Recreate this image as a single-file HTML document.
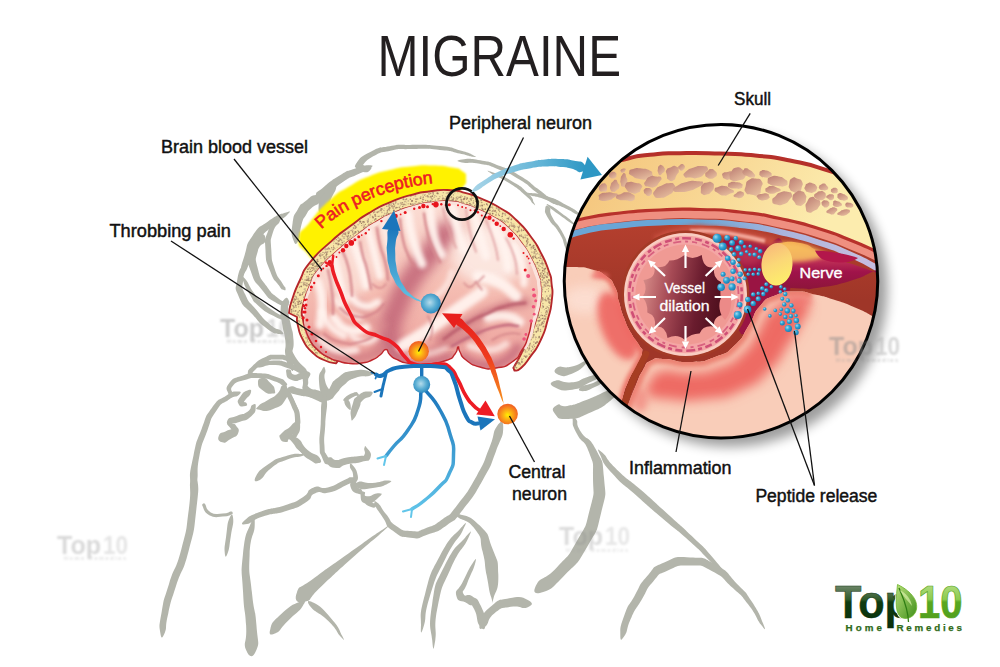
<!DOCTYPE html><html><head><meta charset="utf-8"><style>html,body{margin:0;padding:0;background:#fff}svg{display:block}text{font-family:"Liberation Sans",sans-serif}</style></head><body><svg width="1000" height="667" viewBox="0 0 1000 667">
<defs>
<clipPath id="cc"><circle cx="721" cy="281.2" r="157"/></clipPath>
<filter id="b1" x="-100%" y="-100%" width="300%" height="300%"><feGaussianBlur stdDeviation="1"/></filter>
<filter id="b2" x="-100%" y="-100%" width="300%" height="300%"><feGaussianBlur stdDeviation="2"/></filter>
<filter id="b3" x="-100%" y="-100%" width="300%" height="300%"><feGaussianBlur stdDeviation="3.5"/></filter>
<filter id="b6" x="-100%" y="-100%" width="300%" height="300%"><feGaussianBlur stdDeviation="6"/></filter>
<filter id="b8" x="-100%" y="-100%" width="300%" height="300%"><feGaussianBlur stdDeviation="8"/></filter>
<radialGradient id="gOr" cx="50%" cy="55%" r="50%"><stop offset="0" stop-color="#fff200"/><stop offset="0.35" stop-color="#fdb913"/><stop offset="1" stop-color="#f26522"/></radialGradient>
<radialGradient id="gBl" cx="45%" cy="45%" r="58%"><stop offset="0" stop-color="#b5dcec"/><stop offset="0.55" stop-color="#5aaed3"/><stop offset="1" stop-color="#2a86bd"/></radialGradient>
<radialGradient id="gDot" cx="35%" cy="35%" r="65%"><stop offset="0" stop-color="#9fdcf2"/><stop offset="0.5" stop-color="#2fa3d3"/><stop offset="1" stop-color="#1a7fb5"/></radialGradient>
<linearGradient id="gBlueArrow" x1="0" y1="0" x2="0" y2="1"><stop offset="0" stop-color="#1b75bb"/><stop offset="1" stop-color="#63c3e4"/></linearGradient>
<linearGradient id="gRedArrow" x1="0" y1="0" x2="0" y2="1"><stop offset="0" stop-color="#e8201d"/><stop offset="0.45" stop-color="#ee3a1e"/><stop offset="1" stop-color="#f7941e"/></linearGradient>
<linearGradient id="gBigArrow" x1="0" y1="0" x2="1" y2="0"><stop offset="0" stop-color="#a9d5e8"/><stop offset="0.6" stop-color="#62b4d6"/><stop offset="1" stop-color="#2d97c4"/></linearGradient>
<linearGradient id="gBlueDown" gradientUnits="userSpaceOnUse" x1="0" y1="390" x2="0" y2="515"><stop offset="0" stop-color="#1b75bb"/><stop offset="1" stop-color="#62c6ea"/></linearGradient>
<linearGradient id="gBrain" gradientUnits="userSpaceOnUse" x1="0" y1="205" x2="0" y2="370"><stop offset="0" stop-color="#fbddd4"/><stop offset="0.5" stop-color="#f5bdb2"/><stop offset="1" stop-color="#ec9f9b"/></linearGradient>
<linearGradient id="gBone" gradientUnits="userSpaceOnUse" x1="620" y1="150" x2="800" y2="260"><stop offset="0" stop-color="#f5c880"/><stop offset="0.45" stop-color="#f8d794"/><stop offset="1" stop-color="#fcecae"/></linearGradient>
<linearGradient id="gHole" x1="0.1" y1="0" x2="0.8" y2="1"><stop offset="0" stop-color="#bd7f74"/><stop offset="1" stop-color="#e8c0a0"/></linearGradient>
<linearGradient id="gLumen" gradientUnits="userSpaceOnUse" x1="642" y1="290" x2="728" y2="305"><stop offset="0" stop-color="#d58a87"/><stop offset="0.3" stop-color="#a64a55"/><stop offset="0.65" stop-color="#6a1c2e"/><stop offset="1" stop-color="#470c19"/></linearGradient>
<linearGradient id="gNerveEnd" x1="0.2" y1="0" x2="0.6" y2="1"><stop offset="0" stop-color="#f8b77a"/><stop offset="0.5" stop-color="#fbd877"/><stop offset="1" stop-color="#fdee6b"/></linearGradient>
<linearGradient id="gNerve" gradientUnits="userSpaceOnUse" x1="0" y1="242" x2="0" y2="292"><stop offset="0" stop-color="#f6a94e"/><stop offset="0.3" stop-color="#c8385a"/><stop offset="0.6" stop-color="#a0134a"/><stop offset="1" stop-color="#8a1538"/></linearGradient>
<linearGradient id="gDark" gradientUnits="userSpaceOnUse" x1="0" y1="225" x2="0" y2="300"><stop offset="0" stop-color="#b43f2e"/><stop offset="1" stop-color="#9f3628"/></linearGradient><linearGradient id="gTop" x1="0" y1="0" x2="0" y2="1"><stop offset="0" stop-color="#9aa595"/><stop offset="0.45" stop-color="#2f5a2a"/><stop offset="0.5" stop-color="#0e3b10"/><stop offset="1" stop-color="#0a2f0c"/></linearGradient>
<linearGradient id="gTen" x1="0" y1="0" x2="0" y2="1"><stop offset="0" stop-color="#c5e59a"/><stop offset="0.45" stop-color="#8ccb4d"/><stop offset="0.5" stop-color="#5aa820"/><stop offset="1" stop-color="#4d9a1b"/></linearGradient>
<linearGradient id="gLeaf" x1="0" y1="0" x2="1" y2="1"><stop offset="0" stop-color="#b8df7a"/><stop offset="1" stop-color="#3f8f1a"/></linearGradient>
</defs>

<rect width="1000" height="667" fill="#fff"/>
<path d="M473.2,155.2 C469.1,153.1 471.4,153.5 460.4,150.5 C449.3,147.5 457.0,148.0 440.2,146.1 C423.4,144.3 426.8,144.9 410.0,144.9 C393.1,145.0 402.6,144.0 389.6,146.3 C376.5,148.5 381.7,146.3 370.8,151.7 C359.9,157.1 360.5,157.5 356.9,162.4 C353.3,167.4 354.7,168.6 360.1,166.6 C365.5,164.5 363.1,161.6 373.2,156.3 C383.3,151.0 378.1,153.1 390.4,150.7 C402.7,148.3 393.6,149.3 410.0,149.1 C426.5,148.8 423.3,148.4 439.8,149.9 C456.3,151.4 448.7,151.2 459.6,153.5 C470.6,155.8 468.2,156.3 472.8,156.8 C477.3,157.4 477.4,157.3 473.2,155.2Z" fill="#b3b5ab"/>
<path d="M356.0,168.0 C357.0,171.4 358.4,171.5 363.2,172.1 C368.0,172.7 368.2,171.9 370.3,169.9 C372.5,167.9 371.5,167.5 369.7,166.1 C367.8,164.8 368.0,167.3 364.8,165.9 C361.6,164.5 363.0,161.2 360.0,162.0 C357.1,162.7 354.9,164.7 356.0,168.0Z" fill="#b3b5ab"/>
<path d="M368.4,165.2 C363.1,165.3 363.1,165.8 353.8,169.0 C344.5,172.3 350.5,169.0 340.5,174.9 C330.5,180.9 332.0,180.0 323.8,186.9 C315.6,193.7 316.8,190.8 315.8,195.4 C314.9,200.0 316.6,201.3 321.0,200.6 C325.4,199.8 321.2,199.6 329.0,193.1 C336.8,186.6 335.3,187.1 344.3,181.1 C353.4,175.0 347.8,179.1 356.2,175.0 C364.7,170.9 365.6,172.0 369.6,168.8 C373.7,165.5 373.6,165.1 368.4,165.2Z" fill="#b3b5ab"/>
<path d="M333.9,186.1 C329.5,188.4 328.1,188.1 323.1,194.7 C318.0,201.4 319.2,198.9 318.6,206.0 C318.1,213.0 319.6,212.6 321.5,215.9 C323.5,219.3 322.2,218.7 324.5,216.1 C326.7,213.4 326.2,213.6 328.4,208.0 C330.5,202.4 328.3,206.0 330.9,199.3 C333.5,192.6 335.2,192.3 336.1,187.9 C337.1,183.5 338.2,183.8 333.9,186.1Z" fill="#b3b5ab"/>
<path d="M315.9,195.0 C310.9,195.2 311.1,196.8 305.0,201.6 C299.0,206.4 301.9,202.4 297.7,209.5 C293.6,216.7 294.1,212.9 292.6,223.1 C291.1,233.2 291.2,234.1 293.2,239.8 C295.3,245.5 296.0,245.1 298.8,240.2 C301.5,235.2 298.9,233.5 301.4,224.9 C303.9,216.4 303.1,220.0 306.3,214.5 C309.5,209.0 306.4,212.9 311.0,208.4 C315.6,203.9 318.5,205.5 320.1,201.0 C321.7,196.5 320.9,194.8 315.9,195.0Z" fill="#b3b5ab"/>
<path d="M285.2,212.8 C279.0,214.8 278.9,213.8 268.0,221.5 C257.1,229.1 260.4,224.5 252.6,235.7 C244.8,246.9 248.4,243.3 244.6,255.2 C240.8,267.1 241.1,265.6 241.2,271.4 C241.3,277.2 241.4,277.1 244.8,272.6 C248.2,268.0 246.6,268.6 251.4,257.8 C256.3,247.0 252.5,250.7 259.4,240.3 C266.3,229.9 262.9,234.9 272.0,226.5 C281.1,218.2 282.4,219.8 286.8,215.2 C291.2,210.7 291.5,210.7 285.2,212.8Z" fill="#b3b5ab"/>
<path d="M256.4,239.0 C252.7,241.6 251.7,241.1 248.6,248.6 C245.6,256.1 246.4,256.9 247.2,261.5 C247.9,266.2 248.1,265.8 250.8,262.5 C253.6,259.1 252.4,258.5 255.4,251.4 C258.3,244.2 259.3,245.1 259.6,241.0 C260.0,236.9 260.0,236.5 256.4,239.0Z" fill="#b3b5ab"/>
<path d="M461.9,162.6 C467.8,164.0 467.2,161.4 479.7,163.8 C492.1,166.2 486.1,164.4 499.3,169.7 C512.6,174.9 507.4,172.3 519.4,179.6 C531.4,186.8 525.9,184.5 535.3,191.5 C544.7,198.4 540.6,195.9 547.5,200.3 C554.4,204.7 552.9,203.7 556.0,204.7 C559.2,205.7 559.2,205.6 557.0,203.3 C554.7,200.9 555.8,202.6 549.3,197.7 C542.8,192.8 546.8,195.6 537.5,188.5 C528.1,181.5 533.5,183.9 521.2,176.4 C509.0,169.0 514.3,171.7 500.7,166.3 C487.0,160.9 493.2,162.5 480.3,160.2 C467.5,157.9 468.2,158.6 462.1,159.4 C455.9,160.2 456.1,161.1 461.9,162.6Z" fill="#b3b5ab"/>
<path d="M491.6,173.8 C497.3,177.5 498.3,176.2 509.5,183.3 C520.7,190.5 517.4,188.5 525.2,195.2 C533.1,201.8 530.0,200.9 532.9,203.4 C535.8,205.9 535.7,206.1 533.9,202.6 C532.0,199.1 534.9,200.2 527.4,192.8 C519.8,185.5 522.8,187.5 511.1,180.7 C499.5,173.8 498.9,174.5 492.4,172.2 C485.9,169.9 485.9,170.1 491.6,173.8Z" fill="#b3b5ab"/>
<path d="M529.1,195.1 C534.5,197.3 534.3,195.5 545.8,199.7 C557.3,203.9 552.9,202.5 563.7,207.6 C574.4,212.7 572.9,213.2 578.1,215.0 C583.2,216.8 583.4,216.6 579.1,213.0 C574.9,209.5 576.0,210.0 565.3,204.4 C554.6,198.8 558.9,200.1 547.0,196.3 C535.1,192.5 535.6,193.3 529.7,192.9 C523.7,192.5 523.8,192.8 529.1,195.1Z" fill="#b3b5ab"/>
<path d="M548.9,206.7 C552.2,210.0 552.0,209.4 559.7,215.1 C567.4,220.7 567.5,221.3 572.0,223.7 C576.4,226.1 576.6,225.9 573.0,222.3 C569.5,218.7 569.0,218.6 561.3,212.9 C553.6,207.3 554.0,207.4 549.9,205.3 C545.8,203.2 545.6,203.4 548.9,206.7Z" fill="#b3b5ab"/>
<path d="M545.2,208.7 C544.9,212.5 544.0,210.9 548.6,219.0 C553.2,227.0 553.7,223.4 559.1,232.8 C564.6,242.1 562.1,238.5 565.0,247.0 C567.9,255.5 566.2,254.6 567.9,258.2 C569.6,261.8 570.1,261.8 570.1,257.8 C570.1,253.7 570.7,254.9 568.0,246.0 C565.3,237.2 567.1,240.9 561.9,231.2 C556.6,221.6 556.3,225.0 552.2,217.0 C548.1,209.1 551.9,210.1 549.6,207.3 C547.3,204.6 545.5,204.8 545.2,208.7Z" fill="#b3b5ab"/>
<path d="M276.9,219.0 C273.0,222.4 271.8,220.8 268.0,231.2 C264.2,241.6 264.8,236.9 265.5,250.2 C266.1,263.4 265.6,259.2 270.0,270.8 C274.4,282.5 274.1,278.8 278.6,285.1 C283.0,291.5 281.1,288.8 283.3,289.8 C285.6,290.8 285.8,290.5 285.5,288.2 C285.1,285.8 285.8,289.2 282.2,282.9 C278.7,276.5 278.4,280.2 274.8,269.2 C271.2,258.1 272.0,262.0 271.3,249.8 C270.7,237.7 270.0,242.4 272.8,232.8 C275.7,223.2 278.5,225.6 279.9,221.0 C281.2,216.4 280.9,215.6 276.9,219.0Z" fill="#b3b5ab"/>
<path d="M258.7,235.5 C253.0,238.3 250.8,237.0 248.2,248.8 C245.5,260.7 246.1,257.4 250.7,271.1 C255.3,284.7 253.9,279.4 261.9,289.7 C270.0,300.1 266.9,296.9 274.9,302.1 C282.9,307.2 281.9,305.0 285.9,305.3 C289.9,305.5 289.6,305.2 286.9,302.7 C284.2,300.3 284.6,303.4 277.9,297.9 C271.2,292.4 273.3,295.9 266.7,286.3 C260.0,276.6 260.8,280.6 257.9,268.9 C254.9,257.2 255.3,260.6 257.8,251.2 C260.3,241.7 265.0,245.7 265.3,240.5 C265.6,235.3 264.4,232.7 258.7,235.5Z" fill="#b3b5ab"/>
<path d="M244.7,262.4 C241.1,267.8 239.1,268.0 237.3,279.6 C235.4,291.3 234.2,285.9 239.1,297.4 C244.1,308.8 242.8,303.6 252.1,313.9 C261.3,324.3 257.6,321.7 266.8,328.4 C276.0,335.1 274.8,333.2 279.6,334.0 C284.4,334.8 284.4,334.0 281.2,330.8 C278.0,327.6 278.2,331.3 270.0,324.4 C261.8,317.5 264.8,320.0 256.5,310.1 C248.3,300.2 249.7,304.6 245.3,294.6 C240.8,284.7 242.2,290.7 243.1,280.4 C244.0,270.0 247.4,269.6 247.9,263.6 C248.5,257.6 248.2,257.1 244.7,262.4Z" fill="#b3b5ab"/>
<path d="M243.1,280.7 C244.7,285.9 245.0,286.8 250.2,295.2 C255.4,303.6 250.9,299.0 258.6,305.9 C266.3,312.8 264.9,311.3 273.3,315.8 C281.7,320.4 280.0,319.2 283.9,319.6 C287.7,320.1 287.7,319.7 284.9,317.2 C282.2,314.7 283.2,317.2 275.5,312.2 C267.9,307.1 269.2,308.5 262.0,302.1 C254.8,295.6 259.3,300.4 253.8,292.8 C248.3,285.2 249.0,283.4 245.5,279.3 C241.9,275.3 241.5,275.4 243.1,280.7Z" fill="#b3b5ab"/>
<path d="M283.9,299.8 C281.2,302.8 281.2,301.7 280.6,310.0 C280.1,318.3 280.8,314.6 282.3,324.7 C283.8,334.8 284.1,329.8 285.3,340.3 C286.4,350.9 284.0,346.9 285.7,356.3 C287.3,365.7 287.6,364.7 290.3,368.4 C293.0,372.2 293.0,371.8 293.7,367.6 C294.4,363.3 292.4,365.0 292.3,355.7 C292.3,346.4 294.2,350.5 293.5,339.7 C292.9,328.9 292.3,333.2 290.5,323.3 C288.7,313.4 288.7,317.5 288.1,310.0 C287.6,302.5 290.3,304.2 288.9,300.8 C287.5,297.4 286.7,296.7 283.9,299.8Z" fill="#b3b5ab"/>
<path d="M196.5,482.3 C199.4,474.0 195.8,473.7 199.3,456.6 C202.9,439.5 201.6,446.3 207.2,431.1 C212.8,415.8 209.1,421.3 216.2,410.9 C223.2,400.6 220.8,405.3 228.3,400.0 C235.9,394.7 235.8,397.9 238.8,395.1 C241.7,392.2 241.6,391.2 237.2,391.5 C232.9,391.8 234.1,390.5 225.7,396.0 C217.2,401.4 219.9,396.9 211.8,407.9 C203.8,418.9 207.7,413.1 201.6,428.9 C195.5,444.8 197.2,437.8 193.5,455.4 C189.8,473.0 189.5,472.7 190.5,481.7 C191.5,490.7 193.5,490.7 196.5,482.3Z" fill="#b3b5ab"/>
<path d="M231.9,393.5 C233.5,391.1 228.8,390.4 232.7,386.0 C236.7,381.6 235.0,382.9 243.7,380.3 C252.5,377.7 248.7,377.8 258.9,378.1 C269.1,378.4 266.0,378.7 274.3,381.2 C282.6,383.6 280.1,385.2 283.9,385.4 C287.6,385.7 288.3,384.8 285.5,382.0 C282.8,379.1 284.5,379.7 275.7,376.8 C266.9,373.9 270.2,373.7 259.1,373.3 C247.9,372.9 252.2,372.4 242.3,375.7 C232.3,378.9 234.0,377.2 229.3,383.0 C224.5,388.8 227.2,389.6 228.1,393.1 C229.0,396.6 230.4,395.9 231.9,393.5Z" fill="#b3b5ab"/>
<path d="M251.0,375.1 C253.5,374.0 250.4,373.8 255.5,369.4 C260.7,364.9 259.4,365.1 266.4,361.8 C273.5,358.5 269.3,359.6 276.7,359.6 C284.1,359.6 281.8,359.1 288.6,361.9 C295.5,364.6 292.2,363.4 297.2,368.0 C302.3,372.5 300.5,373.9 303.8,375.5 C307.2,377.0 308.4,376.4 307.4,372.5 C306.3,368.7 306.4,369.1 300.8,364.0 C295.1,359.0 298.4,360.4 290.4,357.3 C282.4,354.3 285.4,354.8 276.7,354.8 C268.0,354.8 272.5,353.7 264.4,357.4 C256.3,361.1 258.0,360.9 252.5,366.0 C247.0,371.2 248.4,369.8 247.8,372.9 C247.3,375.9 248.4,376.3 251.0,375.1Z" fill="#b3b5ab"/>
<path d="M259.3,367.5 C264.3,367.7 263.7,364.7 273.5,365.1 C283.3,365.4 279.4,365.9 288.8,368.5 C298.2,371.2 296.8,373.0 301.6,373.0 C306.4,373.1 307.0,372.0 303.2,368.8 C299.4,365.6 300.1,366.2 290.2,363.5 C280.3,360.7 284.0,360.2 273.5,360.5 C263.0,360.9 263.4,362.1 258.7,364.5 C253.9,366.8 254.4,367.3 259.3,367.5Z" fill="#b3b5ab"/>
<path d="M258.0,383.1 C258.1,387.4 258.9,387.4 263.6,390.9 C268.4,394.4 268.4,393.9 272.2,393.5 C275.9,393.2 275.4,393.3 274.8,389.9 C274.2,386.4 274.2,387.1 270.4,383.1 C266.5,379.2 267.4,377.9 263.2,377.9 C259.1,377.9 257.8,378.8 258.0,383.1Z" fill="#b3b5ab"/>
<path d="M282.5,385.3 C279.4,387.6 282.3,388.5 277.5,393.4 C272.6,398.3 274.3,395.8 268.0,400.0 C261.7,404.2 261.3,402.7 258.5,405.9 C255.6,409.2 254.8,408.6 259.5,409.7 C264.2,410.7 263.9,412.5 272.6,409.2 C281.3,405.8 280.8,407.1 285.5,399.6 C290.3,392.1 287.9,391.4 286.9,386.7 C285.9,381.9 285.7,383.1 282.5,385.3Z" fill="#b3b5ab"/>
<path d="M248.0,390.3 C244.7,391.4 243.7,391.6 240.6,396.3 C237.4,400.9 237.0,401.0 238.7,404.2 C240.3,407.5 242.9,406.5 245.5,406.1 C248.1,405.7 247.0,404.6 246.5,403.1 C246.1,401.7 244.5,402.9 244.1,401.8 C243.8,400.6 243.2,402.6 245.4,399.7 C247.6,396.8 249.9,396.2 250.8,393.1 C251.6,389.9 251.4,389.3 248.0,390.3Z" fill="#b3b5ab"/>
<path d="M252.3,405.0 C249.6,406.6 252.7,408.1 247.5,411.7 C242.3,415.3 243.4,413.0 236.7,415.9 C230.0,418.8 229.4,416.3 227.4,420.5 C225.4,424.7 229.2,425.6 230.7,428.5 C232.2,431.3 233.3,428.2 231.8,429.1 C230.4,430.0 230.7,428.9 226.4,431.1 C222.0,433.3 220.3,432.0 218.8,435.7 C217.4,439.4 218.2,441.3 222.2,442.3 C226.1,443.4 225.3,442.0 230.6,438.9 C236.0,435.7 236.4,437.3 238.2,432.9 C239.9,428.5 237.8,428.7 235.9,425.5 C234.0,422.4 231.5,424.7 232.6,423.5 C233.7,422.4 233.0,424.5 239.3,422.1 C245.5,419.7 245.8,421.4 251.3,416.3 C256.7,411.3 255.3,410.7 255.7,407.0 C256.0,403.2 255.0,403.5 252.3,405.0Z" fill="#b3b5ab"/>
<path d="M284.6,390.9 C285.4,395.8 287.2,395.0 290.6,403.9 C294.0,412.8 294.6,410.5 294.9,417.6 C295.2,424.7 295.4,420.4 291.5,425.2 C287.5,430.0 286.8,427.9 283.0,432.1 C279.1,436.4 278.9,434.7 279.9,438.0 C281.0,441.3 282.8,442.1 286.1,442.0 C289.3,442.0 286.0,442.3 289.6,437.9 C293.3,433.5 293.6,435.7 297.1,428.8 C300.6,421.9 300.9,426.1 300.1,417.2 C299.4,408.3 298.8,411.5 294.8,402.1 C290.8,392.8 291.4,392.9 288.0,389.1 C284.6,385.4 283.7,385.9 284.6,390.9Z" fill="#b3b5ab"/>
<path d="M288.3,437.5 C288.5,440.1 288.8,437.9 292.5,442.4 C296.3,446.9 294.3,446.6 299.5,450.9 C304.7,455.2 304.9,454.6 308.2,455.3 C311.5,456.1 311.4,455.7 309.4,453.3 C307.4,450.8 306.5,452.6 302.1,448.1 C297.7,443.5 299.5,444.1 296.1,439.6 C292.6,435.1 294.3,435.2 291.7,434.5 C289.1,433.8 288.0,434.8 288.3,437.5Z" fill="#b3b5ab"/>
<path d="M286.2,372.2 C286.8,375.8 286.1,377.9 291.8,380.1 C297.4,382.4 297.2,380.2 303.1,379.0 C309.0,377.8 307.8,379.1 309.5,376.5 C311.2,374.0 310.7,372.8 308.1,371.5 C305.5,370.1 306.6,371.4 301.7,372.4 C296.9,373.4 297.6,375.4 293.6,374.5 C289.7,373.5 292.3,370.3 289.8,369.6 C287.3,368.8 285.5,368.7 286.2,372.2Z" fill="#b3b5ab"/>
<path d="M303.7,374.9 C302.0,377.2 302.7,376.4 303.0,382.2 C303.2,387.9 300.5,386.4 304.5,392.2 C308.5,397.9 308.0,396.3 315.0,399.4 C321.9,402.5 321.1,403.2 325.3,401.5 C329.5,399.9 329.7,398.1 327.5,394.5 C325.3,390.8 324.6,392.8 318.6,390.6 C312.6,388.4 313.0,390.7 309.5,387.8 C306.1,384.9 308.6,386.1 308.2,381.8 C307.8,377.6 309.8,377.4 308.3,375.1 C306.8,372.8 305.5,372.5 303.7,374.9Z" fill="#b3b5ab"/>
<path d="M288.4,350.6 C289.4,354.4 289.8,354.4 293.3,361.0 C296.9,367.6 296.1,367.9 299.2,370.3 C302.2,372.8 303.3,372.0 302.4,368.3 C301.6,364.5 300.6,365.3 296.7,359.0 C292.7,352.7 293.3,352.2 290.6,349.4 C287.8,346.6 287.5,346.7 288.4,350.6Z" fill="#b3b5ab"/>
<path d="M289.2,391.5 C291.9,394.4 291.9,393.3 298.9,395.3 C305.8,397.2 302.7,395.8 310.1,397.3 C317.5,398.8 316.9,400.9 321.1,399.9 C325.4,398.8 326.0,397.4 322.9,394.1 C319.7,390.9 319.2,391.9 311.7,390.1 C304.2,388.3 307.3,389.9 300.3,388.7 C293.4,387.5 294.5,385.6 290.8,386.5 C287.1,387.4 286.5,388.6 289.2,391.5Z" fill="#b3b5ab"/>
<path d="M291.7,402.1 C292.1,408.7 295.8,410.1 296.1,421.1 C296.4,432.0 292.3,430.0 292.6,434.9 C292.9,439.8 294.6,440.6 297.0,435.9 C299.5,431.2 300.7,432.4 299.9,420.9 C299.2,409.4 297.5,407.6 294.7,401.3 C292.0,395.0 291.2,395.5 291.7,402.1Z" fill="#b3b5ab"/>
<path d="M296.7,441.2 C298.4,445.8 298.1,446.2 304.4,453.1 C310.7,460.0 310.7,460.6 315.6,461.9 C320.5,463.3 321.7,461.1 319.0,457.1 C316.4,453.0 314.2,455.8 307.6,449.9 C301.0,444.0 302.9,442.3 299.3,439.4 C295.6,436.5 295.0,436.6 296.7,441.2Z" fill="#b3b5ab"/>
<path d="M322.1,369.4 C320.1,373.2 318.5,372.4 319.0,381.4 C319.6,390.4 320.1,392.1 323.8,396.4 C327.6,400.7 329.8,399.5 330.2,394.2 C330.5,388.9 326.6,388.7 325.0,380.6 C323.3,372.5 326.2,373.6 325.3,369.8 C324.3,366.1 324.2,365.5 322.1,369.4Z" fill="#b3b5ab"/>
<path d="M370.2,371.7 C364.5,370.1 363.9,369.0 353.3,370.8 C342.7,372.7 346.3,371.5 338.5,377.2 C330.6,382.9 333.7,381.2 329.8,387.9 C325.8,394.6 326.3,393.4 326.5,397.3 C326.8,401.3 327.0,401.1 330.5,399.7 C333.9,398.3 332.2,398.1 336.8,393.1 C341.5,388.2 338.2,389.8 344.3,384.8 C350.4,379.7 346.4,381.1 355.1,378.0 C363.8,374.9 365.4,377.6 370.4,375.5 C375.4,373.4 375.9,373.2 370.2,371.7Z" fill="#b3b5ab"/>
<path d="M369.4,391.6 C365.2,391.4 364.1,390.7 358.4,395.2 C352.7,399.7 354.8,397.7 352.4,405.1 C349.9,412.5 350.5,413.0 351.1,417.4 C351.7,421.7 351.4,421.4 354.1,418.2 C356.8,415.1 356.3,413.9 359.2,407.9 C362.1,401.9 358.8,404.2 362.8,400.2 C366.8,396.2 369.0,398.7 371.2,395.8 C373.4,392.9 373.7,391.8 369.4,391.6Z" fill="#b3b5ab"/>
<path d="M346.2,400.7 C349.5,400.1 350.9,397.8 354.8,396.3 C358.7,394.8 356.7,397.0 357.8,396.2 C359.0,395.4 359.6,395.0 358.2,393.8 C356.7,392.6 358.1,391.3 353.6,392.7 C349.1,394.1 347.1,395.3 344.6,397.9 C342.2,400.6 342.8,401.2 346.2,400.7Z" fill="#b3b5ab"/>
<path d="M344.2,400.8 C344.3,403.9 345.7,406.4 348.0,408.6 C350.2,410.8 350.9,410.5 350.8,407.4 C350.8,404.3 350.0,401.5 347.8,399.2 C345.6,397.0 344.2,397.6 344.2,400.8Z" fill="#b3b5ab"/>
<path d="M322.2,399.9 C320.2,407.8 321.6,409.0 320.7,424.1 C319.8,439.2 319.1,434.0 319.6,445.1 C320.0,456.2 319.4,450.9 322.1,457.4 C324.8,463.9 324.3,463.5 327.7,464.6 C331.1,465.8 332.5,463.9 332.3,460.8 C332.0,457.6 329.5,460.5 326.9,455.2 C324.3,449.9 325.0,455.2 324.4,444.9 C323.9,434.6 324.5,439.2 325.3,424.3 C326.1,409.4 327.8,408.3 326.8,400.1 C325.8,392.0 324.2,391.9 322.2,399.9Z" fill="#b3b5ab"/>
<path d="M327.1,462.7 C329.2,466.2 329.5,467.5 336.2,468.0 C342.8,468.6 338.7,466.3 347.1,464.3 C355.4,462.2 353.4,464.2 361.2,461.9 C369.0,459.6 368.7,462.1 370.5,457.4 C372.4,452.6 368.8,450.7 366.7,447.7 C364.6,444.7 365.1,446.0 364.3,448.3 C363.6,450.6 366.0,452.0 364.5,454.6 C363.0,457.2 366.1,455.1 359.8,456.1 C353.6,457.1 353.4,456.4 345.7,457.7 C338.0,459.0 342.0,460.1 336.6,460.0 C331.3,459.8 332.9,456.4 329.7,457.3 C326.5,458.2 324.9,459.1 327.1,462.7Z" fill="#b3b5ab"/>
<path d="M294.7,440.8 C295.6,444.9 295.0,445.0 300.3,451.5 C305.7,458.1 304.7,456.7 310.7,460.5 C316.7,464.4 315.2,463.6 318.4,463.1 C321.6,462.6 321.7,461.4 320.2,458.9 C318.7,456.4 319.4,459.0 313.9,455.5 C308.4,452.0 309.2,453.9 303.7,448.5 C298.2,443.0 300.4,441.7 297.3,439.2 C294.3,436.6 293.7,436.7 294.7,440.8Z" fill="#b3b5ab"/>
<path d="M259.9,479.9 C265.0,477.1 262.5,474.7 271.4,468.0 C280.3,461.3 276.4,463.8 286.6,459.8 C296.9,455.8 297.1,457.9 302.2,456.0 C307.2,454.0 307.4,454.0 301.8,454.0 C296.2,454.1 296.4,452.8 285.4,456.2 C274.3,459.5 278.3,457.4 268.6,464.0 C258.8,470.7 259.0,470.9 256.1,476.1 C253.2,481.4 254.8,482.6 259.9,479.9Z" fill="#b3b5ab"/>
<path d="M349.9,466.6 C350.1,470.2 353.0,469.5 353.2,476.2 C353.5,483.0 348.7,481.0 350.6,486.9 C352.6,492.8 355.2,492.7 359.0,493.9 C362.8,495.1 362.9,493.4 362.0,490.5 C361.1,487.6 357.8,490.0 356.4,485.1 C354.9,480.2 358.9,482.3 357.8,475.8 C356.6,469.2 355.5,468.5 352.9,465.4 C350.2,462.3 349.8,463.0 349.9,466.6Z" fill="#b3b5ab"/>
<path d="M357.9,488.0 C362.8,490.0 362.7,489.6 372.8,488.1 C382.8,486.6 383.1,486.1 388.0,483.5 C392.8,481.0 392.5,480.7 387.2,480.5 C382.0,480.3 381.9,482.4 372.2,482.9 C362.5,483.4 362.9,480.3 358.1,482.0 C353.3,483.7 353.0,486.0 357.9,488.0Z" fill="#b3b5ab"/>
<path d="M360.5,494.1 C361.0,498.1 359.8,502.8 366.0,503.7 C372.3,504.6 375.4,500.3 379.3,496.8 C383.3,493.3 382.0,493.4 377.9,493.2 C373.7,493.1 371.4,496.8 367.0,496.3 C362.5,495.9 366.6,492.6 364.5,491.9 C362.3,491.1 360.0,490.2 360.5,494.1Z" fill="#b3b5ab"/>
<path d="M364.5,501.8 C365.8,504.7 367.1,505.9 371.2,507.1 C375.3,508.4 375.2,507.1 376.8,505.5 C378.5,504.0 377.5,503.4 376.2,502.5 C374.8,501.6 375.7,504.3 372.8,502.9 C369.9,501.5 370.2,498.6 367.5,498.2 C364.7,497.9 363.3,498.8 364.5,501.8Z" fill="#b3b5ab"/>
<path d="M375.2,504.9 C376.9,509.6 376.9,508.7 382.8,517.4 C388.7,526.0 383.7,524.1 392.9,530.8 C402.1,537.6 398.7,536.5 410.4,537.7 C422.0,539.0 415.6,538.8 427.8,534.5 C440.1,530.3 435.5,533.3 447.2,525.0 C458.8,516.8 450.9,525.0 462.9,509.8 C474.9,494.6 472.2,498.8 483.2,479.3 C494.2,459.8 489.3,468.3 495.9,451.4 C502.6,434.5 502.9,436.9 503.2,428.6 C503.5,420.2 501.5,419.8 496.8,426.4 C492.1,433.1 495.7,432.2 489.1,448.6 C482.4,465.0 487.4,456.8 476.8,475.7 C466.1,494.5 468.4,490.8 457.1,505.2 C445.8,519.7 453.4,511.3 442.8,519.0 C432.3,526.7 436.2,524.2 425.6,528.3 C415.0,532.3 420.8,531.8 411.0,531.1 C401.3,530.3 404.5,531.4 396.3,526.0 C388.1,520.5 392.6,522.3 386.4,514.6 C380.3,507.0 381.5,506.4 377.8,503.1 C374.1,499.9 373.5,500.1 375.2,504.9Z" fill="#b3b5ab"/>
<path d="M247.0,524.0 C253.0,522.9 249.6,520.9 262.9,516.5 C276.2,512.1 272.7,515.5 286.9,510.8 C301.2,506.2 296.1,508.4 305.6,502.5 C315.1,496.7 307.6,496.6 315.4,493.3 C323.3,489.9 319.0,495.2 329.0,492.6 C339.1,489.9 337.4,489.3 345.5,485.4 C353.6,481.5 351.2,483.4 353.3,480.7 C355.3,478.0 354.9,477.3 351.5,477.3 C348.2,477.2 351.2,477.2 343.3,480.6 C335.4,484.0 337.8,485.1 327.8,487.4 C317.7,489.8 321.6,484.4 313.2,487.7 C304.7,491.1 311.8,491.6 302.4,497.5 C293.1,503.3 298.8,500.5 285.1,505.2 C271.3,509.8 274.5,506.6 261.1,511.5 C247.8,516.4 249.7,515.8 245.0,520.0 C240.3,524.1 241.1,525.2 247.0,524.0Z" fill="#b3b5ab"/>
<path d="M191.0,477.9 C188.3,488.3 192.0,485.8 188.8,509.5 C185.6,533.3 188.0,524.3 181.4,549.0 C174.8,573.8 175.5,563.0 169.0,583.9 C162.4,604.8 164.6,595.7 161.7,611.8 C158.8,627.9 159.2,625.2 160.2,632.2 C161.2,639.2 162.1,639.1 164.8,632.8 C167.4,626.4 164.5,628.7 168.3,613.2 C172.0,597.6 169.3,606.9 176.0,586.1 C182.8,565.4 181.9,576.2 188.6,551.0 C195.3,525.7 193.4,534.7 196.2,510.5 C199.0,486.2 198.7,489.0 197.0,478.1 C195.3,467.3 193.7,467.4 191.0,477.9Z" fill="#b3b5ab"/>
<path d="M203.8,505.0 C205.8,507.9 203.8,510.4 210.0,513.8 C216.2,517.1 215.4,515.2 222.5,515.0 C229.6,514.8 228.3,513.7 231.2,513.0" fill="none" stroke="#b3b5ab" stroke-width="3.1" stroke-linecap="round" stroke-linejoin="round"/>
<path d="M229.3,518.4 C227.0,524.0 227.8,524.4 226.2,535.7 C224.7,546.9 224.2,546.6 224.7,552.3 C225.2,558.0 225.8,558.0 227.8,552.7 C229.8,547.4 229.0,547.6 230.8,536.3 C232.5,525.1 233.6,525.0 233.2,519.1 C232.7,513.1 231.7,512.9 229.3,518.4Z" fill="#b3b5ab"/>
<path d="M250.3,524.5 C246.3,534.3 245.3,532.0 242.9,554.8 C240.5,577.5 242.0,569.3 243.1,592.8 C244.2,616.3 245.1,606.3 246.1,625.3 C247.2,644.4 242.7,641.8 246.1,650.0 C249.5,658.2 253.0,658.4 256.4,650.0 C259.8,641.6 257.8,643.9 256.4,624.7 C254.9,605.4 254.2,615.3 251.9,592.2 C249.6,569.0 248.6,577.5 249.6,555.2 C250.5,533.0 254.5,535.7 254.7,525.5 C255.0,515.2 254.2,514.8 250.3,524.5Z" fill="#b3b5ab"/>
<path d="M384.6,528.2 C372.1,536.3 371.5,537.1 348.1,553.7 C324.8,570.2 331.6,564.9 314.5,577.8 C297.4,590.7 300.0,584.4 296.9,592.4 C293.8,600.3 296.9,603.7 305.1,601.6 C313.3,599.6 305.9,600.6 321.5,586.2 C337.1,571.8 330.6,577.3 351.9,558.3 C373.2,539.4 374.5,539.4 385.4,529.3 C396.3,519.3 397.0,520.1 384.6,528.2Z" fill="#b3b5ab"/>
<path d="M299.3,602.0 C292.0,604.8 290.3,605.6 280.7,614.6 C271.1,623.5 272.2,622.6 270.4,628.8 C268.7,635.0 269.9,635.6 275.6,633.2 C281.2,630.7 278.3,630.5 287.3,621.4 C296.3,612.4 298.7,612.5 302.7,606.0 C306.7,599.5 306.7,599.1 299.3,602.0Z" fill="#b3b5ab"/>
<path d="M310.8,607.0 C315.6,613.1 318.7,611.5 328.6,621.3 C338.5,631.1 336.1,631.8 340.5,636.5 C345.0,641.2 345.0,641.4 342.0,635.5 C338.9,629.6 340.7,629.5 331.4,618.7 C322.2,607.9 321.1,606.9 314.2,603.0 C307.3,599.1 306.0,600.9 310.8,607.0Z" fill="#b3b5ab"/>
<path d="M460.0,529.1 C452.4,537.5 451.5,534.4 439.8,556.1 C428.2,577.8 431.3,571.4 425.0,594.3 C418.7,617.1 421.3,614.4 421.0,624.7 C420.6,635.1 421.0,634.9 424.0,625.3 C427.1,615.6 423.0,617.9 430.0,595.7 C437.1,573.6 434.3,580.5 445.2,558.9 C456.0,537.3 457.6,540.8 462.5,530.9 C467.5,521.0 467.5,520.7 460.0,529.1Z" fill="#b3b5ab"/>
<path d="M464.9,537.9 C457.2,546.7 455.4,543.9 444.5,566.1 C433.5,588.3 436.2,579.8 432.1,604.4 C428.0,629.1 431.1,628.1 432.2,639.9 C433.3,651.8 433.4,651.5 435.3,640.1 C437.2,628.6 432.9,629.3 437.9,605.6 C443.0,581.8 440.6,590.9 450.5,568.9 C460.4,546.9 462.8,550.0 467.6,539.6 C472.4,529.3 472.6,529.1 464.9,537.9Z" fill="#b3b5ab"/>
<path d="M456.7,516.3 C462.3,521.6 466.6,517.7 475.2,529.4 C483.9,541.2 478.8,536.2 482.6,551.5 C486.4,566.9 483.8,560.3 486.7,575.6 C489.6,590.9 488.9,590.2 491.3,597.5 C493.6,604.8 491.4,605.2 493.7,597.5 C496.1,589.8 498.7,590.7 498.3,574.4 C497.9,558.0 498.6,564.7 492.4,548.5 C486.2,532.2 491.1,537.2 479.8,525.6 C468.4,514.0 466.0,516.7 458.3,513.7 C450.6,510.6 451.0,511.1 456.7,516.3Z" fill="#b3b5ab"/>
<path d="M472.6,563.2 C468.7,569.0 468.3,570.7 462.9,581.6 C457.5,592.5 454.9,588.7 456.4,596.0 C458.0,603.4 461.5,599.2 467.4,603.6 C473.4,608.0 470.1,601.7 474.2,609.2 C478.3,616.6 475.9,620.8 479.6,625.8 C483.4,630.8 485.0,630.8 485.4,624.2 C485.8,617.5 485.1,615.1 480.8,605.8 C476.5,596.6 478.3,600.4 472.6,596.4 C466.8,592.5 465.4,598.3 463.6,594.0 C461.7,589.7 463.3,593.3 467.1,583.4 C470.9,573.5 473.0,571.0 474.9,564.3 C476.7,557.5 476.6,557.5 472.6,563.2Z" fill="#b3b5ab"/>
<path d="M485.0,626.7 C489.9,623.2 486.2,619.5 494.8,612.9 C503.4,606.3 500.0,608.6 510.8,606.8 C521.6,605.0 521.6,609.7 527.2,607.4 C532.9,605.2 533.8,603.2 527.8,600.1 C521.8,597.0 521.8,595.8 509.2,598.2 C496.7,600.5 499.9,598.7 490.2,607.1 C480.4,615.5 481.7,616.8 480.0,623.3 C478.3,629.8 480.0,630.2 485.0,626.7Z" fill="#b3b5ab"/>
<path d="M554.9,413.7 C558.8,418.3 556.8,419.3 568.6,418.9 C580.5,418.5 576.5,418.6 590.5,412.5 C604.5,406.3 601.0,407.9 610.7,400.4 C620.3,392.8 617.5,394.5 619.4,389.8 C621.4,385.1 621.3,385.6 616.6,386.2 C611.9,386.8 615.7,386.9 605.3,391.6 C595.0,396.3 598.2,395.6 585.5,400.3 C572.9,405.1 576.9,404.3 567.4,405.9 C557.9,407.5 561.2,402.5 557.1,405.1 C552.9,407.7 551.1,409.1 554.9,413.7Z" fill="#b3b5ab"/>
<path d="M558.3,374.7 C563.4,376.6 563.6,377.1 573.0,373.2 C582.5,369.3 582.5,367.1 586.6,363.1 C590.7,359.0 590.6,359.7 585.4,360.9 C580.2,362.2 580.2,364.7 571.0,366.8 C561.8,368.9 562.0,364.7 557.7,367.3 C553.5,369.9 553.2,372.7 558.3,374.7Z" fill="#b3b5ab"/>
<path d="M554.6,387.3 C560.3,390.3 561.0,391.2 572.4,389.7 C583.9,388.2 580.4,386.9 589.1,382.8 C597.8,378.7 595.8,380.2 598.6,377.5 C601.4,374.7 601.3,374.6 597.4,374.5 C593.5,374.5 595.5,374.6 586.9,377.2 C578.3,379.8 582.1,381.2 571.6,382.3 C561.0,383.5 561.0,379.0 555.4,380.7 C549.7,382.3 548.9,384.3 554.6,387.3Z" fill="#b3b5ab"/>
<path d="M582.7,391.2 C587.3,391.2 588.2,390.4 594.9,387.1 C601.6,383.8 600.8,384.1 602.8,381.3 C604.9,378.5 604.4,378.1 601.2,378.7 C597.9,379.2 599.7,380.2 593.1,382.9 C586.4,385.6 584.7,384.1 581.3,386.8 C577.8,389.6 578.2,391.1 582.7,391.2Z" fill="#b3b5ab"/>
<path d="M572.7,420.6 C572.9,425.6 571.6,423.5 577.0,434.1 C582.5,444.8 583.8,437.8 589.1,452.5 C594.4,467.2 592.8,459.2 593.0,478.3 C593.3,497.3 595.2,488.6 589.8,509.6 C584.5,530.5 587.9,521.9 576.9,541.1 C566.0,560.3 570.4,552.9 557.0,567.2 C543.7,581.5 541.4,575.8 536.8,584.0 C532.2,592.3 533.8,595.1 543.2,592.0 C552.6,588.9 550.3,589.8 565.0,574.8 C579.6,559.8 575.0,567.7 587.1,546.9 C599.1,526.1 595.5,535.5 601.2,512.4 C606.8,489.4 605.7,498.7 604.0,477.7 C602.2,456.8 603.6,464.8 595.9,449.5 C588.2,434.2 587.5,441.9 581.0,431.9 C574.4,421.8 579.1,423.1 576.3,419.4 C573.6,415.6 572.4,415.7 572.7,420.6Z" fill="#b3b5ab"/>
<path d="M600.2,454.9 C603.6,461.9 600.7,460.5 612.8,474.1 C624.9,487.7 619.6,480.6 636.6,495.8 C653.5,510.9 646.6,504.8 663.8,519.5 C681.0,534.2 673.0,526.3 688.2,539.9 C703.4,553.6 695.5,545.9 709.3,560.5 C723.1,575.1 722.2,576.5 729.6,583.8 C736.9,591.0 737.1,591.0 731.4,582.2 C725.8,573.5 725.9,572.9 712.7,557.5 C699.5,542.1 706.6,550.4 691.8,536.1 C677.0,521.7 685.0,529.8 668.2,514.5 C651.4,499.2 658.5,505.1 641.4,490.2 C624.4,475.4 630.1,482.3 617.2,469.9 C604.3,457.5 608.4,458.1 602.8,453.1 C597.1,448.1 596.9,447.9 600.2,454.9Z" fill="#b3b5ab"/>
<path d="M624.7,635.6 C628.4,630.0 625.8,629.3 631.4,617.4 C637.0,605.6 634.3,612.0 641.5,600.1 C648.7,588.2 644.3,591.5 653.0,581.7 C661.8,571.8 655.5,575.9 667.8,570.5 C680.0,565.2 675.1,565.3 689.9,565.6 C704.7,565.8 697.9,563.7 712.2,571.2 C726.6,578.8 720.9,577.1 732.9,588.1 C744.9,599.2 738.8,592.2 748.1,604.3 C757.5,616.5 756.0,618.2 760.9,624.6 C765.9,631.0 766.1,631.0 763.1,623.4 C760.0,615.8 760.5,614.9 751.9,601.7 C743.2,588.5 749.1,596.2 737.1,583.9 C725.1,571.5 731.4,573.6 715.8,564.8 C700.1,555.9 707.3,558.2 690.1,557.4 C672.9,556.7 678.6,556.2 664.2,562.5 C649.8,568.7 656.9,565.2 647.0,576.3 C637.1,587.5 642.0,583.2 634.5,595.9 C627.1,608.7 629.3,601.8 624.6,614.6 C619.9,627.4 620.3,627.3 620.3,634.4 C620.3,641.4 621.0,641.3 624.7,635.6Z" fill="#b3b5ab"/>
<path d="M299.0,238.0 C300.3,228.0 299.7,234.7 310.0,222.0 C320.3,209.3 316.7,212.0 330.0,200.0 C343.3,188.0 336.7,194.0 350.0,186.0 C363.3,178.0 356.7,181.3 370.0,176.0 C383.3,170.7 376.5,173.2 390.0,170.0 C403.5,166.8 396.6,168.0 410.6,166.5 C424.6,165.0 418.2,165.2 432.0,165.5 C445.8,165.8 442.0,165.7 452.0,167.5 C462.0,169.3 457.3,167.5 462.0,171.0 C466.7,174.5 466.0,172.3 466.0,178.0 C466.0,183.7 467.3,182.0 462.0,188.0 C456.7,194.0 464.0,192.0 450.0,196.0 C436.0,200.0 440.0,195.3 420.0,200.0 C400.0,204.7 410.0,200.7 390.0,210.0 C370.0,219.3 378.3,215.3 360.0,228.0 C341.7,240.7 349.0,238.0 335.0,248.0 C321.0,258.0 327.7,256.7 318.0,258.0 C308.3,259.3 312.3,258.7 306.0,252.0 C299.7,245.3 297.7,248.0 299.0,238.0Z" fill="#fff200" filter="url(#b1)"/>
<clipPath id="skullclip"><path d="M289.0,313.0 C290.0,308.7 288.3,311.0 292.0,300.0 C295.7,289.0 294.0,292.5 300.0,280.0 C306.0,267.5 300.0,274.9 310.0,262.4 C320.0,249.9 316.7,254.4 330.0,242.4 C343.3,230.4 336.5,236.4 350.0,226.3 C363.5,216.2 356.9,220.2 370.4,212.2 C383.9,204.2 377.1,207.9 390.5,202.2 C403.9,196.5 397.2,198.9 410.6,195.2 C424.0,191.5 417.2,192.9 430.6,191.2 C444.0,189.5 438.9,189.5 450.7,190.2 C462.5,190.9 456.2,190.5 466.0,193.2 C475.8,195.9 468.5,193.2 480.0,198.2 C491.5,203.2 488.2,200.8 500.4,208.2 C512.6,215.6 506.5,210.9 516.5,220.3 C526.5,229.7 522.5,225.6 530.5,236.3 C538.5,247.0 534.6,241.0 540.6,252.4 C546.6,263.8 544.9,260.0 548.6,270.5 C552.3,281.0 550.5,274.1 551.6,284.0 C552.7,293.9 553.1,288.1 551.8,300.2 C550.5,312.3 551.3,306.8 547.6,320.2 C543.9,333.6 546.3,328.2 540.6,340.3 C534.9,352.4 537.0,347.2 530.5,356.4 C524.0,365.6 526.3,363.3 521.0,368.0 C515.7,372.7 516.7,369.7 514.5,370.6 L513.4,367.8 C514.4,366.1 513.2,368.4 516.4,362.8 C519.5,357.1 518.1,360.0 522.7,350.9 C527.4,341.8 525.7,346.7 530.4,335.5 C535.0,324.2 533.3,329.3 536.7,317.2 C540.1,305.0 539.4,309.6 540.6,299.0 C541.8,288.3 541.2,293.5 540.4,285.2 C539.5,277.0 541.2,283.4 537.9,274.2 C534.7,265.0 536.1,268.1 530.6,257.7 C525.1,247.3 528.7,252.8 521.5,243.1 C514.2,233.4 517.8,237.0 508.8,228.6 C499.8,220.2 505.6,224.5 494.5,217.9 C483.4,211.2 486.0,213.1 475.5,208.6 C465.0,204.0 471.5,206.5 463.0,204.1 C454.6,201.7 460.4,202.0 450.1,201.5 C439.7,200.9 444.2,200.9 432.0,202.4 C419.8,204.0 426.0,202.7 413.6,206.1 C401.2,209.5 407.4,207.3 394.9,212.6 C382.4,217.9 388.9,214.3 376.2,221.9 C363.5,229.5 369.6,225.7 356.8,235.4 C343.9,245.0 350.2,239.4 337.6,250.8 C324.9,262.2 328.0,258.1 318.8,269.4 C309.7,280.8 315.3,273.4 310.2,284.9 C305.0,296.3 306.2,293.4 303.4,303.8 C300.5,314.1 302.2,311.9 301.7,315.9 L302.5,316.0 C303.3,320.0 302.5,320.0 305.0,328.0 C307.5,336.0 305.7,332.7 310.0,340.0 C314.3,347.3 312.0,344.3 318.0,350.0 C324.0,355.7 321.3,353.3 328.0,357.0 C334.7,360.7 334.7,359.7 338.0,361.0 L336.0,363.4 C332.0,362.3 332.0,363.8 324.0,360.0 C316.0,356.2 319.0,358.7 312.0,352.0 C305.0,345.3 307.7,348.7 303.0,340.0 C298.3,331.3 300.0,333.7 298.0,326.0 C296.0,318.3 297.3,320.0 297.0,317.0 Z"/></clipPath>
<path d="M289.0,313.0 C290.0,308.7 288.3,311.0 292.0,300.0 C295.7,289.0 294.0,292.5 300.0,280.0 C306.0,267.5 300.0,274.9 310.0,262.4 C320.0,249.9 316.7,254.4 330.0,242.4 C343.3,230.4 336.5,236.4 350.0,226.3 C363.5,216.2 356.9,220.2 370.4,212.2 C383.9,204.2 377.1,207.9 390.5,202.2 C403.9,196.5 397.2,198.9 410.6,195.2 C424.0,191.5 417.2,192.9 430.6,191.2 C444.0,189.5 438.9,189.5 450.7,190.2 C462.5,190.9 456.2,190.5 466.0,193.2 C475.8,195.9 468.5,193.2 480.0,198.2 C491.5,203.2 488.2,200.8 500.4,208.2 C512.6,215.6 506.5,210.9 516.5,220.3 C526.5,229.7 522.5,225.6 530.5,236.3 C538.5,247.0 534.6,241.0 540.6,252.4 C546.6,263.8 544.9,260.0 548.6,270.5 C552.3,281.0 550.5,274.1 551.6,284.0 C552.7,293.9 553.1,288.1 551.8,300.2 C550.5,312.3 551.3,306.8 547.6,320.2 C543.9,333.6 546.3,328.2 540.6,340.3 C534.9,352.4 537.0,347.2 530.5,356.4 C524.0,365.6 526.3,363.3 521.0,368.0 C515.7,372.7 516.7,369.7 514.5,370.6 L513.4,367.8 C514.4,366.1 513.2,368.4 516.4,362.8 C519.5,357.1 518.1,360.0 522.7,350.9 C527.4,341.8 525.7,346.7 530.4,335.5 C535.0,324.2 533.3,329.3 536.7,317.2 C540.1,305.0 539.4,309.6 540.6,299.0 C541.8,288.3 541.2,293.5 540.4,285.2 C539.5,277.0 541.2,283.4 537.9,274.2 C534.7,265.0 536.1,268.1 530.6,257.7 C525.1,247.3 528.7,252.8 521.5,243.1 C514.2,233.4 517.8,237.0 508.8,228.6 C499.8,220.2 505.6,224.5 494.5,217.9 C483.4,211.2 486.0,213.1 475.5,208.6 C465.0,204.0 471.5,206.5 463.0,204.1 C454.6,201.7 460.4,202.0 450.1,201.5 C439.7,200.9 444.2,200.9 432.0,202.4 C419.8,204.0 426.0,202.7 413.6,206.1 C401.2,209.5 407.4,207.3 394.9,212.6 C382.4,217.9 388.9,214.3 376.2,221.9 C363.5,229.5 369.6,225.7 356.8,235.4 C343.9,245.0 350.2,239.4 337.6,250.8 C324.9,262.2 328.0,258.1 318.8,269.4 C309.7,280.8 315.3,273.4 310.2,284.9 C305.0,296.3 306.2,293.4 303.4,303.8 C300.5,314.1 302.2,311.9 301.7,315.9 L302.5,316.0 C303.3,320.0 302.5,320.0 305.0,328.0 C307.5,336.0 305.7,332.7 310.0,340.0 C314.3,347.3 312.0,344.3 318.0,350.0 C324.0,355.7 321.3,353.3 328.0,357.0 C334.7,360.7 334.7,359.7 338.0,361.0 L336.0,363.4 C332.0,362.3 332.0,363.8 324.0,360.0 C316.0,356.2 319.0,358.7 312.0,352.0 C305.0,345.3 307.7,348.7 303.0,340.0 C298.3,331.3 300.0,333.7 298.0,326.0 C296.0,318.3 297.3,320.0 297.0,317.0 Z" fill="#f7e6a8" stroke="#b5272b" stroke-width="1.9" stroke-linejoin="round"/>
<g clip-path="url(#skullclip)" opacity="0.9"><circle cx="532.6" cy="246.2" r="0.63" fill="#b08d70"/><circle cx="300.7" cy="301.9" r="0.84" fill="#b79a7e"/><circle cx="540.7" cy="256.8" r="0.53" fill="#94745d"/><circle cx="471.7" cy="204.8" r="0.64" fill="#a5846a"/><circle cx="517.6" cy="226.8" r="0.82" fill="#c9b090"/><circle cx="381.3" cy="210.0" r="0.88" fill="#c9b090"/><circle cx="335.0" cy="248.8" r="0.49" fill="#b08d70"/><circle cx="529.8" cy="245.0" r="0.52" fill="#a5846a"/><circle cx="354.3" cy="233.3" r="0.93" fill="#b79a7e"/><circle cx="522.2" cy="362.3" r="0.61" fill="#b79a7e"/><circle cx="501.4" cy="220.3" r="0.76" fill="#b79a7e"/><circle cx="547.0" cy="277.1" r="0.93" fill="#c9b090"/><circle cx="389.3" cy="204.4" r="0.66" fill="#b79a7e"/><circle cx="373.5" cy="212.7" r="0.60" fill="#b08d70"/><circle cx="523.6" cy="230.3" r="0.79" fill="#94745d"/><circle cx="303.3" cy="282.4" r="0.86" fill="#c9b090"/><circle cx="546.7" cy="280.4" r="0.69" fill="#b79a7e"/><circle cx="301.2" cy="286.4" r="0.92" fill="#94745d"/><circle cx="528.8" cy="350.0" r="0.72" fill="#c9b090"/><circle cx="423.0" cy="197.4" r="0.87" fill="#c9b090"/><circle cx="302.9" cy="293.0" r="0.76" fill="#b79a7e"/><circle cx="319.9" cy="263.8" r="0.91" fill="#c9b090"/><circle cx="412.2" cy="200.8" r="0.90" fill="#94745d"/><circle cx="542.5" cy="318.4" r="0.74" fill="#94745d"/><circle cx="525.5" cy="356.4" r="0.67" fill="#a5846a"/><circle cx="351.5" cy="230.6" r="0.76" fill="#b79a7e"/><circle cx="410.4" cy="199.2" r="0.80" fill="#a5846a"/><circle cx="397.7" cy="207.5" r="0.60" fill="#a5846a"/><circle cx="534.5" cy="247.4" r="0.79" fill="#c9b090"/><circle cx="334.8" cy="248.4" r="0.49" fill="#b08d70"/><circle cx="498.7" cy="218.8" r="0.47" fill="#b08d70"/><circle cx="412.8" cy="203.6" r="0.68" fill="#c9b090"/><circle cx="325.5" cy="249.3" r="0.91" fill="#a5846a"/><circle cx="537.9" cy="330.8" r="0.87" fill="#b79a7e"/><circle cx="545.5" cy="297.7" r="0.52" fill="#c9b090"/><circle cx="311.9" cy="264.3" r="0.64" fill="#a5846a"/><circle cx="528.7" cy="349.9" r="0.52" fill="#b08d70"/><circle cx="528.7" cy="354.1" r="0.71" fill="#c9b090"/><circle cx="542.1" cy="277.2" r="0.69" fill="#94745d"/><circle cx="473.5" cy="201.0" r="0.52" fill="#c9b090"/><circle cx="530.7" cy="337.1" r="0.93" fill="#c9b090"/><circle cx="522.6" cy="359.3" r="0.49" fill="#94745d"/><circle cx="492.7" cy="213.6" r="0.88" fill="#94745d"/><circle cx="306.8" cy="285.4" r="0.84" fill="#b08d70"/><circle cx="543.9" cy="263.7" r="0.60" fill="#b08d70"/><circle cx="544.4" cy="285.1" r="0.87" fill="#94745d"/><circle cx="538.4" cy="315.1" r="0.81" fill="#94745d"/><circle cx="539.9" cy="257.7" r="0.88" fill="#c9b090"/><circle cx="505.2" cy="222.0" r="0.61" fill="#94745d"/><circle cx="470.5" cy="198.8" r="0.70" fill="#94745d"/><circle cx="413.8" cy="198.3" r="0.62" fill="#c9b090"/><circle cx="416.0" cy="203.8" r="0.54" fill="#c9b090"/><circle cx="423.5" cy="202.6" r="0.71" fill="#b08d70"/><circle cx="333.8" cy="243.1" r="0.63" fill="#c9b090"/><circle cx="384.7" cy="213.4" r="0.81" fill="#c9b090"/><circle cx="338.2" cy="244.5" r="0.92" fill="#b08d70"/><circle cx="536.9" cy="267.9" r="0.60" fill="#b08d70"/><circle cx="538.9" cy="317.8" r="0.59" fill="#a5846a"/><circle cx="345.4" cy="233.4" r="0.67" fill="#b79a7e"/><circle cx="357.9" cy="230.6" r="0.54" fill="#a5846a"/><circle cx="472.3" cy="206.1" r="0.53" fill="#b79a7e"/><circle cx="314.3" cy="263.8" r="0.54" fill="#b79a7e"/><circle cx="509.5" cy="217.0" r="0.68" fill="#c9b090"/><circle cx="539.0" cy="265.3" r="0.75" fill="#b79a7e"/><circle cx="542.4" cy="290.7" r="0.45" fill="#c9b090"/><circle cx="383.5" cy="215.6" r="0.88" fill="#b08d70"/><circle cx="428.0" cy="201.8" r="0.72" fill="#94745d"/><circle cx="310.4" cy="269.6" r="0.71" fill="#b08d70"/><circle cx="390.8" cy="213.0" r="0.86" fill="#c9b090"/><circle cx="445.1" cy="199.0" r="0.77" fill="#94745d"/><circle cx="472.9" cy="198.3" r="0.75" fill="#b08d70"/><circle cx="475.3" cy="206.9" r="0.93" fill="#b08d70"/><circle cx="309.8" cy="271.6" r="0.90" fill="#a5846a"/><circle cx="430.7" cy="193.4" r="0.73" fill="#b08d70"/><circle cx="505.4" cy="215.0" r="0.76" fill="#b08d70"/><circle cx="428.1" cy="196.9" r="0.94" fill="#c9b090"/><circle cx="387.9" cy="209.6" r="0.80" fill="#c9b090"/><circle cx="522.9" cy="350.8" r="0.75" fill="#94745d"/><circle cx="541.6" cy="300.1" r="0.70" fill="#c9b090"/><circle cx="295.3" cy="303.9" r="0.94" fill="#c9b090"/><circle cx="384.3" cy="208.1" r="0.46" fill="#b08d70"/><circle cx="461.4" cy="195.8" r="0.47" fill="#b79a7e"/><circle cx="533.9" cy="342.0" r="0.69" fill="#b08d70"/><circle cx="378.8" cy="211.8" r="0.69" fill="#a5846a"/><circle cx="367.8" cy="220.8" r="0.87" fill="#94745d"/><circle cx="388.9" cy="209.3" r="0.95" fill="#b08d70"/><circle cx="533.2" cy="257.9" r="0.89" fill="#a5846a"/><circle cx="298.7" cy="306.8" r="0.60" fill="#b08d70"/><circle cx="547.4" cy="285.6" r="0.60" fill="#b08d70"/><circle cx="297.2" cy="301.5" r="0.63" fill="#b08d70"/><circle cx="320.4" cy="254.2" r="0.58" fill="#c9b090"/><circle cx="540.2" cy="276.0" r="0.89" fill="#b08d70"/><circle cx="342.6" cy="234.0" r="0.84" fill="#c9b090"/><circle cx="522.7" cy="237.1" r="0.80" fill="#c9b090"/><circle cx="521.6" cy="352.4" r="0.64" fill="#c9b090"/><circle cx="540.3" cy="273.9" r="0.55" fill="#94745d"/><circle cx="469.8" cy="203.8" r="0.48" fill="#a5846a"/><circle cx="542.4" cy="280.3" r="0.74" fill="#c9b090"/><circle cx="395.6" cy="203.0" r="0.69" fill="#b08d70"/><circle cx="515.6" cy="364.0" r="0.62" fill="#b79a7e"/><circle cx="451.4" cy="196.9" r="0.86" fill="#a5846a"/><circle cx="548.5" cy="298.2" r="0.86" fill="#a5846a"/><circle cx="536.5" cy="267.0" r="0.62" fill="#c9b090"/><circle cx="309.1" cy="284.6" r="0.80" fill="#a5846a"/><circle cx="322.3" cy="262.5" r="0.56" fill="#a5846a"/><circle cx="542.4" cy="287.7" r="0.95" fill="#c9b090"/><circle cx="327.7" cy="248.7" r="0.54" fill="#b79a7e"/><circle cx="306.1" cy="283.0" r="0.47" fill="#a5846a"/><circle cx="540.5" cy="263.5" r="0.49" fill="#a5846a"/><circle cx="514.4" cy="227.5" r="0.82" fill="#b08d70"/><circle cx="320.9" cy="253.3" r="0.50" fill="#b08d70"/><circle cx="482.1" cy="205.5" r="0.92" fill="#94745d"/><circle cx="300.0" cy="286.5" r="0.60" fill="#b08d70"/><circle cx="531.8" cy="252.0" r="0.60" fill="#b08d70"/><circle cx="507.2" cy="221.8" r="0.58" fill="#b08d70"/><circle cx="362.4" cy="222.0" r="0.83" fill="#b08d70"/><circle cx="325.6" cy="258.7" r="0.88" fill="#c9b090"/><circle cx="547.2" cy="299.2" r="0.52" fill="#a5846a"/><circle cx="539.6" cy="260.6" r="0.74" fill="#a5846a"/><circle cx="313.8" cy="273.9" r="0.70" fill="#c9b090"/><circle cx="364.3" cy="222.1" r="0.68" fill="#94745d"/><circle cx="316.3" cy="268.0" r="0.46" fill="#c9b090"/><circle cx="305.4" cy="290.3" r="0.92" fill="#c9b090"/><circle cx="540.7" cy="273.3" r="0.82" fill="#a5846a"/><circle cx="540.6" cy="266.3" r="0.56" fill="#b08d70"/><circle cx="428.0" cy="196.2" r="0.57" fill="#94745d"/><circle cx="526.8" cy="244.5" r="0.85" fill="#c9b090"/><circle cx="326.2" cy="257.1" r="0.63" fill="#94745d"/><circle cx="536.3" cy="331.8" r="0.93" fill="#94745d"/><circle cx="496.6" cy="208.0" r="0.95" fill="#b79a7e"/><circle cx="548.7" cy="301.1" r="0.48" fill="#a5846a"/><circle cx="296.0" cy="297.8" r="0.55" fill="#c9b090"/><circle cx="514.2" cy="360.4" r="0.78" fill="#94745d"/><circle cx="293.9" cy="314.1" r="0.60" fill="#b08d70"/><circle cx="453.4" cy="194.9" r="0.68" fill="#b79a7e"/><circle cx="332.5" cy="249.9" r="0.49" fill="#c9b090"/><circle cx="518.5" cy="356.6" r="0.53" fill="#94745d"/><circle cx="313.7" cy="263.9" r="0.53" fill="#94745d"/><circle cx="544.1" cy="268.6" r="0.69" fill="#a5846a"/><circle cx="413.0" cy="204.4" r="0.63" fill="#a5846a"/><circle cx="548.2" cy="275.3" r="0.68" fill="#b79a7e"/><circle cx="319.8" cy="264.3" r="0.61" fill="#c9b090"/><circle cx="544.5" cy="269.5" r="0.95" fill="#a5846a"/><circle cx="350.5" cy="235.7" r="0.74" fill="#a5846a"/><circle cx="530.1" cy="244.8" r="0.94" fill="#94745d"/><circle cx="544.8" cy="271.9" r="0.68" fill="#94745d"/><circle cx="307.0" cy="283.4" r="0.81" fill="#b79a7e"/><circle cx="544.4" cy="319.1" r="0.79" fill="#a5846a"/><circle cx="535.5" cy="257.4" r="0.81" fill="#94745d"/><circle cx="294.9" cy="311.2" r="0.68" fill="#c9b090"/><circle cx="334.1" cy="241.1" r="0.72" fill="#b08d70"/><circle cx="513.9" cy="223.9" r="0.50" fill="#a5846a"/><circle cx="366.1" cy="226.5" r="0.70" fill="#c9b090"/><circle cx="304.2" cy="289.2" r="0.77" fill="#c9b090"/><circle cx="438.5" cy="199.0" r="0.47" fill="#c9b090"/><circle cx="462.3" cy="196.5" r="0.48" fill="#a5846a"/><circle cx="345.1" cy="233.9" r="0.70" fill="#c9b090"/><circle cx="344.3" cy="238.5" r="0.49" fill="#94745d"/><circle cx="543.0" cy="326.7" r="0.72" fill="#b79a7e"/><circle cx="527.1" cy="235.3" r="0.82" fill="#b08d70"/><circle cx="296.0" cy="305.7" r="0.63" fill="#c9b090"/><circle cx="513.4" cy="229.1" r="0.71" fill="#b79a7e"/><circle cx="550.4" cy="294.6" r="0.83" fill="#c9b090"/><circle cx="513.6" cy="361.7" r="0.56" fill="#a5846a"/><circle cx="324.6" cy="253.4" r="0.49" fill="#94745d"/><circle cx="535.7" cy="339.0" r="0.52" fill="#b08d70"/><circle cx="308.2" cy="276.5" r="0.80" fill="#c9b090"/><circle cx="515.8" cy="230.4" r="0.59" fill="#c9b090"/><circle cx="547.7" cy="282.2" r="0.80" fill="#94745d"/><circle cx="519.3" cy="363.8" r="0.50" fill="#c9b090"/><circle cx="544.4" cy="315.9" r="0.83" fill="#b08d70"/><circle cx="298.0" cy="315.1" r="0.78" fill="#b79a7e"/><circle cx="519.4" cy="225.8" r="0.52" fill="#a5846a"/><circle cx="550.1" cy="295.7" r="0.66" fill="#a5846a"/><circle cx="533.5" cy="335.1" r="0.73" fill="#94745d"/><circle cx="303.3" cy="282.4" r="0.52" fill="#c9b090"/><circle cx="544.2" cy="270.8" r="0.47" fill="#b08d70"/><circle cx="541.2" cy="312.6" r="0.46" fill="#a5846a"/><circle cx="305.9" cy="292.1" r="0.86" fill="#c9b090"/><circle cx="525.8" cy="356.6" r="0.93" fill="#a5846a"/><circle cx="361.7" cy="225.4" r="0.51" fill="#b79a7e"/><circle cx="405.8" cy="201.5" r="0.53" fill="#b08d70"/><circle cx="535.7" cy="343.1" r="0.94" fill="#94745d"/><circle cx="499.2" cy="215.6" r="0.77" fill="#b79a7e"/><circle cx="461.5" cy="200.6" r="0.67" fill="#c9b090"/><circle cx="317.3" cy="261.1" r="0.67" fill="#b79a7e"/><circle cx="468.6" cy="201.1" r="0.54" fill="#a5846a"/><circle cx="541.5" cy="314.2" r="0.53" fill="#c9b090"/><circle cx="482.6" cy="206.8" r="0.50" fill="#c9b090"/><circle cx="547.6" cy="273.9" r="0.94" fill="#a5846a"/><circle cx="518.7" cy="227.8" r="0.80" fill="#94745d"/><circle cx="436.4" cy="196.3" r="0.55" fill="#b79a7e"/><circle cx="393.0" cy="207.9" r="0.63" fill="#b79a7e"/><circle cx="423.5" cy="197.1" r="0.57" fill="#a5846a"/><circle cx="529.4" cy="245.2" r="0.62" fill="#b79a7e"/><circle cx="533.8" cy="344.9" r="0.64" fill="#a5846a"/><circle cx="336.1" cy="243.6" r="0.83" fill="#94745d"/><circle cx="350.5" cy="236.6" r="0.83" fill="#c9b090"/><circle cx="543.7" cy="273.7" r="0.72" fill="#a5846a"/><circle cx="540.6" cy="331.2" r="0.79" fill="#a5846a"/><circle cx="492.0" cy="211.5" r="0.76" fill="#c9b090"/><circle cx="295.5" cy="302.9" r="0.46" fill="#94745d"/><circle cx="493.4" cy="209.9" r="0.69" fill="#c9b090"/><circle cx="463.1" cy="202.9" r="0.86" fill="#b08d70"/><circle cx="545.2" cy="267.0" r="0.52" fill="#c9b090"/><circle cx="422.5" cy="202.8" r="0.46" fill="#b08d70"/><circle cx="350.4" cy="230.8" r="0.49" fill="#a5846a"/><circle cx="543.5" cy="318.3" r="0.74" fill="#c9b090"/><circle cx="396.2" cy="210.7" r="0.46" fill="#b79a7e"/><circle cx="302.3" cy="279.0" r="0.49" fill="#94745d"/><circle cx="416.0" cy="201.6" r="0.87" fill="#b08d70"/><circle cx="527.1" cy="242.6" r="0.69" fill="#a5846a"/><circle cx="317.4" cy="259.8" r="0.94" fill="#b08d70"/><circle cx="450.8" cy="195.0" r="0.45" fill="#c9b090"/><circle cx="429.1" cy="194.3" r="0.78" fill="#b79a7e"/><circle cx="542.0" cy="272.3" r="0.64" fill="#a5846a"/><circle cx="527.2" cy="347.8" r="0.73" fill="#94745d"/><circle cx="371.0" cy="222.9" r="0.56" fill="#94745d"/><circle cx="540.5" cy="329.5" r="0.76" fill="#b79a7e"/><circle cx="308.2" cy="279.4" r="0.83" fill="#b79a7e"/><circle cx="542.1" cy="260.1" r="0.73" fill="#b08d70"/><circle cx="546.9" cy="295.7" r="0.57" fill="#c9b090"/><circle cx="498.5" cy="215.0" r="0.57" fill="#c9b090"/><circle cx="381.3" cy="209.0" r="0.89" fill="#94745d"/><circle cx="343.3" cy="238.1" r="0.52" fill="#94745d"/><circle cx="511.8" cy="224.4" r="0.73" fill="#c9b090"/><circle cx="344.0" cy="236.5" r="0.50" fill="#94745d"/><circle cx="549.9" cy="296.2" r="0.93" fill="#b79a7e"/><circle cx="530.8" cy="344.8" r="0.49" fill="#b79a7e"/><circle cx="527.0" cy="351.8" r="0.64" fill="#b79a7e"/><circle cx="513.1" cy="363.1" r="0.87" fill="#c9b090"/><circle cx="532.4" cy="349.3" r="0.55" fill="#b79a7e"/><circle cx="313.2" cy="262.1" r="0.53" fill="#b08d70"/><circle cx="547.2" cy="311.8" r="0.83" fill="#94745d"/><circle cx="533.1" cy="337.1" r="0.54" fill="#b08d70"/><circle cx="517.4" cy="231.7" r="0.93" fill="#a5846a"/><circle cx="422.5" cy="195.0" r="0.48" fill="#b79a7e"/><circle cx="402.5" cy="202.8" r="0.68" fill="#a5846a"/><circle cx="367.3" cy="220.2" r="0.72" fill="#c9b090"/><circle cx="291.8" cy="311.0" r="0.75" fill="#94745d"/><circle cx="324.5" cy="258.3" r="0.70" fill="#94745d"/><circle cx="549.4" cy="302.8" r="0.83" fill="#94745d"/><circle cx="293.0" cy="305.5" r="0.69" fill="#94745d"/><circle cx="542.7" cy="305.6" r="0.91" fill="#c9b090"/><circle cx="325.6" cy="252.2" r="0.70" fill="#a5846a"/><circle cx="519.2" cy="226.7" r="0.65" fill="#a5846a"/><circle cx="495.9" cy="211.7" r="0.56" fill="#b79a7e"/><circle cx="379.1" cy="215.9" r="0.49" fill="#94745d"/><circle cx="312.6" cy="270.3" r="0.67" fill="#b79a7e"/><circle cx="502.4" cy="220.7" r="0.88" fill="#b79a7e"/><circle cx="310.8" cy="271.6" r="0.51" fill="#a5846a"/><circle cx="297.9" cy="312.4" r="0.52" fill="#a5846a"/><circle cx="294.8" cy="303.3" r="0.68" fill="#c9b090"/><circle cx="521.4" cy="358.3" r="0.48" fill="#b79a7e"/><circle cx="349.2" cy="239.7" r="0.67" fill="#c9b090"/><circle cx="497.3" cy="208.9" r="0.59" fill="#c9b090"/><circle cx="492.5" cy="205.9" r="0.53" fill="#b08d70"/><circle cx="455.9" cy="200.3" r="0.92" fill="#b08d70"/><circle cx="533.8" cy="253.7" r="0.56" fill="#c9b090"/><circle cx="540.7" cy="315.6" r="0.86" fill="#c9b090"/><circle cx="428.9" cy="192.9" r="0.86" fill="#b79a7e"/><circle cx="514.8" cy="365.9" r="0.60" fill="#b79a7e"/><circle cx="449.5" cy="198.8" r="0.49" fill="#94745d"/><circle cx="354.8" cy="228.8" r="0.55" fill="#b79a7e"/><circle cx="473.7" cy="200.7" r="0.45" fill="#a5846a"/><circle cx="545.7" cy="316.1" r="0.68" fill="#a5846a"/><circle cx="545.0" cy="275.5" r="0.90" fill="#b79a7e"/><circle cx="348.5" cy="236.5" r="0.82" fill="#c9b090"/><circle cx="400.3" cy="205.8" r="0.52" fill="#b79a7e"/><circle cx="310.7" cy="280.3" r="0.92" fill="#a5846a"/><circle cx="293.4" cy="306.6" r="0.66" fill="#94745d"/><circle cx="324.6" cy="259.1" r="0.64" fill="#b79a7e"/><circle cx="329.1" cy="248.7" r="0.90" fill="#b08d70"/><circle cx="309.0" cy="271.7" r="0.50" fill="#c9b090"/><circle cx="427.4" cy="195.9" r="0.90" fill="#b08d70"/><circle cx="518.9" cy="231.0" r="0.89" fill="#b08d70"/><circle cx="324.7" cy="252.8" r="0.72" fill="#c9b090"/><circle cx="322.0" cy="255.1" r="0.78" fill="#a5846a"/><circle cx="291.2" cy="309.3" r="0.56" fill="#b79a7e"/><circle cx="488.0" cy="210.6" r="0.57" fill="#94745d"/><circle cx="305.6" cy="288.7" r="0.57" fill="#c9b090"/><circle cx="518.5" cy="364.4" r="0.46" fill="#94745d"/><circle cx="459.1" cy="197.2" r="0.78" fill="#94745d"/><circle cx="514.0" cy="226.5" r="0.81" fill="#b08d70"/><circle cx="435.1" cy="201.1" r="0.60" fill="#b79a7e"/><circle cx="519.0" cy="237.7" r="0.49" fill="#c9b090"/><circle cx="304.8" cy="289.0" r="0.71" fill="#c9b090"/><circle cx="316.0" cy="271.1" r="0.60" fill="#b08d70"/><circle cx="427.8" cy="200.6" r="0.52" fill="#94745d"/><circle cx="304.3" cy="284.4" r="0.73" fill="#b79a7e"/><circle cx="513.9" cy="225.3" r="0.48" fill="#a5846a"/><circle cx="316.6" cy="261.9" r="0.52" fill="#94745d"/><circle cx="376.0" cy="218.9" r="0.69" fill="#b79a7e"/><circle cx="549.1" cy="301.7" r="0.58" fill="#a5846a"/><circle cx="533.4" cy="247.5" r="0.53" fill="#b79a7e"/><circle cx="547.7" cy="282.8" r="0.89" fill="#c9b090"/><circle cx="532.9" cy="347.3" r="0.52" fill="#a5846a"/><circle cx="547.2" cy="300.8" r="0.51" fill="#c9b090"/><circle cx="302.3" cy="294.4" r="0.76" fill="#a5846a"/><circle cx="298.0" cy="302.4" r="0.51" fill="#b08d70"/><circle cx="528.0" cy="242.0" r="0.74" fill="#b08d70"/><circle cx="548.3" cy="279.5" r="0.48" fill="#b08d70"/><circle cx="307.9" cy="269.3" r="0.81" fill="#94745d"/><circle cx="536.8" cy="258.5" r="0.72" fill="#a5846a"/><circle cx="534.3" cy="256.3" r="0.59" fill="#c9b090"/><circle cx="546.0" cy="308.4" r="0.68" fill="#94745d"/><circle cx="298.0" cy="314.5" r="0.61" fill="#c9b090"/><circle cx="471.2" cy="200.0" r="0.78" fill="#94745d"/><circle cx="399.9" cy="209.2" r="0.55" fill="#a5846a"/><circle cx="328.8" cy="249.8" r="0.49" fill="#c9b090"/><circle cx="457.8" cy="198.5" r="0.78" fill="#b79a7e"/><circle cx="345.7" cy="232.9" r="0.70" fill="#b08d70"/><circle cx="461.7" cy="202.2" r="0.62" fill="#a5846a"/><circle cx="327.5" cy="252.1" r="0.73" fill="#b08d70"/><circle cx="499.4" cy="219.6" r="0.56" fill="#b79a7e"/><circle cx="542.6" cy="263.7" r="0.73" fill="#94745d"/><circle cx="532.1" cy="346.2" r="0.76" fill="#b79a7e"/><circle cx="372.6" cy="216.7" r="0.87" fill="#b08d70"/><circle cx="375.2" cy="216.1" r="0.80" fill="#a5846a"/><circle cx="539.1" cy="337.6" r="0.83" fill="#94745d"/><circle cx="309.1" cy="268.3" r="0.77" fill="#b08d70"/><circle cx="338.1" cy="238.0" r="0.94" fill="#c9b090"/><circle cx="338.7" cy="244.3" r="0.81" fill="#94745d"/><circle cx="312.5" cy="267.9" r="0.61" fill="#a5846a"/><circle cx="395.9" cy="202.2" r="0.81" fill="#c9b090"/><circle cx="521.5" cy="359.7" r="0.48" fill="#a5846a"/><circle cx="338.4" cy="237.6" r="0.50" fill="#b08d70"/><circle cx="443.3" cy="192.7" r="0.66" fill="#b79a7e"/><circle cx="450.4" cy="191.6" r="0.73" fill="#94745d"/><circle cx="540.9" cy="258.4" r="0.71" fill="#94745d"/><circle cx="306.7" cy="279.1" r="0.50" fill="#b79a7e"/><circle cx="317.6" cy="264.3" r="0.50" fill="#b08d70"/><circle cx="430.6" cy="196.4" r="0.59" fill="#b08d70"/><circle cx="463.6" cy="202.9" r="0.66" fill="#b79a7e"/><circle cx="518.8" cy="362.6" r="0.91" fill="#c9b090"/><circle cx="537.6" cy="262.6" r="0.91" fill="#94745d"/><circle cx="514.8" cy="362.2" r="0.71" fill="#b79a7e"/><circle cx="393.0" cy="203.1" r="0.92" fill="#c9b090"/><circle cx="394.1" cy="206.4" r="0.91" fill="#b08d70"/><circle cx="534.2" cy="252.9" r="0.59" fill="#94745d"/><circle cx="466.6" cy="199.2" r="0.83" fill="#b08d70"/><circle cx="309.8" cy="267.5" r="0.55" fill="#a5846a"/><circle cx="460.6" cy="202.5" r="0.52" fill="#b79a7e"/><circle cx="539.2" cy="254.1" r="0.67" fill="#b08d70"/><circle cx="469.3" cy="203.8" r="0.53" fill="#c9b090"/><circle cx="312.9" cy="265.2" r="0.89" fill="#94745d"/><circle cx="549.1" cy="280.4" r="0.81" fill="#a5846a"/><circle cx="353.1" cy="234.2" r="0.62" fill="#b08d70"/><circle cx="477.4" cy="204.7" r="0.69" fill="#b08d70"/><circle cx="527.3" cy="238.3" r="0.62" fill="#94745d"/><circle cx="323.8" cy="256.9" r="0.60" fill="#94745d"/><circle cx="545.6" cy="318.2" r="0.78" fill="#a5846a"/><circle cx="294.6" cy="313.8" r="0.53" fill="#c9b090"/><circle cx="541.5" cy="263.7" r="0.86" fill="#b08d70"/><circle cx="542.9" cy="270.8" r="0.91" fill="#b08d70"/><circle cx="490.0" cy="207.7" r="0.79" fill="#a5846a"/><circle cx="333.8" cy="247.6" r="0.78" fill="#b08d70"/><circle cx="539.9" cy="325.6" r="0.68" fill="#94745d"/><circle cx="298.4" cy="292.8" r="0.45" fill="#a5846a"/><circle cx="548.8" cy="299.6" r="0.94" fill="#b08d70"/><circle cx="365.3" cy="224.4" r="0.65" fill="#a5846a"/><circle cx="432.4" cy="196.1" r="0.88" fill="#94745d"/><circle cx="293.1" cy="308.7" r="0.57" fill="#a5846a"/><circle cx="541.7" cy="301.7" r="0.64" fill="#b08d70"/><circle cx="393.5" cy="204.6" r="0.50" fill="#b08d70"/><circle cx="523.5" cy="237.7" r="0.85" fill="#a5846a"/><circle cx="515.0" cy="366.6" r="0.87" fill="#b79a7e"/><circle cx="452.3" cy="192.3" r="0.46" fill="#b79a7e"/><circle cx="312.1" cy="264.2" r="0.89" fill="#c9b090"/><circle cx="477.3" cy="201.3" r="0.49" fill="#b08d70"/><circle cx="531.3" cy="247.6" r="0.76" fill="#b08d70"/><circle cx="542.3" cy="289.7" r="0.88" fill="#b79a7e"/><circle cx="298.2" cy="304.6" r="0.67" fill="#b08d70"/><circle cx="352.3" cy="237.2" r="0.80" fill="#b79a7e"/><circle cx="313.5" cy="268.4" r="0.89" fill="#b79a7e"/><circle cx="356.5" cy="227.6" r="0.47" fill="#a5846a"/><circle cx="390.9" cy="205.2" r="0.89" fill="#c9b090"/><circle cx="337.1" cy="247.2" r="0.51" fill="#c9b090"/><circle cx="546.9" cy="276.1" r="0.52" fill="#c9b090"/><circle cx="328.1" cy="251.2" r="0.46" fill="#c9b090"/><circle cx="495.9" cy="215.0" r="0.80" fill="#94745d"/><circle cx="547.0" cy="313.3" r="0.57" fill="#c9b090"/><circle cx="536.6" cy="326.0" r="0.86" fill="#b08d70"/><circle cx="517.8" cy="360.0" r="0.82" fill="#b79a7e"/><circle cx="349.1" cy="232.4" r="0.58" fill="#a5846a"/><circle cx="347.5" cy="239.3" r="0.93" fill="#b79a7e"/><circle cx="423.5" cy="199.7" r="0.80" fill="#c9b090"/><circle cx="422.3" cy="201.6" r="0.76" fill="#b79a7e"/><circle cx="295.7" cy="310.9" r="0.80" fill="#a5846a"/><circle cx="549.9" cy="302.9" r="0.72" fill="#94745d"/><circle cx="542.2" cy="294.7" r="0.49" fill="#b79a7e"/><circle cx="423.3" cy="193.9" r="0.48" fill="#b08d70"/><circle cx="425.7" cy="200.4" r="0.69" fill="#b08d70"/><circle cx="462.9" cy="201.8" r="0.61" fill="#b08d70"/><circle cx="446.3" cy="193.2" r="0.66" fill="#c9b090"/><circle cx="537.9" cy="342.1" r="0.69" fill="#a5846a"/><circle cx="535.7" cy="337.2" r="0.84" fill="#c9b090"/><circle cx="354.4" cy="225.6" r="0.78" fill="#94745d"/><circle cx="308.4" cy="269.1" r="0.61" fill="#b79a7e"/><circle cx="401.0" cy="203.1" r="0.83" fill="#a5846a"/><circle cx="396.1" cy="207.5" r="0.84" fill="#b08d70"/><circle cx="516.6" cy="367.7" r="0.77" fill="#a5846a"/><circle cx="300.0" cy="295.1" r="0.89" fill="#b79a7e"/><circle cx="460.8" cy="196.2" r="0.66" fill="#b08d70"/><circle cx="463.8" cy="199.2" r="0.93" fill="#b08d70"/><circle cx="368.9" cy="224.3" r="0.87" fill="#b08d70"/><circle cx="391.1" cy="204.0" r="0.64" fill="#c9b090"/><circle cx="309.5" cy="268.5" r="0.76" fill="#c9b090"/><circle cx="314.0" cy="275.7" r="0.89" fill="#94745d"/><circle cx="546.8" cy="272.5" r="0.61" fill="#c9b090"/><circle cx="403.4" cy="199.3" r="0.93" fill="#a5846a"/><circle cx="525.1" cy="235.0" r="0.59" fill="#94745d"/><circle cx="467.0" cy="202.7" r="0.70" fill="#94745d"/><circle cx="492.9" cy="210.9" r="0.87" fill="#b08d70"/><circle cx="519.0" cy="363.1" r="0.78" fill="#b08d70"/><circle cx="546.9" cy="296.2" r="0.66" fill="#b79a7e"/><circle cx="303.9" cy="284.2" r="0.89" fill="#94745d"/><circle cx="541.5" cy="324.0" r="0.75" fill="#b08d70"/><circle cx="312.3" cy="264.0" r="0.67" fill="#94745d"/><circle cx="300.8" cy="294.9" r="0.74" fill="#a5846a"/><circle cx="308.3" cy="284.7" r="0.60" fill="#94745d"/><circle cx="384.5" cy="210.8" r="0.57" fill="#c9b090"/><circle cx="467.1" cy="197.7" r="0.80" fill="#b08d70"/><circle cx="540.3" cy="280.2" r="0.73" fill="#c9b090"/><circle cx="529.4" cy="348.0" r="0.68" fill="#a5846a"/><circle cx="339.1" cy="240.8" r="0.95" fill="#b08d70"/><circle cx="307.2" cy="271.8" r="0.89" fill="#94745d"/><circle cx="542.2" cy="322.6" r="0.76" fill="#a5846a"/><circle cx="434.9" cy="195.8" r="0.67" fill="#94745d"/><circle cx="320.3" cy="255.6" r="0.85" fill="#b08d70"/><circle cx="467.4" cy="198.4" r="0.54" fill="#c9b090"/><circle cx="299.4" cy="310.7" r="0.65" fill="#94745d"/><circle cx="347.6" cy="236.9" r="0.67" fill="#b08d70"/><circle cx="494.4" cy="211.2" r="0.59" fill="#a5846a"/><circle cx="348.3" cy="238.7" r="0.78" fill="#b79a7e"/><circle cx="544.4" cy="277.7" r="0.74" fill="#b08d70"/><circle cx="300.6" cy="303.5" r="0.84" fill="#94745d"/><circle cx="311.7" cy="268.0" r="0.76" fill="#b79a7e"/><circle cx="524.2" cy="348.3" r="0.47" fill="#c9b090"/><circle cx="296.7" cy="298.1" r="0.71" fill="#a5846a"/><circle cx="361.2" cy="230.9" r="0.62" fill="#94745d"/><circle cx="356.7" cy="227.1" r="0.46" fill="#a5846a"/><circle cx="546.5" cy="311.1" r="0.94" fill="#94745d"/><circle cx="317.1" cy="260.2" r="0.48" fill="#a5846a"/><circle cx="538.1" cy="316.1" r="0.82" fill="#94745d"/><circle cx="542.4" cy="322.2" r="0.66" fill="#94745d"/><circle cx="393.0" cy="203.2" r="0.54" fill="#c9b090"/><circle cx="533.7" cy="348.9" r="0.60" fill="#b79a7e"/><circle cx="529.9" cy="354.2" r="0.82" fill="#b08d70"/><circle cx="355.6" cy="228.1" r="0.74" fill="#94745d"/><circle cx="481.6" cy="200.7" r="0.58" fill="#c9b090"/><circle cx="326.3" cy="249.4" r="0.49" fill="#b79a7e"/><circle cx="400.6" cy="203.5" r="0.93" fill="#c9b090"/><circle cx="298.2" cy="312.0" r="0.82" fill="#b08d70"/><circle cx="402.0" cy="204.4" r="0.63" fill="#94745d"/><circle cx="536.1" cy="251.1" r="0.87" fill="#b08d70"/><circle cx="389.7" cy="208.5" r="0.79" fill="#b08d70"/><circle cx="521.6" cy="230.6" r="0.91" fill="#b08d70"/><circle cx="391.2" cy="204.1" r="0.57" fill="#c9b090"/><circle cx="539.1" cy="266.4" r="0.56" fill="#b79a7e"/><circle cx="353.1" cy="234.1" r="0.53" fill="#b08d70"/><circle cx="521.4" cy="236.2" r="0.87" fill="#b08d70"/><circle cx="481.8" cy="202.6" r="0.67" fill="#94745d"/><circle cx="546.5" cy="277.3" r="0.75" fill="#b08d70"/><circle cx="469.9" cy="203.5" r="0.78" fill="#94745d"/><circle cx="514.0" cy="225.8" r="0.71" fill="#a5846a"/><circle cx="390.9" cy="203.5" r="0.53" fill="#b79a7e"/><circle cx="536.1" cy="262.7" r="0.64" fill="#c9b090"/><circle cx="525.4" cy="352.0" r="0.77" fill="#b79a7e"/><circle cx="346.2" cy="236.0" r="0.73" fill="#b79a7e"/><circle cx="549.2" cy="302.3" r="0.91" fill="#a5846a"/><circle cx="487.4" cy="205.0" r="0.72" fill="#b79a7e"/><circle cx="378.8" cy="216.5" r="0.59" fill="#94745d"/><circle cx="309.0" cy="278.2" r="0.61" fill="#a5846a"/><circle cx="533.2" cy="247.0" r="0.75" fill="#94745d"/><circle cx="533.7" cy="332.0" r="0.67" fill="#94745d"/><circle cx="304.9" cy="282.5" r="0.69" fill="#b79a7e"/><circle cx="443.0" cy="197.8" r="0.81" fill="#c9b090"/><circle cx="505.0" cy="213.8" r="0.94" fill="#c9b090"/><circle cx="527.3" cy="243.6" r="0.55" fill="#94745d"/><circle cx="406.3" cy="202.8" r="0.54" fill="#c9b090"/><circle cx="526.8" cy="246.3" r="0.79" fill="#b79a7e"/><circle cx="431.5" cy="198.7" r="0.80" fill="#b79a7e"/><circle cx="512.4" cy="225.9" r="0.76" fill="#a5846a"/><circle cx="384.9" cy="213.9" r="0.56" fill="#c9b090"/><circle cx="477.4" cy="203.5" r="0.81" fill="#c9b090"/><circle cx="476.2" cy="207.1" r="0.67" fill="#b08d70"/><circle cx="367.4" cy="226.6" r="0.61" fill="#b79a7e"/><circle cx="326.0" cy="249.1" r="0.84" fill="#c9b090"/><circle cx="502.6" cy="218.7" r="0.46" fill="#b79a7e"/><circle cx="296.1" cy="307.3" r="0.76" fill="#b79a7e"/><circle cx="317.7" cy="266.6" r="0.86" fill="#a5846a"/><circle cx="529.4" cy="348.6" r="0.91" fill="#a5846a"/><circle cx="548.3" cy="309.9" r="0.84" fill="#c9b090"/><circle cx="497.5" cy="218.7" r="0.71" fill="#94745d"/><circle cx="548.4" cy="288.6" r="0.53" fill="#b08d70"/><circle cx="482.5" cy="209.2" r="0.90" fill="#94745d"/><circle cx="304.0" cy="291.9" r="0.74" fill="#a5846a"/><circle cx="484.6" cy="211.7" r="0.55" fill="#b08d70"/><circle cx="370.0" cy="217.0" r="0.60" fill="#b79a7e"/><circle cx="460.7" cy="199.5" r="0.73" fill="#c9b090"/><circle cx="361.5" cy="223.4" r="0.58" fill="#94745d"/><circle cx="457.9" cy="192.8" r="0.51" fill="#b79a7e"/><circle cx="363.5" cy="221.8" r="0.83" fill="#94745d"/><circle cx="545.4" cy="314.0" r="0.60" fill="#b08d70"/><circle cx="478.3" cy="201.3" r="0.72" fill="#94745d"/><circle cx="297.7" cy="292.6" r="0.84" fill="#a5846a"/><circle cx="313.0" cy="267.6" r="0.83" fill="#b08d70"/><circle cx="521.5" cy="362.4" r="0.61" fill="#b79a7e"/><circle cx="300.1" cy="293.5" r="0.78" fill="#c9b090"/><circle cx="291.5" cy="312.0" r="0.87" fill="#b08d70"/><circle cx="546.9" cy="289.6" r="0.49" fill="#a5846a"/><circle cx="293.6" cy="310.9" r="0.73" fill="#b79a7e"/><circle cx="542.3" cy="291.7" r="0.52" fill="#b08d70"/><circle cx="523.5" cy="358.7" r="0.49" fill="#c9b090"/><circle cx="498.5" cy="208.7" r="0.69" fill="#c9b090"/><circle cx="311.5" cy="267.9" r="0.84" fill="#b79a7e"/><circle cx="450.8" cy="192.4" r="0.74" fill="#b08d70"/><circle cx="531.3" cy="246.4" r="0.55" fill="#c9b090"/><circle cx="496.4" cy="212.8" r="0.55" fill="#a5846a"/><circle cx="294.0" cy="301.5" r="0.65" fill="#a5846a"/><circle cx="542.6" cy="270.4" r="0.73" fill="#94745d"/><circle cx="484.3" cy="204.3" r="0.56" fill="#c9b090"/><circle cx="479.8" cy="202.0" r="0.58" fill="#b08d70"/><circle cx="513.6" cy="360.3" r="0.72" fill="#c9b090"/><circle cx="302.6" cy="292.9" r="0.68" fill="#a5846a"/><circle cx="543.0" cy="264.7" r="0.57" fill="#b08d70"/><circle cx="527.6" cy="344.0" r="0.53" fill="#94745d"/><circle cx="364.2" cy="225.5" r="0.84" fill="#c9b090"/><circle cx="339.9" cy="238.6" r="0.92" fill="#c9b090"/><circle cx="514.0" cy="229.9" r="0.52" fill="#b79a7e"/><circle cx="523.1" cy="358.4" r="0.51" fill="#c9b090"/><circle cx="389.0" cy="205.0" r="0.68" fill="#94745d"/><circle cx="529.4" cy="345.7" r="0.94" fill="#b79a7e"/><circle cx="306.6" cy="280.2" r="0.78" fill="#94745d"/><circle cx="395.3" cy="208.3" r="0.47" fill="#94745d"/><circle cx="425.9" cy="196.5" r="0.54" fill="#b79a7e"/><circle cx="431.2" cy="197.0" r="0.64" fill="#94745d"/><circle cx="449.8" cy="195.0" r="0.92" fill="#b08d70"/><circle cx="342.4" cy="242.6" r="0.92" fill="#a5846a"/><circle cx="413.1" cy="204.0" r="0.50" fill="#b79a7e"/><circle cx="546.5" cy="300.7" r="0.71" fill="#c9b090"/><circle cx="539.9" cy="269.9" r="0.66" fill="#b79a7e"/><circle cx="424.7" cy="195.6" r="0.51" fill="#a5846a"/><circle cx="430.5" cy="201.2" r="0.93" fill="#94745d"/><circle cx="331.7" cy="247.7" r="0.59" fill="#94745d"/><circle cx="484.1" cy="204.8" r="0.57" fill="#a5846a"/><circle cx="544.4" cy="309.6" r="0.56" fill="#c9b090"/><circle cx="420.5" cy="203.3" r="0.49" fill="#b79a7e"/><circle cx="527.8" cy="239.8" r="0.80" fill="#b79a7e"/><circle cx="475.6" cy="199.8" r="0.65" fill="#94745d"/><circle cx="535.0" cy="256.5" r="0.74" fill="#b08d70"/><circle cx="344.3" cy="233.7" r="0.83" fill="#b08d70"/><circle cx="298.8" cy="304.2" r="0.74" fill="#94745d"/><circle cx="546.8" cy="316.9" r="0.46" fill="#b08d70"/><circle cx="420.0" cy="203.2" r="0.79" fill="#a5846a"/><circle cx="545.3" cy="282.8" r="0.78" fill="#b79a7e"/><circle cx="543.7" cy="277.9" r="0.77" fill="#94745d"/><circle cx="541.8" cy="282.5" r="0.75" fill="#b79a7e"/><circle cx="326.1" cy="255.7" r="0.69" fill="#b08d70"/><circle cx="439.0" cy="198.6" r="0.61" fill="#94745d"/><circle cx="398.1" cy="204.0" r="0.94" fill="#c9b090"/><circle cx="473.4" cy="202.9" r="0.84" fill="#b79a7e"/><circle cx="375.5" cy="218.9" r="0.85" fill="#a5846a"/><circle cx="521.6" cy="229.3" r="0.65" fill="#b08d70"/><circle cx="316.3" cy="268.7" r="0.94" fill="#c9b090"/><circle cx="518.8" cy="362.8" r="0.69" fill="#94745d"/><circle cx="402.7" cy="206.5" r="0.74" fill="#a5846a"/><circle cx="524.1" cy="348.2" r="0.71" fill="#b08d70"/><circle cx="347.4" cy="236.7" r="0.74" fill="#a5846a"/><circle cx="486.7" cy="204.1" r="0.82" fill="#94745d"/><circle cx="382.0" cy="209.1" r="0.86" fill="#b79a7e"/><circle cx="547.2" cy="313.9" r="0.50" fill="#c9b090"/><circle cx="547.5" cy="311.3" r="0.90" fill="#c9b090"/><circle cx="548.8" cy="279.9" r="0.82" fill="#a5846a"/><circle cx="521.4" cy="234.8" r="0.55" fill="#b08d70"/><circle cx="543.0" cy="265.8" r="0.82" fill="#c9b090"/><circle cx="488.5" cy="209.5" r="0.60" fill="#b79a7e"/><circle cx="326.1" cy="255.0" r="0.75" fill="#b08d70"/><circle cx="528.3" cy="349.1" r="0.78" fill="#c9b090"/><circle cx="534.6" cy="249.7" r="0.79" fill="#c9b090"/><circle cx="548.6" cy="307.9" r="0.54" fill="#94745d"/><circle cx="519.9" cy="235.4" r="0.78" fill="#c9b090"/><circle cx="449.1" cy="198.6" r="0.61" fill="#94745d"/><circle cx="475.4" cy="205.0" r="0.79" fill="#c9b090"/><circle cx="321.2" cy="264.3" r="0.46" fill="#b08d70"/><circle cx="542.8" cy="299.9" r="0.89" fill="#b79a7e"/><circle cx="539.2" cy="270.2" r="0.72" fill="#b79a7e"/><circle cx="404.8" cy="201.6" r="0.90" fill="#c9b090"/><circle cx="306.7" cy="276.8" r="0.64" fill="#a5846a"/><circle cx="308.6" cy="279.7" r="0.49" fill="#b08d70"/><circle cx="325.6" cy="249.4" r="0.90" fill="#c9b090"/><circle cx="457.1" cy="199.6" r="0.62" fill="#b79a7e"/><circle cx="525.4" cy="237.4" r="0.94" fill="#b79a7e"/><circle cx="312.4" cy="277.1" r="0.89" fill="#94745d"/><circle cx="374.3" cy="212.0" r="0.66" fill="#b08d70"/><circle cx="433.3" cy="194.3" r="0.75" fill="#b79a7e"/><circle cx="520.8" cy="235.3" r="0.46" fill="#c9b090"/><circle cx="535.2" cy="249.3" r="0.87" fill="#94745d"/><circle cx="542.8" cy="323.4" r="0.70" fill="#a5846a"/><circle cx="463.9" cy="199.1" r="0.79" fill="#94745d"/><circle cx="338.7" cy="243.6" r="0.71" fill="#b08d70"/><circle cx="305.5" cy="284.9" r="0.73" fill="#a5846a"/><circle cx="536.9" cy="342.1" r="0.88" fill="#a5846a"/><circle cx="500.5" cy="219.8" r="0.75" fill="#a5846a"/><circle cx="547.8" cy="282.2" r="0.63" fill="#a5846a"/><circle cx="546.6" cy="314.2" r="0.55" fill="#94745d"/><circle cx="377.3" cy="212.3" r="0.93" fill="#b08d70"/><circle cx="469.6" cy="201.4" r="0.57" fill="#b79a7e"/><circle cx="342.0" cy="244.5" r="0.51" fill="#b08d70"/><circle cx="433.5" cy="197.9" r="0.46" fill="#94745d"/><circle cx="523.0" cy="236.1" r="0.46" fill="#a5846a"/><circle cx="504.5" cy="221.2" r="0.92" fill="#b79a7e"/><circle cx="326.5" cy="252.5" r="0.89" fill="#b79a7e"/><circle cx="411.8" cy="201.1" r="0.80" fill="#94745d"/><circle cx="348.5" cy="233.2" r="0.87" fill="#94745d"/><circle cx="344.1" cy="241.4" r="0.81" fill="#c9b090"/><circle cx="371.0" cy="222.0" r="0.48" fill="#b08d70"/><circle cx="508.6" cy="219.1" r="0.58" fill="#b79a7e"/><circle cx="319.5" cy="266.2" r="0.93" fill="#a5846a"/><circle cx="498.9" cy="210.1" r="0.82" fill="#94745d"/><circle cx="374.8" cy="211.9" r="0.67" fill="#b79a7e"/><circle cx="535.5" cy="264.6" r="0.69" fill="#b79a7e"/><circle cx="471.3" cy="198.1" r="0.53" fill="#94745d"/><circle cx="532.6" cy="256.8" r="0.80" fill="#c9b090"/><circle cx="294.4" cy="298.3" r="0.62" fill="#b79a7e"/><circle cx="425.0" cy="194.6" r="0.89" fill="#c9b090"/><circle cx="542.5" cy="298.8" r="0.93" fill="#b08d70"/><circle cx="540.6" cy="275.9" r="0.51" fill="#94745d"/><circle cx="537.3" cy="324.7" r="0.80" fill="#c9b090"/><circle cx="542.3" cy="315.4" r="0.75" fill="#94745d"/><circle cx="530.3" cy="343.3" r="0.69" fill="#b79a7e"/><circle cx="451.2" cy="200.7" r="0.93" fill="#a5846a"/><circle cx="305.1" cy="280.0" r="0.66" fill="#94745d"/><circle cx="508.4" cy="226.9" r="0.55" fill="#94745d"/><circle cx="545.4" cy="319.2" r="0.52" fill="#a5846a"/><circle cx="343.7" cy="233.8" r="0.64" fill="#a5846a"/><circle cx="325.3" cy="260.5" r="0.73" fill="#b08d70"/><circle cx="519.9" cy="363.8" r="0.74" fill="#94745d"/><circle cx="534.2" cy="251.7" r="0.64" fill="#c9b090"/><circle cx="460.6" cy="197.4" r="0.85" fill="#a5846a"/><circle cx="320.4" cy="256.4" r="0.74" fill="#b79a7e"/><circle cx="489.4" cy="206.6" r="0.64" fill="#c9b090"/><circle cx="416.1" cy="199.2" r="0.91" fill="#b08d70"/><circle cx="323.0" cy="254.7" r="0.62" fill="#b08d70"/><circle cx="406.2" cy="199.5" r="0.65" fill="#a5846a"/><circle cx="542.6" cy="276.0" r="0.88" fill="#b08d70"/><circle cx="527.3" cy="240.0" r="0.73" fill="#b08d70"/><circle cx="388.5" cy="206.3" r="0.72" fill="#c9b090"/><circle cx="492.7" cy="207.8" r="0.67" fill="#a5846a"/><circle cx="536.8" cy="254.1" r="0.53" fill="#c9b090"/><circle cx="511.7" cy="218.3" r="0.53" fill="#a5846a"/><circle cx="443.6" cy="198.7" r="0.62" fill="#b08d70"/><circle cx="427.4" cy="201.2" r="0.52" fill="#94745d"/><circle cx="367.6" cy="222.4" r="0.54" fill="#b79a7e"/><circle cx="544.1" cy="284.1" r="0.58" fill="#c9b090"/><circle cx="535.3" cy="253.9" r="0.57" fill="#b79a7e"/><circle cx="447.2" cy="200.2" r="0.47" fill="#b79a7e"/><circle cx="340.0" cy="244.4" r="0.64" fill="#b79a7e"/><circle cx="297.1" cy="314.3" r="0.94" fill="#b79a7e"/><circle cx="525.2" cy="350.7" r="0.65" fill="#b08d70"/><circle cx="525.9" cy="246.3" r="0.78" fill="#b79a7e"/><circle cx="534.6" cy="252.6" r="0.80" fill="#b79a7e"/><circle cx="311.9" cy="274.5" r="0.68" fill="#94745d"/><circle cx="540.2" cy="258.1" r="0.72" fill="#b79a7e"/><circle cx="538.1" cy="320.6" r="0.91" fill="#b79a7e"/><circle cx="532.0" cy="252.5" r="0.63" fill="#c9b090"/><circle cx="307.4" cy="280.1" r="0.81" fill="#94745d"/><circle cx="549.9" cy="286.0" r="0.84" fill="#a5846a"/><circle cx="311.2" cy="264.2" r="0.58" fill="#c9b090"/><circle cx="358.1" cy="224.7" r="0.83" fill="#c9b090"/><circle cx="453.5" cy="199.5" r="0.48" fill="#c9b090"/><circle cx="394.7" cy="205.1" r="0.68" fill="#b79a7e"/><circle cx="299.3" cy="301.3" r="0.86" fill="#94745d"/><circle cx="515.3" cy="363.1" r="0.74" fill="#c9b090"/><circle cx="531.1" cy="248.9" r="0.56" fill="#a5846a"/><circle cx="506.7" cy="220.7" r="0.75" fill="#c9b090"/><circle cx="368.2" cy="218.8" r="0.67" fill="#b79a7e"/><circle cx="341.0" cy="239.2" r="0.61" fill="#b79a7e"/><circle cx="514.8" cy="367.3" r="0.71" fill="#a5846a"/><circle cx="404.8" cy="204.6" r="0.67" fill="#94745d"/><circle cx="326.7" cy="254.1" r="0.93" fill="#94745d"/><circle cx="375.1" cy="214.8" r="0.94" fill="#b08d70"/><circle cx="424.2" cy="195.5" r="0.48" fill="#b79a7e"/><circle cx="540.0" cy="320.2" r="0.74" fill="#94745d"/><circle cx="520.2" cy="364.7" r="0.61" fill="#b79a7e"/><circle cx="328.2" cy="257.0" r="0.95" fill="#c9b090"/><circle cx="544.4" cy="319.1" r="0.89" fill="#b79a7e"/><circle cx="367.7" cy="221.7" r="0.92" fill="#b79a7e"/><circle cx="499.7" cy="211.6" r="0.65" fill="#a5846a"/><circle cx="539.2" cy="336.6" r="0.75" fill="#94745d"/><circle cx="452.8" cy="200.2" r="0.93" fill="#a5846a"/><circle cx="381.5" cy="216.2" r="0.74" fill="#b79a7e"/><circle cx="518.8" cy="357.5" r="0.55" fill="#a5846a"/><circle cx="546.0" cy="283.7" r="0.93" fill="#b79a7e"/><circle cx="495.2" cy="210.7" r="0.93" fill="#a5846a"/><circle cx="335.9" cy="242.5" r="0.60" fill="#c9b090"/><circle cx="311.4" cy="278.3" r="0.54" fill="#a5846a"/><circle cx="304.7" cy="274.5" r="0.62" fill="#c9b090"/><circle cx="464.5" cy="199.1" r="0.59" fill="#b08d70"/><circle cx="420.5" cy="198.1" r="0.90" fill="#94745d"/><circle cx="542.7" cy="298.3" r="0.53" fill="#c9b090"/><circle cx="538.5" cy="320.8" r="0.62" fill="#a5846a"/><circle cx="547.2" cy="307.1" r="0.73" fill="#a5846a"/><circle cx="348.3" cy="232.2" r="0.84" fill="#b08d70"/><circle cx="393.9" cy="210.4" r="0.92" fill="#94745d"/><circle cx="303.7" cy="284.7" r="0.95" fill="#b79a7e"/><circle cx="388.9" cy="213.8" r="0.89" fill="#94745d"/><circle cx="368.2" cy="221.5" r="0.81" fill="#b79a7e"/><circle cx="368.3" cy="225.2" r="0.74" fill="#b08d70"/><circle cx="481.8" cy="208.3" r="0.70" fill="#b79a7e"/><circle cx="355.6" cy="226.4" r="0.88" fill="#b08d70"/><circle cx="533.8" cy="334.7" r="0.95" fill="#b08d70"/><circle cx="532.8" cy="337.8" r="0.72" fill="#b79a7e"/><circle cx="404.0" cy="203.9" r="0.66" fill="#b79a7e"/><circle cx="301.6" cy="300.6" r="0.54" fill="#b08d70"/><circle cx="533.3" cy="248.1" r="0.85" fill="#a5846a"/><circle cx="534.6" cy="249.7" r="0.58" fill="#94745d"/><circle cx="532.6" cy="257.0" r="0.84" fill="#a5846a"/><circle cx="548.4" cy="291.1" r="0.54" fill="#94745d"/><circle cx="526.8" cy="356.1" r="0.93" fill="#b79a7e"/><circle cx="349.5" cy="237.7" r="0.87" fill="#c9b090"/><circle cx="471.3" cy="196.6" r="0.54" fill="#b79a7e"/><circle cx="544.8" cy="286.1" r="0.80" fill="#c9b090"/><circle cx="333.5" cy="245.9" r="0.57" fill="#b08d70"/><circle cx="499.4" cy="215.4" r="0.45" fill="#94745d"/><circle cx="368.6" cy="219.4" r="0.49" fill="#a5846a"/><circle cx="329.8" cy="256.5" r="0.79" fill="#b08d70"/><circle cx="355.0" cy="231.8" r="0.88" fill="#c9b090"/><circle cx="352.6" cy="230.3" r="0.94" fill="#c9b090"/><circle cx="328.4" cy="248.0" r="0.68" fill="#b08d70"/><circle cx="410.9" cy="196.5" r="0.59" fill="#94745d"/><circle cx="511.8" cy="223.2" r="0.50" fill="#b08d70"/><circle cx="538.4" cy="316.2" r="0.83" fill="#94745d"/><circle cx="406.0" cy="205.0" r="0.51" fill="#b08d70"/><circle cx="413.6" cy="204.8" r="0.91" fill="#b79a7e"/><circle cx="302.1" cy="279.5" r="0.54" fill="#b08d70"/><circle cx="341.2" cy="245.1" r="0.83" fill="#a5846a"/><circle cx="293.4" cy="302.4" r="0.80" fill="#94745d"/><circle cx="514.6" cy="366.8" r="0.60" fill="#a5846a"/><circle cx="453.3" cy="197.7" r="0.62" fill="#b08d70"/><circle cx="503.8" cy="219.6" r="0.46" fill="#94745d"/><circle cx="543.0" cy="287.1" r="0.81" fill="#c9b090"/><circle cx="418.0" cy="203.6" r="0.61" fill="#a5846a"/><circle cx="508.4" cy="218.5" r="0.88" fill="#94745d"/><circle cx="333.3" cy="249.3" r="0.92" fill="#b08d70"/><circle cx="525.9" cy="357.3" r="0.69" fill="#94745d"/><circle cx="464.6" cy="198.6" r="0.76" fill="#94745d"/><circle cx="546.3" cy="276.3" r="0.59" fill="#94745d"/><circle cx="489.8" cy="210.4" r="0.83" fill="#94745d"/><circle cx="355.2" cy="233.0" r="0.55" fill="#a5846a"/><circle cx="392.0" cy="206.4" r="0.93" fill="#b08d70"/><circle cx="475.6" cy="201.4" r="0.68" fill="#b08d70"/><circle cx="442.6" cy="198.9" r="0.80" fill="#b08d70"/><circle cx="543.4" cy="273.8" r="0.73" fill="#94745d"/><circle cx="414.9" cy="203.7" r="0.88" fill="#c9b090"/><circle cx="539.1" cy="263.0" r="0.46" fill="#b79a7e"/><circle cx="381.9" cy="212.4" r="0.83" fill="#c9b090"/><circle cx="531.4" cy="351.1" r="0.74" fill="#94745d"/><circle cx="345.1" cy="233.1" r="0.84" fill="#c9b090"/><circle cx="538.3" cy="326.1" r="0.61" fill="#b79a7e"/><circle cx="470.6" cy="204.8" r="0.55" fill="#b79a7e"/><circle cx="422.9" cy="199.4" r="0.80" fill="#a5846a"/><circle cx="508.2" cy="222.1" r="0.71" fill="#b08d70"/><circle cx="501.7" cy="216.5" r="0.85" fill="#c9b090"/><circle cx="524.4" cy="356.1" r="0.87" fill="#b08d70"/><circle cx="471.9" cy="205.5" r="0.55" fill="#c9b090"/><circle cx="308.9" cy="280.4" r="0.87" fill="#94745d"/><circle cx="542.5" cy="279.7" r="0.87" fill="#b79a7e"/><circle cx="315.3" cy="271.3" r="0.69" fill="#b08d70"/><circle cx="348.2" cy="235.3" r="0.78" fill="#a5846a"/><circle cx="525.5" cy="346.2" r="0.85" fill="#c9b090"/><circle cx="490.8" cy="207.2" r="0.85" fill="#a5846a"/><circle cx="296.4" cy="296.9" r="0.53" fill="#a5846a"/><circle cx="442.4" cy="195.8" r="0.62" fill="#b79a7e"/><circle cx="541.2" cy="274.8" r="0.74" fill="#b79a7e"/><circle cx="345.4" cy="234.3" r="0.95" fill="#b08d70"/><circle cx="538.5" cy="316.7" r="0.93" fill="#c9b090"/><circle cx="432.5" cy="199.1" r="0.56" fill="#a5846a"/><circle cx="530.0" cy="343.7" r="0.79" fill="#b08d70"/><circle cx="534.6" cy="346.6" r="0.64" fill="#a5846a"/><circle cx="344.5" cy="238.0" r="0.75" fill="#c9b090"/><circle cx="375.8" cy="216.1" r="0.61" fill="#b08d70"/><circle cx="519.7" cy="235.7" r="0.84" fill="#a5846a"/><circle cx="323.0" cy="252.5" r="0.72" fill="#b08d70"/><circle cx="406.6" cy="199.0" r="0.74" fill="#b08d70"/><circle cx="298.7" cy="301.6" r="0.49" fill="#a5846a"/><circle cx="547.8" cy="298.2" r="0.58" fill="#94745d"/><circle cx="300.9" cy="301.9" r="0.92" fill="#c9b090"/><circle cx="373.1" cy="217.6" r="0.94" fill="#a5846a"/><circle cx="324.4" cy="256.8" r="0.59" fill="#b08d70"/><circle cx="470.5" cy="199.0" r="0.90" fill="#b79a7e"/><circle cx="514.7" cy="226.5" r="0.92" fill="#b79a7e"/><circle cx="547.8" cy="283.8" r="0.58" fill="#c9b090"/><circle cx="547.6" cy="311.8" r="0.65" fill="#b79a7e"/><circle cx="433.2" cy="192.9" r="0.80" fill="#a5846a"/><circle cx="448.6" cy="199.3" r="0.90" fill="#a5846a"/><circle cx="389.6" cy="207.4" r="0.87" fill="#a5846a"/><circle cx="542.8" cy="298.8" r="0.63" fill="#94745d"/><circle cx="516.1" cy="361.1" r="0.71" fill="#a5846a"/><circle cx="320.7" cy="255.9" r="0.63" fill="#b79a7e"/><circle cx="314.5" cy="269.0" r="0.93" fill="#c9b090"/><circle cx="336.2" cy="239.7" r="0.62" fill="#94745d"/><circle cx="295.5" cy="296.0" r="0.49" fill="#a5846a"/><circle cx="513.3" cy="366.2" r="0.94" fill="#b79a7e"/><circle cx="543.5" cy="323.6" r="0.60" fill="#b79a7e"/><circle cx="538.0" cy="338.7" r="0.47" fill="#c9b090"/><circle cx="372.6" cy="220.7" r="0.49" fill="#c9b090"/><circle cx="511.4" cy="219.5" r="0.84" fill="#a5846a"/><circle cx="502.8" cy="213.4" r="0.93" fill="#a5846a"/><circle cx="533.3" cy="256.2" r="0.60" fill="#94745d"/><circle cx="517.2" cy="360.2" r="0.70" fill="#b79a7e"/><circle cx="341.8" cy="240.1" r="0.67" fill="#b79a7e"/><circle cx="538.2" cy="328.7" r="0.72" fill="#b08d70"/><circle cx="411.6" cy="204.3" r="0.82" fill="#b79a7e"/><circle cx="498.8" cy="209.2" r="0.90" fill="#b79a7e"/><circle cx="507.8" cy="218.5" r="0.48" fill="#94745d"/><circle cx="341.7" cy="240.8" r="0.56" fill="#a5846a"/><circle cx="435.6" cy="200.2" r="0.61" fill="#b79a7e"/><circle cx="295.6" cy="305.6" r="0.87" fill="#a5846a"/><circle cx="446.0" cy="196.6" r="0.62" fill="#b08d70"/><circle cx="311.0" cy="264.1" r="0.79" fill="#b08d70"/><circle cx="540.3" cy="255.9" r="0.71" fill="#b08d70"/><circle cx="511.6" cy="226.0" r="0.79" fill="#b08d70"/><circle cx="547.2" cy="277.1" r="0.94" fill="#b08d70"/><circle cx="380.9" cy="210.4" r="0.87" fill="#b08d70"/><circle cx="418.9" cy="202.8" r="0.61" fill="#94745d"/><circle cx="514.3" cy="226.9" r="0.66" fill="#b79a7e"/><circle cx="477.4" cy="200.8" r="0.63" fill="#b79a7e"/><circle cx="538.1" cy="328.2" r="0.91" fill="#a5846a"/><circle cx="525.8" cy="349.9" r="0.63" fill="#c9b090"/><circle cx="405.2" cy="199.7" r="0.54" fill="#94745d"/><circle cx="403.7" cy="204.8" r="0.73" fill="#a5846a"/><circle cx="387.4" cy="210.8" r="0.85" fill="#a5846a"/><circle cx="449.3" cy="193.0" r="0.95" fill="#94745d"/><circle cx="447.0" cy="197.7" r="0.86" fill="#c9b090"/><circle cx="456.4" cy="197.9" r="0.86" fill="#b79a7e"/><circle cx="327.4" cy="249.1" r="0.83" fill="#b79a7e"/><circle cx="517.2" cy="362.9" r="0.70" fill="#94745d"/><circle cx="527.0" cy="345.4" r="0.59" fill="#c9b090"/><circle cx="542.2" cy="262.2" r="0.93" fill="#b79a7e"/><circle cx="359.9" cy="222.0" r="0.46" fill="#94745d"/><circle cx="547.5" cy="272.3" r="0.53" fill="#94745d"/><circle cx="369.1" cy="214.8" r="0.47" fill="#b08d70"/><circle cx="294.0" cy="307.3" r="0.95" fill="#b79a7e"/><circle cx="502.4" cy="216.4" r="0.57" fill="#a5846a"/><circle cx="536.7" cy="254.1" r="0.76" fill="#c9b090"/><circle cx="544.4" cy="287.1" r="0.49" fill="#c9b090"/><circle cx="342.3" cy="236.0" r="0.79" fill="#b08d70"/><circle cx="337.7" cy="243.2" r="0.65" fill="#b08d70"/><circle cx="509.9" cy="224.9" r="0.67" fill="#c9b090"/><circle cx="410.3" cy="203.5" r="0.54" fill="#94745d"/><circle cx="359.8" cy="223.6" r="0.55" fill="#c9b090"/><circle cx="395.7" cy="201.8" r="0.76" fill="#b08d70"/><circle cx="299.8" cy="295.0" r="0.82" fill="#a5846a"/><circle cx="516.9" cy="362.6" r="0.86" fill="#94745d"/><circle cx="311.2" cy="271.2" r="0.77" fill="#a5846a"/><circle cx="301.0" cy="282.6" r="0.60" fill="#94745d"/><circle cx="294.2" cy="299.8" r="0.88" fill="#a5846a"/><circle cx="461.4" cy="201.1" r="0.89" fill="#b08d70"/><circle cx="532.6" cy="347.1" r="0.56" fill="#a5846a"/><circle cx="539.2" cy="324.3" r="0.62" fill="#b08d70"/><circle cx="410.5" cy="204.2" r="0.70" fill="#94745d"/><circle cx="489.7" cy="207.0" r="0.78" fill="#b79a7e"/><circle cx="538.4" cy="257.8" r="0.73" fill="#b08d70"/><circle cx="543.3" cy="306.8" r="0.86" fill="#94745d"/><circle cx="518.7" cy="229.1" r="0.62" fill="#94745d"/><circle cx="477.6" cy="203.5" r="0.85" fill="#c9b090"/><circle cx="399.3" cy="207.3" r="0.71" fill="#a5846a"/><circle cx="437.2" cy="193.2" r="0.89" fill="#b08d70"/><circle cx="511.1" cy="222.5" r="0.85" fill="#c9b090"/><circle cx="295.0" cy="299.0" r="0.63" fill="#b79a7e"/><circle cx="483.2" cy="210.1" r="0.82" fill="#a5846a"/><circle cx="308.2" cy="278.2" r="0.80" fill="#a5846a"/><circle cx="408.2" cy="203.8" r="0.64" fill="#b08d70"/><circle cx="438.0" cy="199.1" r="0.73" fill="#b08d70"/><circle cx="521.9" cy="361.4" r="0.84" fill="#a5846a"/><circle cx="536.7" cy="342.6" r="0.76" fill="#a5846a"/><circle cx="435.1" cy="200.1" r="0.55" fill="#c9b090"/><circle cx="338.1" cy="240.4" r="0.69" fill="#b08d70"/><circle cx="295.3" cy="299.7" r="0.72" fill="#94745d"/><circle cx="330.5" cy="251.5" r="0.78" fill="#a5846a"/><circle cx="481.2" cy="200.3" r="0.93" fill="#a5846a"/><circle cx="304.0" cy="297.2" r="0.91" fill="#b79a7e"/><circle cx="316.5" cy="268.9" r="0.51" fill="#c9b090"/><circle cx="543.6" cy="282.1" r="0.54" fill="#b08d70"/><circle cx="389.6" cy="210.6" r="0.76" fill="#c9b090"/><circle cx="298.2" cy="298.7" r="0.65" fill="#c9b090"/><circle cx="313.5" cy="269.1" r="0.61" fill="#b79a7e"/><circle cx="549.6" cy="295.7" r="0.70" fill="#c9b090"/><circle cx="316.6" cy="264.7" r="0.55" fill="#b08d70"/><circle cx="542.2" cy="267.8" r="0.82" fill="#a5846a"/><circle cx="358.7" cy="231.8" r="0.87" fill="#94745d"/><circle cx="310.1" cy="272.9" r="0.47" fill="#c9b090"/><circle cx="480.3" cy="205.7" r="0.94" fill="#c9b090"/><circle cx="519.2" cy="356.5" r="0.67" fill="#94745d"/><circle cx="466.7" cy="203.5" r="0.46" fill="#b08d70"/><circle cx="386.8" cy="206.3" r="0.74" fill="#b08d70"/><circle cx="393.8" cy="204.0" r="0.63" fill="#94745d"/><circle cx="550.5" cy="296.2" r="0.65" fill="#c9b090"/><circle cx="539.2" cy="321.0" r="0.80" fill="#94745d"/><circle cx="298.1" cy="303.5" r="0.80" fill="#b79a7e"/><circle cx="340.1" cy="239.7" r="0.76" fill="#94745d"/><circle cx="470.1" cy="204.7" r="0.66" fill="#a5846a"/><circle cx="523.1" cy="349.4" r="0.93" fill="#94745d"/><circle cx="453.0" cy="199.5" r="0.94" fill="#a5846a"/><circle cx="319.5" cy="255.5" r="0.78" fill="#94745d"/><circle cx="298.6" cy="299.9" r="0.48" fill="#94745d"/><circle cx="474.6" cy="205.6" r="0.61" fill="#a5846a"/><circle cx="485.3" cy="209.2" r="0.85" fill="#94745d"/><circle cx="545.8" cy="300.5" r="0.85" fill="#b08d70"/><circle cx="428.0" cy="201.6" r="0.94" fill="#b79a7e"/><circle cx="299.4" cy="287.3" r="0.50" fill="#94745d"/><circle cx="311.3" cy="277.7" r="0.58" fill="#94745d"/><circle cx="535.3" cy="255.3" r="0.60" fill="#b79a7e"/><circle cx="542.5" cy="297.8" r="0.89" fill="#b08d70"/><circle cx="301.6" cy="302.2" r="0.51" fill="#a5846a"/><circle cx="447.3" cy="193.0" r="0.67" fill="#b79a7e"/><circle cx="432.7" cy="192.5" r="0.85" fill="#b79a7e"/><circle cx="526.7" cy="241.0" r="0.84" fill="#a5846a"/><circle cx="309.6" cy="274.4" r="0.66" fill="#a5846a"/><circle cx="536.9" cy="321.3" r="0.49" fill="#b08d70"/><circle cx="528.1" cy="239.0" r="0.47" fill="#94745d"/><circle cx="541.5" cy="324.5" r="0.93" fill="#a5846a"/><circle cx="370.4" cy="214.9" r="0.88" fill="#c9b090"/><circle cx="461.7" cy="199.4" r="0.75" fill="#b08d70"/><circle cx="437.8" cy="193.4" r="0.88" fill="#94745d"/><circle cx="389.1" cy="205.0" r="0.60" fill="#b08d70"/><circle cx="509.8" cy="225.8" r="0.74" fill="#b79a7e"/><circle cx="338.4" cy="241.6" r="0.74" fill="#b08d70"/><circle cx="453.7" cy="198.4" r="0.70" fill="#a5846a"/><circle cx="515.9" cy="361.2" r="0.85" fill="#a5846a"/><circle cx="538.4" cy="320.7" r="0.45" fill="#b79a7e"/><circle cx="533.7" cy="245.5" r="0.80" fill="#94745d"/><circle cx="374.6" cy="220.1" r="0.77" fill="#a5846a"/><circle cx="536.3" cy="337.2" r="0.55" fill="#b79a7e"/><circle cx="393.1" cy="208.1" r="0.60" fill="#a5846a"/><circle cx="298.0" cy="292.1" r="0.47" fill="#94745d"/><circle cx="542.9" cy="303.6" r="0.66" fill="#b08d70"/><circle cx="353.6" cy="228.0" r="0.92" fill="#b79a7e"/><circle cx="431.6" cy="201.0" r="0.84" fill="#c9b090"/><circle cx="315.1" cy="271.1" r="0.89" fill="#b08d70"/><circle cx="513.4" cy="226.4" r="0.67" fill="#b08d70"/><circle cx="301.4" cy="302.7" r="0.52" fill="#b08d70"/><circle cx="527.1" cy="347.8" r="0.54" fill="#a5846a"/><circle cx="318.6" cy="261.0" r="0.57" fill="#c9b090"/><circle cx="379.3" cy="210.6" r="0.61" fill="#c9b090"/><circle cx="420.8" cy="196.7" r="0.82" fill="#c9b090"/><circle cx="295.0" cy="296.4" r="0.75" fill="#b79a7e"/><circle cx="383.6" cy="210.2" r="0.52" fill="#b79a7e"/><circle cx="349.1" cy="231.6" r="0.94" fill="#c9b090"/><circle cx="298.4" cy="302.5" r="0.72" fill="#a5846a"/><circle cx="530.9" cy="339.5" r="0.89" fill="#b08d70"/><circle cx="545.3" cy="299.4" r="0.79" fill="#b79a7e"/><circle cx="526.6" cy="241.1" r="0.65" fill="#94745d"/><circle cx="514.4" cy="359.9" r="0.57" fill="#94745d"/><circle cx="533.5" cy="336.8" r="0.74" fill="#b79a7e"/><circle cx="320.8" cy="258.2" r="0.77" fill="#c9b090"/><circle cx="490.0" cy="213.4" r="0.80" fill="#a5846a"/><circle cx="476.8" cy="202.6" r="0.87" fill="#b08d70"/><circle cx="538.3" cy="268.4" r="0.72" fill="#b08d70"/><circle cx="430.2" cy="197.1" r="0.74" fill="#b08d70"/><circle cx="545.9" cy="312.5" r="0.75" fill="#b08d70"/><circle cx="537.3" cy="264.4" r="0.54" fill="#c9b090"/><circle cx="548.1" cy="285.6" r="0.89" fill="#b08d70"/><circle cx="297.7" cy="304.5" r="0.53" fill="#a5846a"/><circle cx="320.0" cy="254.5" r="0.90" fill="#c9b090"/><circle cx="541.0" cy="319.0" r="0.67" fill="#b08d70"/><circle cx="550.1" cy="299.8" r="0.72" fill="#a5846a"/><circle cx="355.7" cy="231.9" r="0.86" fill="#94745d"/><circle cx="439.9" cy="196.8" r="0.52" fill="#94745d"/><circle cx="350.2" cy="237.0" r="0.45" fill="#b79a7e"/><circle cx="321.2" cy="262.9" r="0.90" fill="#a5846a"/><circle cx="545.5" cy="268.5" r="0.76" fill="#94745d"/><circle cx="507.2" cy="218.5" r="0.77" fill="#a5846a"/><circle cx="400.4" cy="209.0" r="0.92" fill="#a5846a"/><circle cx="447.1" cy="198.0" r="0.45" fill="#a5846a"/><circle cx="417.6" cy="199.0" r="0.84" fill="#b79a7e"/><circle cx="542.8" cy="268.1" r="0.66" fill="#c9b090"/><circle cx="320.4" cy="266.4" r="0.81" fill="#b79a7e"/><circle cx="477.8" cy="207.3" r="0.78" fill="#b08d70"/><circle cx="549.2" cy="305.4" r="0.52" fill="#b79a7e"/><circle cx="537.6" cy="253.1" r="0.54" fill="#a5846a"/><circle cx="353.6" cy="235.6" r="0.74" fill="#c9b090"/><circle cx="312.7" cy="270.3" r="0.59" fill="#a5846a"/><circle cx="544.8" cy="299.8" r="0.60" fill="#a5846a"/><circle cx="298.8" cy="315.3" r="0.54" fill="#94745d"/><circle cx="296.9" cy="299.3" r="0.53" fill="#94745d"/><circle cx="464.8" cy="196.9" r="0.92" fill="#b79a7e"/><circle cx="542.1" cy="308.1" r="0.52" fill="#b79a7e"/><circle cx="361.9" cy="225.7" r="0.55" fill="#b79a7e"/><circle cx="317.2" cy="268.3" r="0.79" fill="#c9b090"/><circle cx="352.6" cy="231.9" r="0.81" fill="#a5846a"/><circle cx="467.4" cy="198.4" r="0.70" fill="#a5846a"/><circle cx="537.4" cy="341.3" r="0.47" fill="#94745d"/><circle cx="384.9" cy="216.1" r="0.86" fill="#c9b090"/><circle cx="360.2" cy="221.5" r="0.93" fill="#94745d"/><circle cx="363.1" cy="224.0" r="0.57" fill="#b79a7e"/><circle cx="291.6" cy="309.4" r="0.73" fill="#94745d"/><circle cx="530.9" cy="254.9" r="0.47" fill="#94745d"/><circle cx="529.5" cy="344.5" r="0.59" fill="#b79a7e"/><circle cx="522.2" cy="242.2" r="0.47" fill="#b79a7e"/><circle cx="502.4" cy="214.8" r="0.62" fill="#b08d70"/><circle cx="487.5" cy="208.2" r="0.53" fill="#b08d70"/><circle cx="545.8" cy="286.1" r="0.81" fill="#b08d70"/><circle cx="314.7" cy="263.5" r="0.54" fill="#b79a7e"/><circle cx="545.3" cy="291.7" r="0.75" fill="#a5846a"/><circle cx="331.0" cy="249.1" r="0.51" fill="#b79a7e"/><circle cx="536.9" cy="262.9" r="0.48" fill="#b08d70"/><circle cx="538.5" cy="322.9" r="0.46" fill="#b79a7e"/><circle cx="543.8" cy="321.0" r="0.67" fill="#b08d70"/><circle cx="434.4" cy="197.4" r="0.54" fill="#c9b090"/><circle cx="345.2" cy="234.0" r="0.49" fill="#a5846a"/><circle cx="387.2" cy="212.7" r="0.71" fill="#a5846a"/><circle cx="306.9" cy="286.5" r="0.46" fill="#b79a7e"/><circle cx="360.4" cy="221.7" r="0.62" fill="#94745d"/><circle cx="544.8" cy="281.8" r="0.88" fill="#c9b090"/><circle cx="454.8" cy="192.8" r="0.59" fill="#b79a7e"/><circle cx="458.2" cy="201.5" r="0.56" fill="#a5846a"/><circle cx="446.5" cy="197.4" r="0.81" fill="#c9b090"/><circle cx="315.1" cy="266.5" r="0.90" fill="#b08d70"/><circle cx="449.8" cy="197.6" r="0.89" fill="#c9b090"/><circle cx="509.1" cy="226.8" r="0.92" fill="#a5846a"/><circle cx="314.6" cy="274.9" r="0.53" fill="#c9b090"/><circle cx="544.1" cy="321.7" r="0.90" fill="#b79a7e"/><circle cx="542.6" cy="262.6" r="0.51" fill="#b79a7e"/><circle cx="539.4" cy="317.4" r="0.72" fill="#94745d"/><circle cx="457.1" cy="196.7" r="0.54" fill="#b08d70"/><circle cx="314.4" cy="262.5" r="0.58" fill="#a5846a"/><circle cx="547.4" cy="281.8" r="0.78" fill="#a5846a"/><circle cx="386.7" cy="214.1" r="0.82" fill="#b08d70"/><circle cx="364.2" cy="226.4" r="0.52" fill="#b08d70"/><circle cx="408.3" cy="200.9" r="0.86" fill="#c9b090"/><circle cx="543.8" cy="326.4" r="0.80" fill="#a5846a"/><circle cx="489.0" cy="209.6" r="0.56" fill="#c9b090"/><circle cx="317.8" cy="261.6" r="0.80" fill="#94745d"/><circle cx="415.4" cy="195.9" r="0.92" fill="#c9b090"/><circle cx="305.9" cy="284.0" r="0.55" fill="#b79a7e"/><circle cx="298.5" cy="302.6" r="0.47" fill="#b08d70"/><circle cx="534.1" cy="251.8" r="0.55" fill="#a5846a"/><circle cx="451.5" cy="199.0" r="0.45" fill="#a5846a"/><circle cx="316.5" cy="266.0" r="0.65" fill="#94745d"/><circle cx="513.4" cy="226.4" r="0.64" fill="#b08d70"/><circle cx="514.3" cy="364.8" r="0.80" fill="#c9b090"/><circle cx="538.2" cy="329.8" r="0.89" fill="#b08d70"/><circle cx="396.7" cy="207.7" r="0.55" fill="#94745d"/><circle cx="498.5" cy="214.1" r="0.59" fill="#a5846a"/><circle cx="392.2" cy="205.6" r="0.66" fill="#b79a7e"/><circle cx="363.8" cy="227.5" r="0.90" fill="#b08d70"/><circle cx="377.5" cy="216.2" r="0.46" fill="#b79a7e"/><circle cx="324.4" cy="357.6" r="0.58" fill="#a88468"/><circle cx="303.0" cy="327.5" r="0.58" fill="#a88468"/><circle cx="331.1" cy="357.9" r="0.67" fill="#a88468"/><circle cx="316.1" cy="349.5" r="0.52" fill="#a88468"/><circle cx="299.5" cy="321.8" r="0.61" fill="#a88468"/><circle cx="316.0" cy="353.4" r="0.55" fill="#a88468"/><circle cx="327.8" cy="359.9" r="0.59" fill="#a88468"/><circle cx="322.2" cy="354.3" r="0.46" fill="#a88468"/><circle cx="306.1" cy="342.1" r="0.60" fill="#a88468"/><circle cx="302.6" cy="334.7" r="0.41" fill="#a88468"/><circle cx="313.6" cy="348.9" r="0.41" fill="#a88468"/><circle cx="307.4" cy="339.8" r="0.58" fill="#a88468"/><circle cx="309.8" cy="344.3" r="0.40" fill="#a88468"/><circle cx="327.3" cy="357.9" r="0.67" fill="#a88468"/><circle cx="328.7" cy="356.9" r="0.53" fill="#a88468"/><circle cx="315.5" cy="349.5" r="0.55" fill="#a88468"/><circle cx="298.9" cy="320.8" r="0.66" fill="#a88468"/><circle cx="303.6" cy="336.5" r="0.47" fill="#a88468"/><circle cx="298.8" cy="323.9" r="0.49" fill="#a88468"/><circle cx="315.0" cy="349.3" r="0.64" fill="#a88468"/><circle cx="298.8" cy="320.8" r="0.64" fill="#a88468"/><circle cx="301.2" cy="326.5" r="0.59" fill="#a88468"/><circle cx="334.9" cy="361.5" r="0.62" fill="#a88468"/><circle cx="333.9" cy="359.2" r="0.54" fill="#a88468"/><circle cx="301.6" cy="318.5" r="0.61" fill="#a88468"/><circle cx="329.3" cy="358.6" r="0.45" fill="#a88468"/><circle cx="305.0" cy="332.8" r="0.44" fill="#a88468"/><circle cx="328.2" cy="358.4" r="0.63" fill="#a88468"/><circle cx="331.6" cy="359.8" r="0.43" fill="#a88468"/><circle cx="313.3" cy="346.7" r="0.62" fill="#a88468"/><circle cx="308.8" cy="345.6" r="0.57" fill="#a88468"/><circle cx="301.9" cy="330.6" r="0.43" fill="#a88468"/><circle cx="306.2" cy="337.2" r="0.55" fill="#a88468"/><circle cx="301.0" cy="327.1" r="0.56" fill="#a88468"/><circle cx="300.9" cy="324.9" r="0.43" fill="#a88468"/><circle cx="305.5" cy="338.1" r="0.48" fill="#a88468"/><circle cx="307.0" cy="338.3" r="0.58" fill="#a88468"/><circle cx="299.8" cy="324.3" r="0.42" fill="#a88468"/><circle cx="315.5" cy="349.5" r="0.50" fill="#a88468"/><circle cx="316.7" cy="352.4" r="0.56" fill="#a88468"/><circle cx="331.1" cy="357.8" r="0.56" fill="#a88468"/><circle cx="336.3" cy="360.6" r="0.40" fill="#a88468"/><circle cx="325.9" cy="356.9" r="0.52" fill="#a88468"/><circle cx="318.0" cy="352.2" r="0.51" fill="#a88468"/><circle cx="315.4" cy="352.4" r="0.53" fill="#a88468"/><circle cx="299.1" cy="316.8" r="0.46" fill="#a88468"/><circle cx="311.5" cy="344.9" r="0.56" fill="#a88468"/><circle cx="309.9" cy="344.8" r="0.68" fill="#a88468"/><circle cx="319.9" cy="353.2" r="0.60" fill="#a88468"/><circle cx="308.7" cy="342.0" r="0.61" fill="#a88468"/><circle cx="311.0" cy="344.6" r="0.68" fill="#a88468"/><circle cx="299.8" cy="317.2" r="0.59" fill="#a88468"/><circle cx="317.6" cy="353.8" r="0.51" fill="#a88468"/><circle cx="307.5" cy="341.0" r="0.51" fill="#a88468"/><circle cx="312.1" cy="347.6" r="0.43" fill="#a88468"/><circle cx="312.2" cy="346.9" r="0.60" fill="#a88468"/><circle cx="301.9" cy="329.0" r="0.43" fill="#a88468"/><circle cx="300.8" cy="325.5" r="0.46" fill="#a88468"/><circle cx="331.5" cy="360.2" r="0.44" fill="#a88468"/><circle cx="314.8" cy="350.5" r="0.68" fill="#a88468"/></g>
<clipPath id="brainclip"><path d="M306.4,304.8 C309.1,290.9 308.1,297.4 313.1,286.3 C318.1,275.1 312.5,282.5 321.3,271.4 C330.2,260.4 327.3,264.3 339.7,253.2 C352.2,242.0 346.0,247.4 358.7,237.9 C371.4,228.4 365.3,232.1 377.8,224.7 C390.3,217.2 383.9,220.7 396.1,215.6 C408.4,210.4 402.4,212.5 414.4,209.2 C426.5,205.9 420.6,207.1 432.4,205.6 C444.2,204.1 440.0,204.1 449.9,204.7 C459.8,205.2 454.1,204.9 462.2,207.2 C470.3,209.5 464.0,207.0 474.2,211.5 C484.4,216.0 482.1,214.1 492.9,220.6 C503.7,227.1 497.9,222.8 506.6,230.9 C515.3,239.0 511.8,235.6 518.9,245.0 C526.0,254.4 522.5,249.1 527.8,259.2 C533.1,269.3 531.8,266.5 534.9,275.3 C538.0,284.1 536.4,277.8 537.2,285.6 C538.0,293.3 538.6,288.4 537.4,298.6 C536.2,308.9 536.9,304.5 533.6,316.3 C530.3,328.1 528.2,332.2 527.5,334.1 C526.8,336.0 531.3,321.0 531.5,322.0 C531.7,323.0 531.2,327.7 528.0,337.0 C524.8,346.3 527.3,341.7 522.0,350.0 C516.7,358.3 520.7,356.0 512.0,362.0 C503.3,368.0 506.7,366.3 496.0,368.0 C485.3,369.7 490.0,369.7 480.0,367.0 C470.0,364.3 472.7,365.0 466.0,360.0 C459.3,355.0 462.7,356.3 460.0,352.0 C457.3,347.7 459.7,346.3 458.0,347.0 C456.3,347.7 459.0,349.5 455.0,354.0 C451.0,358.5 455.0,357.2 446.0,360.5 C437.0,363.8 440.0,362.8 428.0,363.8 C416.0,364.8 420.0,364.8 410.0,363.5 C400.0,362.2 404.7,362.8 398.0,360.0 C391.3,357.2 394.0,358.5 390.0,355.0 C386.0,351.5 389.3,349.5 386.0,349.5 C382.7,349.5 384.7,351.5 380.0,355.0 C375.3,358.5 378.0,357.3 372.0,360.0 C366.0,362.7 369.3,361.8 362.0,363.0 C354.7,364.2 358.0,364.2 350.0,363.5 C342.0,362.8 345.3,363.2 338.0,361.0 C330.7,358.8 334.7,360.7 328.0,357.0 C321.3,353.3 324.0,355.7 318.0,350.0 C312.0,344.3 314.3,347.3 310.0,340.0 C305.7,332.7 306.2,339.7 305.0,328.0 C303.8,316.3 303.7,318.7 306.4,304.8Z"/></clipPath>
<path d="M306.4,304.8 C309.1,290.9 308.1,297.4 313.1,286.3 C318.1,275.1 312.5,282.5 321.3,271.4 C330.2,260.4 327.3,264.3 339.7,253.2 C352.2,242.0 346.0,247.4 358.7,237.9 C371.4,228.4 365.3,232.1 377.8,224.7 C390.3,217.2 383.9,220.7 396.1,215.6 C408.4,210.4 402.4,212.5 414.4,209.2 C426.5,205.9 420.6,207.1 432.4,205.6 C444.2,204.1 440.0,204.1 449.9,204.7 C459.8,205.2 454.1,204.9 462.2,207.2 C470.3,209.5 464.0,207.0 474.2,211.5 C484.4,216.0 482.1,214.1 492.9,220.6 C503.7,227.1 497.9,222.8 506.6,230.9 C515.3,239.0 511.8,235.6 518.9,245.0 C526.0,254.4 522.5,249.1 527.8,259.2 C533.1,269.3 531.8,266.5 534.9,275.3 C538.0,284.1 536.4,277.8 537.2,285.6 C538.0,293.3 538.6,288.4 537.4,298.6 C536.2,308.9 536.9,304.5 533.6,316.3 C530.3,328.1 528.2,332.2 527.5,334.1 C526.8,336.0 531.3,321.0 531.5,322.0 C531.7,323.0 531.2,327.7 528.0,337.0 C524.8,346.3 527.3,341.7 522.0,350.0 C516.7,358.3 520.7,356.0 512.0,362.0 C503.3,368.0 506.7,366.3 496.0,368.0 C485.3,369.7 490.0,369.7 480.0,367.0 C470.0,364.3 472.7,365.0 466.0,360.0 C459.3,355.0 462.7,356.3 460.0,352.0 C457.3,347.7 459.7,346.3 458.0,347.0 C456.3,347.7 459.0,349.5 455.0,354.0 C451.0,358.5 455.0,357.2 446.0,360.5 C437.0,363.8 440.0,362.8 428.0,363.8 C416.0,364.8 420.0,364.8 410.0,363.5 C400.0,362.2 404.7,362.8 398.0,360.0 C391.3,357.2 394.0,358.5 390.0,355.0 C386.0,351.5 389.3,349.5 386.0,349.5 C382.7,349.5 384.7,351.5 380.0,355.0 C375.3,358.5 378.0,357.3 372.0,360.0 C366.0,362.7 369.3,361.8 362.0,363.0 C354.7,364.2 358.0,364.2 350.0,363.5 C342.0,362.8 345.3,363.2 338.0,361.0 C330.7,358.8 334.7,360.7 328.0,357.0 C321.3,353.3 324.0,355.7 318.0,350.0 C312.0,344.3 314.3,347.3 310.0,340.0 C305.7,332.7 306.2,339.7 305.0,328.0 C303.8,316.3 303.7,318.7 306.4,304.8Z" fill="#fbe3dc"/>
<path d="M306.4,304.8 C308.6,298.6 308.1,297.4 313.1,286.3 C318.1,275.1 312.5,282.5 321.3,271.4 C330.2,260.4 327.3,264.3 339.7,253.2 C352.2,242.0 346.0,247.4 358.7,237.9 C371.4,228.4 365.3,232.1 377.8,224.7 C390.3,217.2 383.9,220.7 396.1,215.6 C408.4,210.4 402.4,212.5 414.4,209.2 C426.5,205.9 420.6,207.1 432.4,205.6 C444.2,204.1 440.0,204.1 449.9,204.7 C459.8,205.2 454.1,204.9 462.2,207.2 C470.3,209.5 464.0,207.0 474.2,211.5 C484.4,216.0 482.1,214.1 492.9,220.6 C503.7,227.1 497.9,222.8 506.6,230.9 C515.3,239.0 511.8,235.6 518.9,245.0 C526.0,254.4 522.5,249.1 527.8,259.2 C533.1,269.3 531.8,266.5 534.9,275.3 C538.0,284.1 536.4,277.8 537.2,285.6 C538.0,293.3 538.6,288.4 537.4,298.6 C536.2,308.9 536.9,304.5 533.6,316.3 C530.3,328.1 528.2,332.2 527.5,334.1 C526.8,336.0 531.3,321.0 531.5,322.0 C531.7,323.0 530.8,328.3 528.0,337.0 C525.2,345.7 524.7,344.3 523.0,348.0" fill="none" stroke="#fbe3dc" stroke-width="7"/>
<path d="M306.4,304.8 C309.1,290.9 308.1,297.4 313.1,286.3 C318.1,275.1 312.5,282.5 321.3,271.4 C330.2,260.4 327.3,264.3 339.7,253.2 C352.2,242.0 346.0,247.4 358.7,237.9 C371.4,228.4 365.3,232.1 377.8,224.7 C390.3,217.2 383.9,220.7 396.1,215.6 C408.4,210.4 402.4,212.5 414.4,209.2 C426.5,205.9 420.6,207.1 432.4,205.6 C444.2,204.1 440.0,204.1 449.9,204.7 C459.8,205.2 454.1,204.9 462.2,207.2 C470.3,209.5 464.0,207.0 474.2,211.5 C484.4,216.0 482.1,214.1 492.9,220.6 C503.7,227.1 497.9,222.8 506.6,230.9 C515.3,239.0 511.8,235.6 518.9,245.0 C526.0,254.4 522.5,249.1 527.8,259.2 C533.1,269.3 531.8,266.5 534.9,275.3 C538.0,284.1 536.4,277.8 537.2,285.6 C538.0,293.3 538.6,288.4 537.4,298.6 C536.2,308.9 536.9,304.5 533.6,316.3 C530.3,328.1 528.2,332.2 527.5,334.1 C526.8,336.0 531.3,321.0 531.5,322.0 C531.7,323.0 531.2,327.7 528.0,337.0 C524.8,346.3 527.3,341.7 522.0,350.0 C516.7,358.3 520.7,356.0 512.0,362.0 C503.3,368.0 506.7,366.3 496.0,368.0 C485.3,369.7 490.0,369.7 480.0,367.0 C470.0,364.3 472.7,365.0 466.0,360.0 C459.3,355.0 462.7,356.3 460.0,352.0 C457.3,347.7 459.7,346.3 458.0,347.0 C456.3,347.7 459.0,349.5 455.0,354.0 C451.0,358.5 455.0,357.2 446.0,360.5 C437.0,363.8 440.0,362.8 428.0,363.8 C416.0,364.8 420.0,364.8 410.0,363.5 C400.0,362.2 404.7,362.8 398.0,360.0 C391.3,357.2 394.0,358.5 390.0,355.0 C386.0,351.5 389.3,349.5 386.0,349.5 C382.7,349.5 384.7,351.5 380.0,355.0 C375.3,358.5 378.0,357.3 372.0,360.0 C366.0,362.7 369.3,361.8 362.0,363.0 C354.7,364.2 358.0,364.2 350.0,363.5 C342.0,362.8 345.3,363.2 338.0,361.0 C330.7,358.8 334.7,360.7 328.0,357.0 C321.3,353.3 324.0,355.7 318.0,350.0 C312.0,344.3 314.3,347.3 310.0,340.0 C305.7,332.7 306.2,339.7 305.0,328.0 C303.8,316.3 303.7,318.7 306.4,304.8Z" fill="url(#gBrain)"/>
<g clip-path="url(#brainclip)">
<path d="M446.0,232.0 C441.3,238.7 443.3,236.7 432.0,252.0 C420.7,267.3 423.3,260.7 412.0,278.0 C400.7,295.3 405.3,286.7 398.0,304.0 C390.7,321.3 392.0,314.7 390.0,330.0 C388.0,345.3 391.3,343.3 392.0,350.0" fill="none" stroke="#c4697a" stroke-width="22.0" stroke-linecap="round" opacity="0.90" filter="url(#b6)"/>
<path d="M440.0,340.0 C450.0,334.0 450.0,332.7 470.0,322.0 C490.0,311.3 481.3,314.7 500.0,308.0 C518.7,301.3 517.3,304.0 526.0,302.0" fill="none" stroke="#c8707a" stroke-width="9.0" stroke-linecap="round" opacity="0.75" filter="url(#b3)"/>
<path d="M430.0,352.0 C439.3,348.0 441.3,347.3 458.0,340.0 C474.7,332.7 472.7,333.3 480.0,330.0" fill="none" stroke="#c8707a" stroke-width="7.0" stroke-linecap="round" opacity="0.70" filter="url(#b3)"/>
<path d="M312.0,335.0 C318.0,340.7 315.3,344.3 330.0,352.0 C344.7,359.7 339.3,358.7 356.0,358.0 C372.7,357.3 372.0,352.7 380.0,350.0" fill="none" stroke="#d07c82" stroke-width="10.0" stroke-linecap="round" opacity="0.80" filter="url(#b3)"/>
<path d="M394.0,357.0 C402.7,359.0 401.3,363.0 420.0,363.0 C438.7,363.0 440.0,359.0 450.0,357.0" fill="none" stroke="#c4697a" stroke-width="8.0" stroke-linecap="round" opacity="0.90" filter="url(#b3)"/>
<path d="M462.0,357.0 C468.7,359.7 468.0,363.7 482.0,365.0 C496.0,366.3 492.0,367.0 504.0,361.0 C516.0,355.0 513.3,351.7 518.0,347.0" fill="none" stroke="#c4697a" stroke-width="8.0" stroke-linecap="round" opacity="0.90" filter="url(#b3)"/>
<path d="M358.0,300.0 C362.0,306.0 361.3,309.3 370.0,318.0 C378.7,326.7 379.3,323.3 384.0,326.0" fill="none" stroke="#dc8e90" stroke-width="8.0" stroke-linecap="round" opacity="0.60" filter="url(#b3)"/>
<ellipse cx="490" cy="255" rx="38" ry="30" fill="#fdeee8" opacity="0.8" filter="url(#b6)"/>
<ellipse cx="345" cy="270" rx="28" ry="30" fill="#fde9e2" opacity="0.6" filter="url(#b6)"/>
<path d="M352.0,240.0 C354.7,247.3 355.3,246.7 360.0,262.0 C364.7,277.3 364.0,278.0 366.0,286.0" fill="none" stroke="#fff3ee" stroke-width="8.0" stroke-linecap="round" opacity="0.95" filter="url(#b2)"/>
<path d="M368.0,228.0 C370.0,236.0 370.0,236.0 374.0,252.0 C378.0,268.0 378.0,268.0 380.0,276.0" fill="none" stroke="#fff3ee" stroke-width="8.0" stroke-linecap="round" opacity="0.95" filter="url(#b2)"/>
<path d="M383.0,222.0 C384.7,230.0 385.0,232.7 388.0,246.0 C391.0,259.3 390.7,256.7 392.0,262.0" fill="none" stroke="#fff3ee" stroke-width="6.0" stroke-linecap="round" opacity="0.80" filter="url(#b2)"/>
<path d="M408.0,214.0 C409.7,222.7 408.3,223.3 413.0,240.0 C417.7,256.7 419.0,256.0 422.0,264.0" fill="none" stroke="#fff3ee" stroke-width="9.0" stroke-linecap="round" opacity="0.95" filter="url(#b2)"/>
<path d="M430.0,209.0 C431.3,217.7 430.0,219.7 434.0,235.0 C438.0,250.3 439.3,248.3 442.0,255.0" fill="none" stroke="#fff3ee" stroke-width="8.0" stroke-linecap="round" opacity="0.95" filter="url(#b2)"/>
<path d="M452.0,207.0 C454.0,214.7 454.0,215.7 458.0,230.0 C462.0,244.3 462.0,243.3 464.0,250.0" fill="none" stroke="#fff3ee" stroke-width="9.0" stroke-linecap="round" opacity="0.95" filter="url(#b2)"/>
<path d="M474.0,214.0 C476.0,221.3 476.0,222.0 480.0,236.0 C484.0,250.0 484.0,249.3 486.0,256.0" fill="none" stroke="#fff3ee" stroke-width="9.0" stroke-linecap="round" opacity="0.95" filter="url(#b2)"/>
<path d="M494.0,226.0 C497.3,233.3 499.3,234.0 504.0,248.0 C508.7,262.0 506.7,261.3 508.0,268.0" fill="none" stroke="#fff3ee" stroke-width="9.0" stroke-linecap="round" opacity="0.95" filter="url(#b2)"/>
<path d="M514.0,246.0 C516.7,252.7 518.7,253.3 522.0,266.0 C525.3,278.7 523.3,278.0 524.0,284.0" fill="none" stroke="#fff3ee" stroke-width="7.0" stroke-linecap="round" opacity="0.95" filter="url(#b2)"/>
<path d="M334.0,258.0 C336.0,266.0 336.7,267.3 340.0,282.0 C343.3,296.7 342.7,295.3 344.0,302.0" fill="none" stroke="#fff3ee" stroke-width="8.0" stroke-linecap="round" opacity="0.95" filter="url(#b2)"/>
<path d="M318.0,282.0 C319.3,288.7 321.3,287.7 322.0,302.0 C322.7,316.3 320.7,317.3 320.0,325.0" fill="none" stroke="#fff3ee" stroke-width="9.0" stroke-linecap="round" opacity="0.95" filter="url(#b2)"/>
<path d="M334.0,318.0 C338.7,322.0 337.3,326.7 348.0,330.0 C358.7,333.3 360.0,328.7 366.0,328.0" fill="none" stroke="#fff3ee" stroke-width="9.0" stroke-linecap="round" opacity="0.95" filter="url(#b2)"/>
<path d="M350.0,296.0 C354.7,299.3 354.7,304.0 364.0,306.0 C373.3,308.0 373.3,303.3 378.0,302.0" fill="none" stroke="#fff3ee" stroke-width="7.0" stroke-linecap="round" opacity="0.95" filter="url(#b2)"/>
<path d="M320.0,340.0 C325.3,343.3 324.0,346.7 336.0,350.0 C348.0,353.3 349.3,350.0 356.0,350.0" fill="none" stroke="#fff3ee" stroke-width="7.0" stroke-linecap="round" opacity="0.85" filter="url(#b2)"/>
<path d="M352.0,336.0 C356.0,338.0 356.0,341.3 364.0,342.0 C372.0,342.7 372.0,339.3 376.0,338.0" fill="none" stroke="#fff3ee" stroke-width="6.0" stroke-linecap="round" opacity="0.80" filter="url(#b2)"/>
<path d="M322.0,312.0 C324.7,316.7 322.7,318.0 330.0,326.0 C337.3,334.0 339.3,332.7 344.0,336.0" fill="none" stroke="#fff3ee" stroke-width="7.0" stroke-linecap="round" opacity="0.90" filter="url(#b2)"/>
<path d="M336.0,300.0 C339.3,304.0 338.0,306.0 346.0,312.0 C354.0,318.0 355.3,316.0 360.0,318.0" fill="none" stroke="#fff3ee" stroke-width="6.0" stroke-linecap="round" opacity="0.85" filter="url(#b2)"/>
<path d="M402.0,346.0 C410.7,340.7 410.0,342.0 428.0,330.0 C446.0,318.0 438.0,322.7 456.0,310.0 C474.0,297.3 473.3,298.0 482.0,292.0" fill="none" stroke="#fff3ee" stroke-width="12.0" stroke-linecap="round" opacity="0.95" filter="url(#b2)"/>
<path d="M436.0,296.0 C439.3,292.7 440.7,294.0 446.0,286.0 C451.3,278.0 450.0,276.7 452.0,272.0" fill="none" stroke="#fff3ee" stroke-width="6.0" stroke-linecap="round" opacity="0.70" filter="url(#b2)"/>
<path d="M478.0,276.0 C484.7,278.0 485.3,275.3 498.0,282.0 C510.7,288.7 510.0,291.3 516.0,296.0" fill="none" stroke="#fff3ee" stroke-width="11.0" stroke-linecap="round" opacity="0.95" filter="url(#b2)"/>
<path d="M488.0,318.0 C494.0,317.3 495.3,314.7 506.0,316.0 C516.7,317.3 515.3,320.0 520.0,322.0" fill="none" stroke="#fff3ee" stroke-width="9.0" stroke-linecap="round" opacity="0.90" filter="url(#b2)"/>
<path d="M470.0,346.0 C476.7,347.3 478.0,350.7 490.0,350.0 C502.0,349.3 500.7,346.0 506.0,344.0" fill="none" stroke="#fff3ee" stroke-width="7.0" stroke-linecap="round" opacity="0.70" filter="url(#b2)"/>
<path d="M410.0,356.0 C416.0,355.3 416.0,356.7 428.0,354.0 C440.0,351.3 440.0,350.0 446.0,348.0" fill="none" stroke="#fff3ee" stroke-width="5.0" stroke-linecap="round" opacity="0.60" filter="url(#b2)"/>
<path d="M343.0,252.0 C344.7,256.7 345.3,255.7 348.0,266.0 C350.7,276.3 349.7,273.0 351.0,283.0 C352.3,293.0 351.7,291.7 352.0,296.0" fill="none" stroke="#d4848a" stroke-width="2.4" stroke-linecap="round" opacity="0.90" filter="url(#b1)"/>
<path d="M360.0,242.0 C361.0,246.7 360.7,247.0 363.0,256.0 C365.3,265.0 364.3,258.0 367.0,269.0 C369.7,280.0 369.7,282.3 371.0,289.0" fill="none" stroke="#d4848a" stroke-width="2.4" stroke-linecap="round" opacity="0.90" filter="url(#b1)"/>
<path d="M377.0,228.0 C378.0,233.7 377.2,233.3 380.0,245.0 C382.8,256.7 382.8,251.3 385.5,263.0 C388.2,274.7 387.2,274.3 388.0,280.0" fill="none" stroke="#d4848a" stroke-width="2.4" stroke-linecap="round" opacity="0.90" filter="url(#b1)"/>
<path d="M400.0,219.0 C400.9,225.3 399.9,226.0 402.6,238.0 C405.3,250.0 404.2,245.7 408.0,255.0 C411.8,264.3 412.0,262.3 414.0,266.0" fill="none" stroke="#d4848a" stroke-width="2.4" stroke-linecap="round" opacity="0.90" filter="url(#b1)"/>
<path d="M424.0,213.5 C425.0,219.2 424.2,219.1 427.0,230.6 C429.8,242.1 428.2,237.5 432.5,248.0 C436.8,258.5 437.5,257.3 440.0,262.0" fill="none" stroke="#d4848a" stroke-width="2.4" stroke-linecap="round" opacity="0.90" filter="url(#b1)"/>
<path d="M443.0,208.0 C444.7,214.7 443.7,214.7 448.0,228.0 C452.3,241.3 453.3,241.3 456.0,248.0" fill="none" stroke="#e0a0a2" stroke-width="1.8" stroke-linecap="round" opacity="0.90" filter="url(#b1)"/>
<path d="M466.0,210.0 C467.3,217.3 466.7,218.0 470.0,232.0 C473.3,246.0 474.0,245.3 476.0,252.0" fill="none" stroke="#e0a0a2" stroke-width="1.8" stroke-linecap="round" opacity="0.90" filter="url(#b1)"/>
<path d="M486.0,220.0 C488.7,227.3 490.0,228.7 494.0,242.0 C498.0,255.3 496.7,254.0 498.0,260.0" fill="none" stroke="#e0a0a2" stroke-width="1.8" stroke-linecap="round" opacity="0.90" filter="url(#b1)"/>
<path d="M506.0,238.0 C508.7,244.0 510.3,244.0 514.0,256.0 C517.7,268.0 516.0,268.0 517.0,274.0" fill="none" stroke="#e0a0a2" stroke-width="1.8" stroke-linecap="round" opacity="0.90" filter="url(#b1)"/>
<path d="M328.0,270.0 C329.3,277.3 330.3,277.3 332.0,292.0 C333.7,306.7 332.7,306.7 333.0,314.0" fill="none" stroke="#d4848a" stroke-width="2.4" stroke-linecap="round" opacity="0.90" filter="url(#b1)"/>
<path d="M340.0,308.0 C344.7,310.7 343.3,314.0 354.0,316.0 C364.7,318.0 362.0,318.0 372.0,314.0 C382.0,310.0 380.0,307.3 384.0,304.0" fill="none" stroke="#d4848a" stroke-width="2.4" stroke-linecap="round" opacity="0.90" filter="url(#b1)"/>
<path d="M324.0,334.0 C329.3,336.7 328.0,339.3 340.0,342.0 C352.0,344.7 348.0,344.7 360.0,342.0 C372.0,339.3 370.7,336.7 376.0,334.0" fill="none" stroke="#d4848a" stroke-width="2.2" stroke-linecap="round" opacity="0.90" filter="url(#b1)"/>
<path d="M372.0,284.0 C374.7,285.3 375.3,288.0 380.0,288.0 C384.7,288.0 384.0,285.3 386.0,284.0" fill="none" stroke="#d4848a" stroke-width="1.5" stroke-linecap="round" opacity="0.90" filter="url(#b1)"/>
<path d="M476.0,282.0 C474.0,283.7 474.0,286.7 470.0,287.0 C466.0,287.3 466.0,284.3 464.0,283.0" fill="none" stroke="#cf7f84" stroke-width="1.4" stroke-linecap="round" opacity="0.90" filter="url(#b1)"/>
<path d="M476.0,282.0 C478.0,284.7 480.0,287.3 482.0,290.0" fill="none" stroke="#cf7f84" stroke-width="1.4" stroke-linecap="round" opacity="0.90" filter="url(#b1)"/>
<path d="M478.0,282.0 C480.0,280.0 482.0,278.0 484.0,276.0" fill="none" stroke="#cf7f84" stroke-width="1.4" stroke-linecap="round" opacity="0.90" filter="url(#b1)"/>
<path d="M444.0,339.0 C451.3,334.0 451.3,332.7 466.0,324.0 C480.7,315.3 474.7,319.0 488.0,313.0 C501.3,307.0 493.7,309.3 506.0,306.0 C518.3,302.7 518.7,304.0 525.0,303.0" fill="none" stroke="#bd6270" stroke-width="3.2" stroke-linecap="round" opacity="0.90" filter="url(#b1)"/>
<path d="M452.0,346.0 C460.0,342.0 460.0,340.7 476.0,334.0 C492.0,327.3 486.0,328.7 500.0,326.0 C514.0,323.3 512.0,326.0 518.0,326.0" fill="none" stroke="#c0667a" stroke-width="2.6" stroke-linecap="round" opacity="0.90" filter="url(#b1)"/>
<path d="M492.0,340.0 C496.7,338.0 496.7,336.0 506.0,334.0 C515.3,332.0 515.3,334.0 520.0,334.0" fill="none" stroke="#cf7f84" stroke-width="1.6" stroke-linecap="round" opacity="0.90" filter="url(#b1)"/>
<path d="M428.0,316.0 C429.3,320.0 431.3,320.0 432.0,328.0 C432.7,336.0 430.7,336.0 430.0,340.0" fill="none" stroke="#cf7f84" stroke-width="1.5" stroke-linecap="round" opacity="0.90" filter="url(#b1)"/>
</g>
<path d="M531.5,322.0 C530.3,327.0 531.2,327.7 528.0,337.0 C524.8,346.3 527.3,341.7 522.0,350.0 C516.7,358.3 520.7,356.0 512.0,362.0 C503.3,368.0 506.7,366.3 496.0,368.0 C485.3,369.7 490.0,369.7 480.0,367.0 C470.0,364.3 472.7,365.0 466.0,360.0 C459.3,355.0 462.7,356.3 460.0,352.0 C457.3,347.7 459.7,346.3 458.0,347.0 C456.3,347.7 459.0,349.5 455.0,354.0 C451.0,358.5 455.0,357.2 446.0,360.5 C437.0,363.8 440.0,362.8 428.0,363.8 C416.0,364.8 420.0,364.8 410.0,363.5 C400.0,362.2 404.7,362.8 398.0,360.0 C391.3,357.2 394.0,358.5 390.0,355.0 C386.0,351.5 389.3,349.5 386.0,349.5 C382.7,349.5 384.7,351.5 380.0,355.0 C375.3,358.5 378.0,357.3 372.0,360.0 C366.0,362.7 369.3,361.8 362.0,363.0 C354.7,364.2 358.0,364.2 350.0,363.5 C342.0,362.8 345.3,363.2 338.0,361.0 C330.7,358.8 334.7,360.7 328.0,357.0 C321.3,353.3 324.0,355.7 318.0,350.0 C312.0,344.3 314.3,347.3 310.0,340.0 C305.7,332.7 306.7,332.0 305.0,328.0" fill="none" stroke="#c0272d" stroke-width="1.4"/>
<circle cx="303.2" cy="317.7" r="1.5" fill="#e8141c"/><circle cx="303.7" cy="312.0" r="1.5" fill="#e8141c"/><circle cx="305.0" cy="308.3" r="1.2" fill="#e8141c"/><circle cx="306.0" cy="304.9" r="1.5" fill="#e8141c"/><circle cx="306.7" cy="299.6" r="1.0" fill="#e8141c"/><circle cx="310.8" cy="290.1" r="0.9" fill="#e8141c"/><circle cx="311.4" cy="286.9" r="1.5" fill="#e8141c"/><circle cx="314.2" cy="283.0" r="1.2" fill="#e8141c"/><circle cx="318.3" cy="275.7" r="1.5" fill="#e8141c"/><circle cx="321.2" cy="270.5" r="1.0" fill="#e8141c"/><circle cx="323.2" cy="268.6" r="1.0" fill="#e8141c"/><circle cx="326.6" cy="265.9" r="1.2" fill="#e8141c"/><circle cx="329.9" cy="262.3" r="2.2" fill="#e8141c"/><circle cx="336.5" cy="257.0" r="0.9" fill="#e8141c"/><circle cx="339.4" cy="252.6" r="1.0" fill="#e8141c"/><circle cx="343.0" cy="250.3" r="2.2" fill="#e8141c"/><circle cx="346.3" cy="246.0" r="2.2" fill="#e8141c"/><circle cx="351.3" cy="242.9" r="2.8" fill="#e8141c"/><circle cx="354.9" cy="239.7" r="1.5" fill="#e8141c"/><circle cx="358.7" cy="236.7" r="1.5" fill="#e8141c"/><circle cx="361.7" cy="235.1" r="0.9" fill="#e8141c"/><circle cx="365.8" cy="233.3" r="1.2" fill="#e8141c"/><circle cx="369.0" cy="229.7" r="0.9" fill="#e8141c"/><circle cx="381.4" cy="221.1" r="1.2" fill="#e8141c"/><circle cx="391.8" cy="217.2" r="1.0" fill="#e8141c"/><circle cx="395.6" cy="215.9" r="2.2" fill="#e8141c"/><circle cx="400.6" cy="214.4" r="0.9" fill="#e8141c"/><circle cx="405.2" cy="212.4" r="1.5" fill="#e8141c"/><circle cx="414.2" cy="208.8" r="1.2" fill="#e8141c"/><circle cx="419.5" cy="207.4" r="1.5" fill="#e8141c"/><circle cx="423.4" cy="206.0" r="2.2" fill="#e8141c"/><circle cx="427.5" cy="206.8" r="1.5" fill="#e8141c"/><circle cx="432.7" cy="204.1" r="1.2" fill="#e8141c"/><circle cx="435.9" cy="204.6" r="2.8" fill="#e8141c"/><circle cx="441.3" cy="204.3" r="1.2" fill="#e8141c"/><circle cx="445.9" cy="205.1" r="1.2" fill="#e8141c"/><circle cx="449.3" cy="204.8" r="1.5" fill="#e8141c"/><circle cx="458.0" cy="205.3" r="1.0" fill="#e8141c"/><circle cx="462.2" cy="207.1" r="1.0" fill="#e8141c"/><circle cx="465.9" cy="207.8" r="0.9" fill="#e8141c"/><circle cx="470.5" cy="210.3" r="1.0" fill="#e8141c"/><circle cx="475.0" cy="210.5" r="1.2" fill="#e8141c"/><circle cx="477.9" cy="212.2" r="1.2" fill="#e8141c"/><circle cx="481.8" cy="215.4" r="1.0" fill="#e8141c"/><circle cx="485.6" cy="217.2" r="1.2" fill="#e8141c"/><circle cx="489.4" cy="217.7" r="2.2" fill="#e8141c"/><circle cx="493.4" cy="220.5" r="1.2" fill="#e8141c"/><circle cx="496.7" cy="223.7" r="2.2" fill="#e8141c"/><circle cx="500.3" cy="226.1" r="0.9" fill="#e8141c"/><circle cx="503.7" cy="229.0" r="2.2" fill="#e8141c"/><circle cx="510.3" cy="234.7" r="2.8" fill="#e8141c"/><circle cx="513.6" cy="238.6" r="1.2" fill="#e8141c"/><circle cx="523.5" cy="252.9" r="1.0" fill="#e8141c"/><circle cx="527.1" cy="256.4" r="1.0" fill="#e8141c"/><circle cx="528.6" cy="258.5" r="0.9" fill="#e8141c"/><circle cx="529.7" cy="263.3" r="1.0" fill="#f0527a"/>
<circle cx="525.2" cy="270.0" r="1.5" fill="#e8141c"/>
<circle cx="528.2" cy="276.0" r="2.0" fill="#f0527a"/>
<circle cx="533.5" cy="289.5" r="1.6" fill="#f0527a"/>
<circle cx="534.2" cy="295.5" r="2.0" fill="#f0527a"/>
<circle cx="535.7" cy="300.7" r="1.5" fill="#f0527a"/>
<circle cx="533.5" cy="306.7" r="1.8" fill="#f0527a"/>
<circle cx="534.2" cy="314.2" r="1.4" fill="#f0527a"/>
<circle cx="531.2" cy="321.0" r="1.8" fill="#f0527a"/>
<circle cx="525.9" cy="334.5" r="1.4" fill="#f0527a"/>
<circle cx="524.1" cy="339.0" r="1.8" fill="#f0527a"/>
<circle cx="305.0" cy="300.0" r="1.3" fill="#e8141c"/>
<circle cx="304.0" cy="306.0" r="1.3" fill="#e8141c"/>
<circle cx="305.0" cy="312.0" r="1.5" fill="#e8141c"/>
<circle cx="307.0" cy="320.0" r="1.5" fill="#e8141c"/>
<circle cx="309.0" cy="327.0" r="1.6" fill="#e8141c"/>
<circle cx="312.0" cy="334.0" r="1.6" fill="#e8141c"/>
<circle cx="316.0" cy="341.0" r="1.3" fill="#e8141c"/>
<circle cx="321.0" cy="347.0" r="1.2" fill="#e8141c"/>
<circle cx="326.0" cy="352.0" r="1.0" fill="#e8141c"/>
<path id="pp" d="M321.2,229.3 C325.5,225.9 324.7,225.6 334.0,219.0 C343.3,212.4 338.7,215.3 349.0,209.5 C359.3,203.7 353.0,206.8 365.0,201.5 C377.0,196.2 370.0,198.3 385.0,193.5 C400.0,188.7 393.8,190.5 410.0,187.0 C426.2,183.5 425.7,184.3 433.5,183.0" fill="none"/>
<text font-size="17.5" fill="#ed1c24" stroke="#ed1c24" stroke-width="0.6"><textPath href="#pp" textLength="123" lengthAdjust="spacingAndGlyphs">Pain perception</textPath></text>
<path d="M332.0,266.0 C332.8,269.3 331.8,268.0 334.5,276.0 C337.2,284.0 335.2,278.3 340.0,290.0 C344.8,301.7 342.0,298.3 349.0,311.0 C356.0,323.7 351.0,319.5 361.0,328.0 C371.0,336.5 368.0,331.2 379.0,336.5 C390.0,341.8 385.3,337.2 394.0,344.0 C402.7,350.8 398.3,350.3 405.0,357.0 C411.7,363.7 406.3,361.3 414.0,364.0 C421.7,366.7 419.3,365.0 428.0,365.0 C436.7,365.0 432.7,363.2 440.0,364.0 C447.3,364.8 444.0,362.2 450.0,367.5 C456.0,372.8 452.7,370.5 458.0,380.0 C463.3,389.5 461.0,387.7 466.0,396.0 C471.0,404.3 468.7,400.3 473.0,405.0 C477.3,409.7 477.0,408.3 479.0,410.0" fill="none" stroke="#ed1c24" stroke-width="3.6" stroke-linecap="round" stroke-linejoin="round"/>
<path d="M332,266.5 L325.8,262.6 M332,266.5 L333.2,255.8" stroke="#ed1c24" stroke-width="2.4" stroke-linecap="round"/>
<path d="M485.5,400.5 L494.8,416.2 L476.2,414.4 Z" fill="#ed1c24"/>
<path d="M376.0,374.5 C378.0,374.8 377.3,377.0 382.0,375.5 C386.7,374.0 382.7,372.9 390.0,370.0 C397.3,367.1 393.3,368.0 404.0,366.7 C414.7,365.4 410.0,366.0 422.0,366.0 C434.0,366.0 431.3,365.4 440.0,366.7 C448.7,368.0 443.3,365.6 448.0,370.0 C452.7,374.4 450.0,370.0 454.0,380.0 C458.0,390.0 456.0,388.0 460.0,400.0 C464.0,412.0 462.0,408.5 466.0,416.0 C470.0,423.5 468.0,420.0 472.0,422.5 C476.0,425.0 476.0,423.2 478.0,423.5" fill="none" stroke="#1b75bb" stroke-width="4" stroke-linecap="round" stroke-linejoin="round"/>
<path d="M477.5,416.5 L495,419.3 L480.5,430.5 Z" fill="#1b75bb"/>
<path d="M376,374.5 L371.5,372.5 M377,374.5 L375.5,378.5" stroke="#1b75bb" stroke-width="1.8" stroke-linecap="round"/>
<path d="M386.0,374.0 C385.3,376.7 385.2,377.2 384.0,382.0 C382.8,386.8 383.5,383.8 382.5,388.5 C381.5,393.2 381.5,393.5 381.0,396.0" fill="none" stroke="#1b75bb" stroke-width="3" stroke-linecap="round"/>
<path d="M382.5,389 L374.5,392" stroke="#1b75bb" stroke-width="2" stroke-linecap="round"/>
<line x1="421.7" y1="366" x2="421.7" y2="380" stroke="#1b75bb" stroke-width="3.4"/>
<path d="M421.0,392.0 C420.0,398.0 422.3,397.3 418.0,410.0 C413.7,422.7 416.0,418.0 408.0,430.0 C400.0,442.0 401.3,437.3 394.0,446.0 C386.7,454.7 388.7,452.7 386.0,456.0" fill="none" stroke="url(#gBlueDown)" stroke-width="3.5" stroke-linecap="round"/>
<path d="M386,456 L377.5,458.5 M386,456 L384,465" stroke="#62c6ea" stroke-width="2" stroke-linecap="round"/>
<path d="M426.0,391.0 C430.7,397.3 432.0,395.7 440.0,410.0 C448.0,424.3 445.5,419.0 450.0,434.0 C454.5,449.0 453.8,441.7 453.5,455.0 C453.2,468.3 453.5,463.7 449.0,474.0 C444.5,484.3 448.0,477.3 440.0,486.0 C432.0,494.7 434.3,492.3 425.0,500.0 C415.7,507.7 416.3,506.0 412.0,509.0" fill="none" stroke="url(#gBlueDown)" stroke-width="3.5" stroke-linecap="round"/>
<path d="M412,509 L403,511.5 M412,509 L411,517" stroke="#62c6ea" stroke-width="2" stroke-linecap="round"/>
<path d="M389.5,228.3 C386.0,232.2 388.1,232.9 387.3,241.6 C386.5,250.2 386.5,245.8 387.1,254.2 C387.7,262.6 387.0,258.7 389.0,266.8 C391.0,274.8 389.4,270.9 393.2,278.2 C396.9,285.6 394.8,282.8 400.2,288.9 C405.5,295.0 402.6,292.4 409.2,296.6 C415.7,300.8 416.0,300.2 419.7,301.5 C423.4,302.8 423.2,302.9 420.3,300.5 C417.3,298.1 416.3,299.2 410.8,294.4 C405.4,289.6 407.8,292.3 403.8,286.1 C399.8,279.9 401.4,282.7 398.8,275.8 C396.3,268.8 397.4,272.6 396.2,265.2 C395.0,257.9 395.5,261.4 395.3,253.8 C395.1,246.2 394.9,250.5 395.7,242.4 C396.6,234.4 400.0,234.4 397.9,229.7 C395.8,225.0 393.0,224.3 389.5,228.3Z" fill="url(#gBlueArrow)"/>
<path d="M394,210.5 L400.5,231 L382,229 Z" fill="#1b75bb"/>
<path d="M455.0,322.2 C456.7,326.4 458.5,325.1 463.9,330.2 C469.3,335.3 466.5,332.0 471.2,337.5 C475.9,343.0 473.9,340.7 478.0,346.7 C482.1,352.6 480.0,349.3 483.5,355.4 C487.0,361.5 485.6,358.6 488.5,365.1 C491.5,371.5 489.0,366.0 492.3,374.7 C495.6,383.4 495.0,382.1 498.5,391.1 C501.9,400.0 501.1,398.1 502.7,401.6 C504.3,405.0 503.9,405.2 503.3,401.4 C502.7,397.7 503.1,399.7 500.9,390.3 C498.7,380.9 499.2,382.4 496.7,373.3 C494.2,364.2 496.2,369.8 493.5,362.9 C490.8,356.0 492.0,359.1 488.5,352.6 C485.0,346.1 487.2,349.6 483.0,343.3 C478.7,337.0 480.8,339.5 475.8,333.7 C470.8,327.8 473.7,331.1 468.1,325.8 C462.5,320.5 463.3,319.0 459.0,317.8 C454.6,316.6 453.4,318.1 455.0,322.2Z" fill="url(#gRedArrow)"/>
<path d="M442,313.2 L462.5,314 L454,328 Z" fill="#e8201d"/>
<circle cx="430.8" cy="303.5" r="10" fill="url(#gBl)"/>
<circle cx="421.7" cy="384.5" r="8.5" fill="url(#gBl)"/>
<circle cx="418.7" cy="351.3" r="10.2" fill="url(#gOr)"/>
<circle cx="507.6" cy="414" r="10.3" fill="url(#gOr)"/>
<circle cx="462" cy="204" r="15.6" fill="none" stroke="#111" stroke-width="2.6"/>
<path d="M476.0,190.9 C481.1,189.1 480.8,187.3 489.2,182.4 C497.5,177.6 492.2,180.1 501.1,176.4 C509.9,172.7 505.9,174.1 515.9,171.4 C525.8,168.7 521.2,169.8 531.0,168.2 C540.8,166.7 535.5,167.0 545.2,166.6 C555.0,166.1 551.7,166.3 560.3,166.9 C568.9,167.5 564.0,166.8 571.1,168.4 C578.3,170.0 577.4,173.2 581.8,171.8 C586.1,170.4 587.2,167.9 584.2,164.2 C581.2,160.4 580.7,162.3 572.9,160.6 C565.0,158.9 570.1,159.5 560.7,159.1 C551.3,158.7 555.1,158.5 544.8,159.4 C534.5,160.3 540.0,159.7 529.8,161.8 C519.6,163.8 524.4,162.3 514.1,165.6 C503.9,168.9 508.1,167.3 498.9,171.6 C489.8,175.9 495.1,173.1 486.8,178.6 C478.5,184.1 477.6,183.9 474.0,188.1 C470.4,192.2 470.9,192.8 476.0,190.9Z" fill="url(#gBigArrow)"/>
<path d="M587.6,156.8 L602,175 L580.4,179.6 Z" fill="#2d97c4"/>
<circle cx="730" cy="289.5" r="157.5" fill="#000" opacity="0.38" filter="url(#b6)"/>
<circle cx="721" cy="281.2" r="157.5" fill="#fff"/>
<g clip-path="url(#cc)">
<rect x="560" y="120" width="330" height="60" fill="#fff"/>
<rect x="560" y="200" width="330" height="250" fill="url(#gDark)"/>
<path d="M560.0,184.0 C573.3,178.3 577.3,175.5 600.0,167.0 C622.7,158.5 611.3,162.6 628.0,158.5 C644.7,154.4 632.7,156.6 650.0,154.8 C667.3,153.0 656.7,153.6 680.0,153.2 C703.3,152.8 695.0,152.8 720.0,153.6 C745.0,154.4 731.7,153.2 755.0,155.5 C778.3,157.8 765.0,155.3 790.0,160.5 C815.0,165.7 803.3,162.7 830.0,171.2 C856.7,179.7 850.0,177.7 870.0,186.0 C890.0,194.3 883.3,192.7 890.0,196.0 L890.0,259.0 L875.0,251.0 L850.0,240.0 L820.0,229.0 L780.0,218.5 L740.0,212.0 L700.0,209.5 L660.0,210.0 L620.0,213.0 L582.0,219.0 L560.0,226.0Z" fill="url(#gBone)"/>
<path d="M616.4,175.2 C616.4,176.6 616.9,176.2 615.8,177.3 C614.6,178.4 615.0,178.5 613.1,178.6 C611.2,178.6 611.6,178.6 610.2,177.5 C608.8,176.4 608.9,176.7 609.0,175.2 C609.0,173.7 609.1,174.2 610.5,173.1 C611.8,172.0 611.3,171.8 613.1,171.8 C614.9,171.8 614.7,171.9 615.8,173.0 C616.9,174.1 616.5,173.8 616.4,175.2Z" fill="url(#gHole)"/>
<path d="M625.7,169.0 C626.0,169.6 625.7,169.4 625.3,170.5 C624.8,171.6 625.3,171.5 624.2,172.2 C623.1,172.9 623.1,172.9 622.0,172.7 C620.8,172.5 621.2,172.5 620.8,171.6 C620.4,170.7 620.2,171.0 620.7,170.1 C621.3,169.1 621.3,169.4 622.4,168.8 C623.5,168.3 623.1,168.4 624.2,168.4 C625.2,168.5 625.3,168.3 625.7,169.0Z" fill="url(#gHole)"/>
<path d="M607.0,187.8 C607.0,189.9 607.7,189.7 606.4,190.9 C605.2,192.2 605.4,191.5 603.3,191.6 C601.2,191.6 601.5,192.3 600.1,191.0 C598.6,189.8 598.8,189.8 598.9,187.8 C599.0,185.8 598.9,186.4 600.4,184.9 C601.9,183.4 601.3,183.4 603.3,183.4 C605.3,183.3 605.1,183.2 606.4,184.7 C607.6,186.2 607.0,185.7 607.0,187.8Z" fill="url(#gHole)"/>
<path d="M619.4,186.7 C619.0,189.2 618.6,188.5 616.6,190.2 C614.6,191.9 615.3,192.1 613.3,191.8 C611.2,191.5 611.3,191.7 610.4,189.4 C609.6,187.1 610.0,187.5 610.8,184.9 C611.5,182.4 611.0,183.5 612.7,181.8 C614.3,180.1 614.0,179.5 615.7,179.8 C617.4,180.1 616.5,180.5 617.8,182.8 C619.0,185.0 619.8,184.2 619.4,186.7Z" fill="url(#gHole)"/>
<path d="M627.3,180.9 C627.0,183.7 626.9,183.5 625.2,185.4 C623.5,187.3 623.8,187.2 622.3,186.6 C620.8,186.0 621.3,185.9 620.8,183.5 C620.2,181.1 620.1,182.3 620.6,179.5 C621.0,176.7 620.6,177.1 622.1,175.0 C623.5,173.0 623.6,172.8 624.9,173.4 C626.3,174.1 625.4,174.5 626.2,177.0 C627.0,179.4 627.7,178.0 627.3,180.9Z" fill="url(#gHole)"/>
<path d="M617.8,194.6 C618.2,196.2 617.2,195.9 613.9,197.8 C610.7,199.7 612.6,199.5 608.1,200.4 C603.7,201.2 603.5,201.4 600.5,200.4 C597.5,199.5 599.2,199.5 599.0,197.5 C598.9,195.4 597.4,195.9 600.0,194.3 C602.7,192.7 602.7,193.1 607.0,192.6 C611.2,192.2 609.2,192.3 612.8,193.0 C616.4,193.7 617.4,193.0 617.8,194.6Z" fill="url(#gHole)"/>
<path d="M634.7,197.8 C634.5,200.0 635.2,200.1 632.1,200.9 C629.0,201.8 629.9,200.8 625.4,200.3 C620.8,199.9 621.5,201.0 618.5,199.6 C615.5,198.1 615.5,197.8 616.4,196.0 C617.2,194.1 617.7,195.2 621.0,193.9 C624.2,192.7 622.3,192.2 626.2,192.3 C630.0,192.4 629.7,192.5 632.6,194.3 C635.4,196.1 634.9,195.6 634.7,197.8Z" fill="url(#gHole)"/>
<path d="M640.7,189.4 C639.6,191.9 641.1,191.4 638.1,192.6 C635.0,193.9 635.5,194.3 631.6,193.1 C627.6,191.9 628.3,191.9 626.2,189.1 C624.2,186.2 624.4,187.0 625.4,184.6 C626.4,182.3 626.0,182.8 629.2,182.1 C632.3,181.4 630.7,181.7 634.8,182.7 C638.9,183.6 639.4,182.7 641.4,184.9 C643.4,187.1 641.8,186.8 640.7,189.4Z" fill="url(#gHole)"/>
<path d="M652.3,174.2 C652.7,176.8 654.8,176.7 650.9,178.3 C646.9,180.0 646.8,180.0 640.5,179.2 C634.2,178.3 635.7,178.2 632.0,175.8 C628.2,173.4 628.8,174.2 629.2,171.9 C629.6,169.6 629.2,170.0 633.3,168.9 C637.4,167.8 636.1,168.0 641.6,168.6 C647.0,169.1 646.1,168.7 649.6,170.5 C653.2,172.4 651.9,171.6 652.3,174.2Z" fill="url(#gHole)"/>
<path d="M651.9,192.0 C651.9,193.8 652.3,193.4 651.0,194.7 C649.7,196.0 649.9,196.0 648.1,195.9 C646.3,195.8 647.0,195.6 645.6,194.3 C644.2,193.0 644.2,193.8 643.9,192.0 C643.6,190.2 643.3,190.2 644.7,188.9 C646.1,187.6 646.0,188.0 648.1,188.1 C650.2,188.2 649.8,188.0 651.1,189.3 C652.3,190.6 651.9,190.2 651.9,192.0Z" fill="url(#gHole)"/>
<path d="M661.3,177.7 C662.3,179.7 661.2,179.5 659.0,182.6 C656.8,185.7 658.1,185.6 654.6,187.0 C651.2,188.4 652.0,187.5 648.7,186.8 C645.3,186.0 645.5,186.9 644.6,184.8 C643.7,182.6 644.1,183.2 645.9,180.4 C647.8,177.7 646.9,177.8 650.2,176.5 C653.4,175.2 652.0,176.2 655.7,176.6 C659.4,177.0 660.2,175.7 661.3,177.7Z" fill="url(#gHole)"/>
<path d="M664.8,170.4 C664.4,172.4 664.2,171.5 662.6,173.1 C661.0,174.7 661.5,175.4 660.0,175.2 C658.5,175.0 658.8,174.6 658.1,172.5 C657.4,170.4 657.5,171.3 657.9,169.0 C658.3,166.6 658.0,166.8 659.4,165.6 C660.7,164.4 660.5,164.9 662.0,165.4 C663.4,165.8 662.9,165.3 663.8,167.0 C664.8,168.7 665.2,168.3 664.8,170.4Z" fill="url(#gHole)"/>
<path d="M674.2,184.8 C675.9,187.1 676.2,186.5 674.1,190.1 C672.0,193.6 672.7,192.9 668.0,195.5 C663.2,198.1 664.6,197.8 660.0,197.9 C655.4,197.9 655.7,198.5 654.2,195.8 C652.6,193.1 652.7,193.2 655.4,189.7 C658.1,186.2 657.8,187.3 662.3,185.2 C666.9,183.0 665.0,183.3 669.0,183.2 C673.0,183.1 672.5,182.5 674.2,184.8Z" fill="url(#gHole)"/>
<path d="M676.4,175.5 C674.6,178.8 676.2,178.9 673.6,180.3 C670.9,181.6 670.6,181.4 668.3,179.6 C666.1,177.8 667.5,178.1 666.8,174.9 C666.2,171.7 665.2,172.6 666.4,170.1 C667.7,167.6 667.5,168.6 670.6,167.4 C673.6,166.1 672.9,165.1 675.7,166.2 C678.4,167.3 678.6,167.5 678.8,170.6 C679.0,173.7 678.1,172.3 676.4,175.5Z" fill="url(#gHole)"/>
<path d="M684.8,167.5 C684.6,168.9 684.8,168.3 683.7,169.3 C682.7,170.4 683.1,170.7 681.7,170.7 C680.3,170.8 680.7,170.5 679.5,169.5 C678.3,168.4 678.1,168.8 678.2,167.5 C678.2,166.2 678.4,166.8 679.6,165.6 C680.8,164.4 680.2,164.0 681.7,163.9 C683.2,163.8 683.2,164.0 684.2,165.2 C685.3,166.4 684.9,166.1 684.8,167.5Z" fill="url(#gHole)"/>
<path d="M703.2,183.2 C703.2,185.4 701.9,185.2 697.1,187.8 C692.4,190.3 694.5,189.6 689.0,190.9 C683.5,192.3 685.8,191.9 680.6,191.9 C675.4,191.8 674.8,192.7 673.5,190.8 C672.1,188.9 672.1,189.3 676.5,186.3 C680.9,183.3 679.8,183.6 686.7,181.9 C693.6,180.2 691.7,180.7 697.2,181.2 C702.7,181.6 703.2,181.0 703.2,183.2Z" fill="url(#gHole)"/>
<path d="M707.7,168.0 C708.7,170.4 708.3,169.9 704.9,173.2 C701.6,176.5 702.5,176.4 697.7,177.8 C692.9,179.3 694.9,178.0 690.5,177.6 C686.1,177.2 685.9,178.6 684.4,176.5 C682.9,174.5 682.9,174.6 686.0,171.6 C689.2,168.5 688.6,169.2 693.9,167.4 C699.2,165.6 697.4,165.9 702.0,166.1 C706.6,166.3 706.7,165.6 707.7,168.0Z" fill="url(#gHole)"/>
<path d="M711.1,192.1 C708.8,194.6 709.7,193.9 706.7,194.6 C703.8,195.3 704.1,195.8 702.2,194.1 C700.2,192.5 700.9,192.8 700.9,189.7 C701.0,186.5 700.3,187.1 702.4,184.7 C704.4,182.3 703.9,183.2 707.1,182.5 C710.2,181.8 709.6,181.1 711.9,182.6 C714.1,184.1 714.1,184.0 713.9,187.1 C713.6,190.3 713.5,189.6 711.1,192.1Z" fill="url(#gHole)"/>
<path d="M716.9,174.5 C716.7,176.7 716.4,176.2 714.5,177.6 C712.5,179.0 713.4,178.6 711.1,178.7 C708.8,178.8 709.5,179.2 707.5,177.8 C705.5,176.4 705.2,176.7 705.2,174.5 C705.3,172.3 705.6,173.1 707.6,171.3 C709.5,169.4 708.6,169.0 711.1,168.9 C713.6,168.8 713.1,169.0 715.0,170.9 C716.9,172.8 717.0,172.3 716.9,174.5Z" fill="url(#gHole)"/>
<path d="M734.0,191.6 C733.9,193.4 732.7,192.6 729.3,194.0 C726.0,195.3 727.7,195.9 723.9,195.6 C720.1,195.4 721.2,195.3 718.1,193.3 C715.0,191.3 714.4,191.8 714.6,189.6 C714.8,187.4 715.3,187.9 718.7,186.7 C722.1,185.5 721.2,185.6 724.8,186.1 C728.5,186.7 726.6,186.6 729.7,188.4 C732.8,190.2 734.2,189.7 734.0,191.6Z" fill="url(#gHole)"/>
<path d="M733.3,174.1 C733.4,175.9 733.2,175.1 731.8,176.9 C730.3,178.7 731.2,178.9 728.9,179.6 C726.5,180.2 726.8,179.9 724.7,178.8 C722.6,177.7 723.1,178.2 722.6,176.3 C722.1,174.4 721.5,174.4 723.1,173.0 C724.7,171.6 724.5,172.5 727.4,172.0 C730.2,171.5 729.5,170.7 731.5,171.4 C733.5,172.2 733.2,172.3 733.3,174.1Z" fill="url(#gHole)"/>
<path d="M744.8,173.1 C745.6,175.8 746.6,175.3 744.7,177.7 C742.8,180.1 743.3,179.3 739.2,180.3 C735.1,181.3 735.6,182.1 732.5,180.7 C729.3,179.3 730.0,179.3 729.6,176.2 C729.3,173.1 729.1,174.3 731.4,171.4 C733.7,168.5 732.9,168.2 736.6,167.6 C740.3,166.9 739.7,167.7 742.4,169.5 C745.2,171.4 744.1,170.4 744.8,173.1Z" fill="url(#gHole)"/>
<path d="M742.4,186.2 C742.1,187.9 742.7,187.7 740.3,188.5 C737.9,189.3 738.7,188.9 735.2,188.6 C731.6,188.4 732.0,189.0 729.6,187.7 C727.3,186.4 727.8,186.5 728.1,184.8 C728.4,183.0 727.9,183.2 730.5,182.4 C733.0,181.5 732.3,181.8 735.8,182.2 C739.4,182.5 739.0,182.0 741.2,183.4 C743.4,184.7 742.7,184.5 742.4,186.2Z" fill="url(#gHole)"/>
<path d="M744.0,193.9 C744.2,195.3 744.4,194.8 743.2,196.2 C741.9,197.5 742.4,197.6 740.3,198.0 C738.1,198.4 739.0,198.1 736.8,197.5 C734.6,196.8 733.8,197.3 733.6,196.0 C733.4,194.7 734.3,195.0 736.1,193.5 C737.9,191.9 736.7,192.0 738.9,191.4 C741.1,190.9 740.9,191.1 742.6,191.9 C744.3,192.7 743.8,192.5 744.0,193.9Z" fill="url(#gHole)"/>
<path d="M755.0,176.5 C754.3,178.1 753.9,177.8 751.2,177.6 C748.6,177.5 749.9,177.5 747.1,176.1 C744.3,174.7 744.0,175.4 742.8,173.4 C741.6,171.5 742.4,172.0 743.5,170.3 C744.6,168.5 743.7,168.2 745.9,168.2 C748.2,168.2 747.8,168.8 750.2,170.3 C752.6,171.9 751.6,170.8 753.2,172.8 C754.8,174.9 755.6,174.9 755.0,176.5Z" fill="url(#gHole)"/>
<path d="M761.8,181.5 C763.7,184.7 762.2,183.9 761.1,188.3 C760.1,192.6 761.8,192.4 758.7,194.6 C755.7,196.8 756.2,195.5 751.9,194.8 C747.6,194.1 747.9,195.4 745.8,192.5 C743.7,189.5 744.7,190.0 745.7,185.9 C746.7,181.8 745.5,182.5 748.8,180.1 C752.1,177.6 751.2,178.0 755.5,178.5 C759.9,179.0 760.0,178.2 761.8,181.5Z" fill="url(#gHole)"/>
<path d="M771.7,174.4 C771.8,176.1 771.9,176.0 769.6,177.0 C767.4,178.0 768.1,177.8 765.1,177.5 C762.1,177.3 762.6,177.6 760.7,176.2 C758.8,174.7 759.2,175.0 759.5,173.2 C759.7,171.4 759.4,171.6 761.5,170.7 C763.6,169.8 763.2,170.1 765.8,170.5 C768.5,170.8 767.5,170.5 769.5,171.8 C771.4,173.2 771.7,172.7 771.7,174.4Z" fill="url(#gHole)"/>
<path d="M769.0,195.8 C769.5,197.3 770.5,196.8 768.9,198.3 C767.2,199.9 767.1,199.8 764.1,200.3 C761.0,200.8 761.8,200.5 759.7,199.7 C757.6,199.0 758.6,199.5 757.8,198.0 C757.0,196.6 755.7,196.8 757.3,195.3 C759.0,193.9 759.4,194.2 762.7,193.7 C766.1,193.2 765.3,193.1 767.4,193.8 C769.5,194.5 768.5,194.3 769.0,195.8Z" fill="url(#gHole)"/>
<path d="M780.7,189.9 C780.6,191.5 779.6,191.1 776.7,192.3 C773.7,193.6 775.0,193.8 771.8,193.7 C768.6,193.7 769.2,193.5 767.1,192.2 C765.0,191.0 765.5,191.5 765.4,189.9 C765.4,188.3 764.9,188.9 767.1,187.5 C769.2,186.2 768.6,185.9 771.8,185.9 C775.0,185.9 773.8,186.1 776.7,187.4 C779.7,188.8 780.7,188.3 780.7,189.9Z" fill="url(#gHole)"/>
<path d="M787.5,182.4 C787.6,184.8 788.1,184.8 784.8,186.0 C781.5,187.2 782.5,186.4 777.6,186.0 C772.8,185.5 773.7,186.5 770.4,184.7 C767.0,182.9 767.5,183.1 767.7,180.5 C767.9,177.8 767.4,178.1 771.0,176.7 C774.6,175.4 774.1,175.7 778.6,176.4 C783.1,177.1 781.5,176.8 784.5,178.9 C787.4,180.9 787.4,180.1 787.5,182.4Z" fill="url(#gHole)"/>
<path d="M791.9,194.6 C792.6,197.2 792.2,196.4 789.6,199.5 C787.1,202.6 788.7,202.3 784.3,203.9 C779.8,205.6 780.3,205.6 776.3,204.5 C772.3,203.4 772.5,203.5 772.3,200.7 C772.1,197.8 772.9,198.7 775.7,195.9 C778.5,193.1 776.7,193.7 780.7,192.3 C784.6,190.9 783.7,191.0 787.4,191.8 C791.2,192.5 791.1,192.1 791.9,194.6Z" fill="url(#gHole)"/>
<path d="M801.7,187.6 C800.7,191.3 801.6,191.5 798.9,192.9 C796.3,194.4 796.7,193.2 793.7,191.9 C790.6,190.7 791.3,191.9 789.8,189.1 C788.4,186.4 788.5,187.4 789.3,183.7 C790.0,180.1 789.3,179.8 792.1,178.2 C794.9,176.5 794.4,177.6 797.7,178.8 C801.0,180.0 800.7,178.9 802.1,181.8 C803.4,184.8 802.8,183.9 801.7,187.6Z" fill="url(#gHole)"/>
<path d="M805.3,194.5 C806.8,197.2 806.6,195.9 806.0,199.1 C805.5,202.3 806.4,201.9 803.7,204.1 C801.1,206.2 801.1,206.2 798.0,205.5 C794.9,204.8 796.3,204.6 794.5,201.9 C792.7,199.2 792.1,200.5 792.5,197.4 C793.0,194.2 792.8,194.5 795.8,192.4 C798.8,190.4 798.4,190.5 801.6,191.2 C804.7,191.9 803.8,191.9 805.3,194.5Z" fill="url(#gHole)"/>
<path d="M816.6,189.6 C815.9,191.7 816.4,191.1 814.0,192.1 C811.5,193.1 812.2,193.4 809.3,192.6 C806.4,191.8 806.5,192.0 805.1,189.8 C803.8,187.7 804.5,188.3 805.3,186.1 C806.1,183.9 805.3,184.3 807.6,183.4 C809.9,182.4 809.3,182.4 812.2,183.2 C815.1,184.1 814.8,183.7 816.3,185.8 C817.7,188.0 817.4,187.5 816.6,189.6Z" fill="url(#gHole)"/>
<path d="M818.4,207.5 C816.5,210.5 817.4,209.0 814.2,210.7 C811.0,212.3 811.6,213.5 808.8,212.5 C806.0,211.5 806.3,211.4 805.8,207.7 C805.3,204.0 805.3,205.0 807.3,201.4 C809.3,197.8 808.8,197.8 811.8,197.0 C814.7,196.2 813.4,197.5 816.1,199.0 C818.9,200.6 819.3,198.8 820.1,201.7 C820.9,204.5 820.4,204.5 818.4,207.5Z" fill="url(#gHole)"/>
<path d="M825.8,195.5 C825.8,197.7 825.9,197.3 824.1,198.9 C822.2,200.5 822.7,200.3 820.1,200.2 C817.5,200.2 818.3,200.3 816.3,198.7 C814.3,197.2 814.0,197.5 814.1,195.5 C814.3,193.5 814.8,194.1 816.8,192.7 C818.8,191.3 817.7,191.5 820.1,191.3 C822.5,191.1 822.1,190.7 824.0,192.1 C825.9,193.6 825.8,193.3 825.8,195.5Z" fill="url(#gHole)"/>
<path d="M828.2,188.0 C828.1,189.5 828.1,189.4 826.3,190.1 C824.6,190.9 825.2,190.7 822.9,190.3 C820.7,190.0 820.8,190.3 819.6,189.0 C818.4,187.6 818.7,187.7 819.2,186.2 C819.8,184.7 819.6,185.4 821.2,184.5 C822.9,183.6 822.5,183.2 824.3,183.6 C826.1,184.0 825.4,184.2 826.7,185.7 C828.0,187.1 828.3,186.6 828.2,188.0Z" fill="url(#gHole)"/>
<path d="M829.3,203.9 C829.3,205.3 829.8,204.8 828.6,206.0 C827.4,207.2 827.6,207.5 825.7,207.5 C823.8,207.4 824.3,207.1 823.0,205.9 C821.6,204.7 821.9,205.4 821.7,203.9 C821.5,202.4 821.0,202.7 822.3,201.5 C823.7,200.3 823.6,200.3 825.7,200.4 C827.8,200.5 827.5,200.6 828.7,201.7 C829.9,202.9 829.3,202.5 829.3,203.9Z" fill="url(#gHole)"/>
<path d="M834.0,196.9 C834.0,198.3 834.4,197.9 833.3,199.0 C832.1,200.1 832.3,200.2 830.6,200.2 C828.9,200.1 829.6,199.9 828.2,198.8 C826.7,197.7 826.3,198.2 826.3,196.9 C826.3,195.6 826.7,195.8 828.1,194.9 C829.6,194.0 828.9,194.3 830.6,194.2 C832.3,194.2 832.1,193.9 833.2,194.8 C834.4,195.7 834.0,195.5 834.0,196.9Z" fill="url(#gHole)"/>
<path d="M837.6,190.6 C837.6,191.9 838.3,191.7 837.4,192.6 C836.4,193.5 836.6,193.2 834.8,193.3 C833.0,193.3 833.4,193.6 832.1,192.7 C830.8,191.8 830.8,192.0 830.9,190.6 C830.9,189.2 831.0,189.6 832.3,188.6 C833.6,187.7 833.1,187.7 834.8,187.7 C836.5,187.8 836.3,187.8 837.2,188.7 C838.2,189.7 837.5,189.3 837.6,190.6Z" fill="url(#gHole)"/>
<path d="M841.9,204.9 C841.6,206.3 841.2,205.8 839.3,206.5 C837.5,207.1 838.4,207.2 836.4,206.9 C834.4,206.7 834.4,206.9 833.3,205.6 C832.3,204.4 833.0,204.8 833.2,203.1 C833.5,201.5 832.6,201.3 834.1,200.7 C835.5,200.0 835.5,200.6 837.6,201.2 C839.6,201.7 838.8,201.1 840.2,202.4 C841.7,203.6 842.2,203.5 841.9,204.9Z" fill="url(#gHole)"/>
<path d="M837.3,209.8 C837.3,211.3 837.0,210.7 835.5,212.2 C834.0,213.8 834.9,214.1 832.7,214.6 C830.6,215.0 831.3,214.5 829.1,213.6 C827.0,212.8 826.6,213.4 826.4,212.0 C826.2,210.7 826.9,211.0 828.6,209.6 C830.2,208.2 829.1,208.5 831.4,207.9 C833.6,207.2 833.3,207.1 835.3,207.7 C837.3,208.4 837.2,208.3 837.3,209.8Z" fill="url(#gHole)"/>
<path d="M847.9,198.0 C847.9,199.5 848.0,199.5 845.9,200.2 C843.9,200.9 844.4,200.8 841.8,200.2 C839.3,199.6 839.8,199.9 838.3,198.5 C836.9,197.1 837.4,197.6 837.5,195.9 C837.7,194.2 837.0,194.1 838.9,193.4 C840.7,192.8 840.7,193.2 843.1,193.9 C845.5,194.6 844.5,194.2 846.1,195.5 C847.7,196.9 847.9,196.4 847.9,198.0Z" fill="url(#gHole)"/>
<path d="M853.3,205.3 C853.4,206.6 853.4,206.7 851.9,207.4 C850.5,208.1 850.7,207.6 848.9,207.5 C847.1,207.4 847.6,207.7 846.5,207.0 C845.3,206.2 845.6,206.5 845.4,205.3 C845.3,204.1 844.8,204.2 846.0,203.3 C847.1,202.4 847.0,202.6 848.9,202.7 C850.8,202.7 850.2,202.5 851.7,203.4 C853.1,204.3 853.2,204.0 853.3,205.3Z" fill="url(#gHole)"/>
<path d="M849.9,211.1 C850.1,212.4 850.3,211.9 848.5,213.3 C846.8,214.7 847.5,214.8 844.6,215.4 C841.7,216.1 842.3,215.9 839.8,215.3 C837.4,214.7 837.3,214.9 837.3,213.7 C837.4,212.4 838.0,212.7 840.1,211.4 C842.1,210.1 840.8,210.4 843.5,209.7 C846.1,209.1 845.8,209.0 848.0,209.5 C850.1,209.9 849.7,209.8 849.9,211.1Z" fill="url(#gHole)"/>
<path d="M560.0,184.0 C573.3,178.3 577.3,175.5 600.0,167.0 C622.7,158.5 611.3,162.6 628.0,158.5 C644.7,154.4 632.7,156.6 650.0,154.8 C667.3,153.0 656.7,153.6 680.0,153.2 C703.3,152.8 695.0,152.8 720.0,153.6 C745.0,154.4 731.7,153.2 755.0,155.5 C778.3,157.8 765.0,155.3 790.0,160.5 C815.0,165.7 803.3,162.7 830.0,171.2 C856.7,179.7 850.0,177.7 870.0,186.0 C890.0,194.3 883.3,192.7 890.0,196.0" fill="none" stroke="#b5302a" stroke-width="4"/>
<path d="M560.0,231.0 C567.3,228.7 562.0,228.3 582.0,224.0 C602.0,219.7 594.0,221.0 620.0,218.0 C646.0,215.0 633.3,216.2 660.0,215.0 C686.7,213.8 673.3,213.8 700.0,214.5 C726.7,215.2 713.3,214.0 740.0,217.0 C766.7,220.0 753.3,217.8 780.0,223.5 C806.7,229.2 796.7,226.8 820.0,234.0 C843.3,241.2 831.7,237.7 850.0,245.0 C868.3,252.3 861.7,249.7 875.0,256.0 C888.3,262.3 885.0,261.3 890.0,264.0" fill="none" stroke="#ef8f80" stroke-width="8"/>
<linearGradient id="gBand" gradientUnits="userSpaceOnUse" x1="700" y1="0" x2="860" y2="0"><stop offset="0" stop-color="#6aa6d6"/><stop offset="0.5" stop-color="#a9b4dc"/><stop offset="1" stop-color="#c4bde0"/></linearGradient>
<path d="M560.0,240.0 C567.3,237.2 562.0,236.3 582.0,231.5 C602.0,226.7 594.0,228.5 620.0,225.5 C646.0,222.5 633.3,223.5 660.0,222.5 C686.7,221.5 673.3,221.7 700.0,222.5 C726.7,223.3 713.3,221.8 740.0,225.0 C766.7,228.2 753.3,226.0 780.0,232.0 C806.7,238.0 796.7,235.5 820.0,243.0 C843.3,250.5 831.7,246.5 850.0,254.5 C868.3,262.5 861.7,259.8 875.0,267.0 C888.3,274.2 885.0,273.0 890.0,276.0" fill="none" stroke="url(#gBand)" stroke-width="6"/>
<path d="M560.0,226.0 C567.3,223.7 562.0,223.3 582.0,219.0 C602.0,214.7 594.0,216.0 620.0,213.0 C646.0,210.0 633.3,211.2 660.0,210.0 C686.7,208.8 673.3,208.8 700.0,209.5 C726.7,210.2 713.3,209.0 740.0,212.0 C766.7,215.0 753.3,212.8 780.0,218.5 C806.7,224.2 796.7,221.8 820.0,229.0 C843.3,236.2 831.7,232.7 850.0,240.0 C868.3,247.3 861.7,244.7 875.0,251.0 C888.3,257.3 885.0,256.3 890.0,259.0" fill="none" stroke="#b8312b" stroke-width="3.2"/>
<path d="M722.0,244.0 C730.3,224.3 730.7,241.7 745.0,241.0 C759.3,240.3 751.7,240.3 765.0,242.0 C778.3,243.7 776.7,230.0 785.0,246.0 C793.3,262.0 795.0,272.0 790.0,290.0 C785.0,308.0 780.7,292.0 770.0,300.0 C759.3,308.0 764.7,305.3 758.0,314.0 C751.3,322.7 754.7,319.3 750.0,326.0 C745.3,332.7 748.7,334.0 744.0,334.0 C739.3,334.0 744.0,337.3 736.0,326.0 C728.0,314.7 724.7,327.3 720.0,300.0 C715.3,272.7 713.7,263.7 722.0,244.0Z" fill="#9a1443"/>
<ellipse cx="748" cy="255" rx="16" ry="10" fill="#c43a55" opacity="0.7" filter="url(#b3)"/>
<path d="M655.0,240.0 C665.0,237.0 665.0,234.0 685.0,231.0 C705.0,228.0 695.0,229.3 715.0,231.0 C735.0,232.7 725.0,232.0 745.0,236.0 C765.0,240.0 765.0,240.7 775.0,243.0" fill="none" stroke="#c9503f" stroke-width="9" filter="url(#b2)"/>
<path d="M690.0,231.0 C698.3,231.2 698.3,230.0 715.0,231.5 C731.7,233.0 723.3,232.3 740.0,235.5 C756.7,238.7 756.7,239.2 765.0,241.0" fill="none" stroke="#f3a79a" stroke-width="4" filter="url(#b1)"/>
<path d="M555.0,268.0 C561.7,267.7 562.7,266.5 575.0,267.0 C587.3,267.5 581.7,266.5 592.0,269.5 C602.3,272.5 598.3,270.2 606.0,276.0 C613.7,281.8 610.7,278.3 615.0,287.0 C619.3,295.7 616.0,291.7 619.0,302.0 C622.0,312.3 620.0,307.7 624.0,318.0 C628.0,328.3 626.0,324.0 631.0,333.0 C636.0,342.0 635.3,338.3 639.0,345.0 C642.7,351.7 642.7,346.3 642.0,353.0 C641.3,359.7 641.7,355.3 637.0,365.0 C632.3,374.7 633.0,370.3 628.0,382.0 C623.0,393.7 626.7,384.0 622.0,400.0 C617.3,416.0 636.3,416.7 614.0,430.0 C591.7,443.3 574.7,436.7 555.0,440.0" fill="#f9cdb9"/>
<clipPath id="clipL"><path d="M555.0,268.0 C561.7,267.7 562.7,266.5 575.0,267.0 C587.3,267.5 581.7,266.5 592.0,269.5 C602.3,272.5 598.3,270.2 606.0,276.0 C613.7,281.8 610.7,278.3 615.0,287.0 C619.3,295.7 616.0,291.7 619.0,302.0 C622.0,312.3 620.0,307.7 624.0,318.0 C628.0,328.3 626.0,324.0 631.0,333.0 C636.0,342.0 635.3,338.3 639.0,345.0 C642.7,351.7 642.7,346.3 642.0,353.0 C641.3,359.7 641.7,355.3 637.0,365.0 C632.3,374.7 633.0,370.3 628.0,382.0 C623.0,393.7 626.7,384.0 622.0,400.0 C617.3,416.0 636.3,416.7 614.0,430.0 C591.7,443.3 574.7,436.7 555.0,440.0"/></clipPath>
<g clip-path="url(#clipL)"><path d="M596.0,268.0 C600.0,270.3 601.0,268.3 608.0,275.0 C615.0,281.7 612.7,278.7 617.0,288.0 C621.3,297.3 618.0,292.7 621.0,303.0 C624.0,313.3 622.0,308.7 626.0,319.0 C630.0,329.3 628.0,325.0 633.0,334.0 C638.0,343.0 637.3,339.3 641.0,346.0 C644.7,352.7 644.7,347.3 644.0,354.0 C643.3,360.7 643.7,356.3 639.0,366.0 C634.3,375.7 635.0,371.3 630.0,383.0 C625.0,394.7 628.7,385.0 624.0,401.0 C619.3,417.0 618.7,421.0 616.0,431.0" fill="none" stroke="#ec7468" stroke-width="11" filter="url(#b2)"/></g>
<ellipse cx="585" cy="300" rx="22" ry="14" fill="#fcdfd3" opacity="0.9" filter="url(#b6)"/>
<ellipse cx="600" cy="276" rx="9" ry="3" fill="#ee6f6c" opacity="0.9" filter="url(#b2)"/>
<g clip-path="url(#clipL)"><ellipse cx="620" cy="324" rx="17" ry="36" fill="#ee6a65" opacity="0.95" filter="url(#b3)" transform="rotate(-22 624 330)"/></g>
<path d="M628.0,405.0 C630.7,398.3 631.0,396.7 636.0,385.0 C641.0,373.3 638.0,378.2 643.0,370.0 C648.0,361.8 643.7,364.2 651.0,360.5 C658.3,356.8 652.0,358.5 665.0,359.0 C678.0,359.5 673.3,362.7 690.0,362.0 C706.7,361.3 700.0,362.7 715.0,357.0 C730.0,351.3 723.7,355.7 735.0,345.0 C746.3,334.3 740.7,338.0 749.0,325.0 C757.3,312.0 751.3,315.8 760.0,306.0 C768.7,296.2 763.3,300.3 775.0,295.5 C786.7,290.7 781.7,291.8 795.0,291.5 C808.3,291.2 801.7,291.7 815.0,294.5 C828.3,297.3 821.7,295.7 835.0,300.0 C848.3,304.3 841.7,301.7 855.0,307.5 C868.3,313.3 863.3,311.0 875.0,317.5 C886.7,324.0 885.0,282.8 890.0,327.0 C895.0,371.2 980.0,409.0 890.0,450.0 C800.0,491.0 710.0,450.0 620.0,450.0" fill="#f9cdb9"/>
<clipPath id="clipR"><path d="M628.0,405.0 C630.7,398.3 631.0,396.7 636.0,385.0 C641.0,373.3 638.0,378.2 643.0,370.0 C648.0,361.8 643.7,364.2 651.0,360.5 C658.3,356.8 652.0,358.5 665.0,359.0 C678.0,359.5 673.3,362.7 690.0,362.0 C706.7,361.3 700.0,362.7 715.0,357.0 C730.0,351.3 723.7,355.7 735.0,345.0 C746.3,334.3 740.7,338.0 749.0,325.0 C757.3,312.0 751.3,315.8 760.0,306.0 C768.7,296.2 763.3,300.3 775.0,295.5 C786.7,290.7 781.7,291.8 795.0,291.5 C808.3,291.2 801.7,291.7 815.0,294.5 C828.3,297.3 821.7,295.7 835.0,300.0 C848.3,304.3 841.7,301.7 855.0,307.5 C868.3,313.3 863.3,311.0 875.0,317.5 C886.7,324.0 885.0,282.8 890.0,327.0 C895.0,371.2 980.0,409.0 890.0,450.0 C800.0,491.0 710.0,450.0 620.0,450.0"/></clipPath>
<g clip-path="url(#clipR)"><path d="M626.0,408.0 C629.3,400.3 630.3,397.7 636.0,385.0 C641.7,372.3 638.0,378.2 643.0,370.0 C648.0,361.8 643.7,364.2 651.0,360.5 C658.3,356.8 652.0,358.5 665.0,359.0 C678.0,359.5 673.3,362.7 690.0,362.0 C706.7,361.3 700.0,362.7 715.0,357.0 C730.0,351.3 723.7,355.7 735.0,345.0 C746.3,334.3 740.7,338.0 749.0,325.0 C757.3,312.0 751.3,315.8 760.0,306.0 C768.7,296.2 763.3,300.3 775.0,295.5 C786.7,290.7 782.7,292.2 795.0,291.5 C807.3,290.8 806.3,292.8 812.0,293.5" fill="none" stroke="#ec8373" stroke-width="10" filter="url(#b2)"/></g>
<path d="M650.0,382.0 C655.0,374.3 649.7,374.0 663.0,371.0 C676.3,368.0 671.7,374.0 690.0,373.0 C708.3,372.0 700.7,374.3 718.0,368.0 C735.3,361.7 728.7,366.0 742.0,354.0 C755.3,342.0 748.7,346.0 758.0,332.0 C767.3,318.0 759.3,322.0 770.0,312.0 C780.7,302.0 777.3,304.3 790.0,302.0 C802.7,299.7 804.0,298.3 808.0,305.0 C812.0,311.7 808.7,308.7 802.0,322.0 C795.3,335.3 798.7,329.0 788.0,345.0 C777.3,361.0 785.3,355.0 770.0,370.0 C754.7,385.0 763.7,380.3 742.0,390.0 C720.3,399.7 729.7,396.0 705.0,399.0 C680.3,402.0 687.0,400.7 668.0,399.0 C649.0,397.3 654.0,399.7 648.0,394.0 C642.0,388.3 645.0,389.7 650.0,382.0Z" fill="#ee6a64" filter="url(#b6)"/>
<ellipse cx="798" cy="301" rx="15" ry="5" fill="#ee6a66" opacity="0.8" filter="url(#b3)"/>
<ellipse cx="640" cy="400" rx="8" ry="12" fill="#f0837a" opacity="0.7" filter="url(#b3)"/>
<circle cx="685.5" cy="294.5" r="62.6" fill="none" stroke="#a33a26" stroke-width="2.6"/>
<path d="M646.0,354.0 C644.3,357.3 645.3,355.3 641.0,364.0 C636.7,372.7 637.7,369.3 633.0,380.0 C628.3,390.7 631.0,384.3 627.0,396.0 C623.0,407.7 624.7,403.0 621.0,415.0 C617.3,427.0 617.7,426.3 616.0,432.0" fill="none" stroke="#a63d22" stroke-width="6.5" stroke-linecap="round"/>
<path d="M777.0,243.0 C784.7,243.0 785.7,240.0 800.0,243.0 C814.3,246.0 806.7,246.3 820.0,252.0 C833.3,257.7 827.3,255.3 840.0,260.0 C852.7,264.7 844.7,261.3 858.0,266.0 C871.3,270.7 872.7,271.3 880.0,274.0 L880.0,268.0 C877.3,269.3 882.0,267.7 872.0,272.0 C862.0,276.3 867.3,275.8 850.0,281.0 C832.7,286.2 836.7,285.0 820.0,287.5 C803.3,290.0 814.3,289.2 800.0,288.5 C785.7,287.8 784.7,286.5 777.0,285.5 Z" fill="url(#gNerve)"/>
<path d="M777,243 C800,241 815,247 828,255 C815,262 795,262 777,262 Z" fill="#f9c861" opacity="0.85" filter="url(#b2)"/>
<path d="M815,250.5 C828,251 845,253.5 858,258 C851,263.5 834,264 823,259.5 C819,257.5 816.5,254 815,250.5 Z" fill="#b3174b"/>
<ellipse cx="777" cy="264.3" rx="15.5" ry="21.2" fill="url(#gNerveEnd)" transform="rotate(4 777 264)"/>
<text x="799.5" y="278" font-size="15.5" fill="#fff" textLength="43" lengthAdjust="spacingAndGlyphs" stroke="#fff" stroke-width="0.4">Nerve</text>
<circle cx="685.5" cy="294.5" r="61.5" fill="#f9cdc2"/>
<circle cx="685.5" cy="294.5" r="58.8" fill="#f4a6a5"/>
<circle cx="685.5" cy="294.5" r="56.3" fill="none" stroke="#cf4f76" stroke-width="2.6" stroke-dasharray="7 3.5 4 3 9 4"/>
<circle cx="685.5" cy="294.5" r="53" fill="none" stroke="#d8607f" stroke-width="1.8" stroke-dasharray="5 5 8 4 3 4" stroke-dashoffset="5"/>
<circle cx="685.5" cy="294.5" r="50" fill="#f09a94"/>
<path d="M729.8,297.0 Q720.8,304.2 726.4,314.3 Q712.3,315.6 714.2,326.7 Q703.1,324.8 699.6,333.5 Q691.7,333.3 684.5,339.8 Q677.3,333.3 667.5,338.1 Q665.9,324.8 654.8,326.7 Q656.7,315.6 647.3,312.4 Q648.2,304.2 642.5,297.0 Q648.2,289.8 643.4,280.0 Q656.7,278.4 654.2,266.7 Q665.9,269.2 669.4,260.5 Q677.3,260.7 684.5,255.0 Q691.7,260.7 701.8,255.1 Q703.1,269.2 714.2,267.3 Q712.3,278.4 721.0,281.9 Q720.8,289.8 727.3,297.0Z" fill="url(#gLumen)"/>
<path d="M729,276 C722,280 719,290 721,298 C718,304 719,314 725,320 C731,314 734,300 729,276 Z" fill="#ec8a88"/>
<line x1="685.5" y1="268.0" x2="685.5" y2="252.0" stroke="#fff" stroke-width="2.2"/>
<path d="M685.5,244.5 L689.1,252.0 L681.9,252.0 Z" fill="#fff"/>
<line x1="685.5" y1="326.0" x2="685.5" y2="341.5" stroke="#fff" stroke-width="2.2"/>
<path d="M685.5,349.0 L681.9,341.5 L689.1,341.5 Z" fill="#fff"/>
<line x1="656.0" y1="297.0" x2="639.5" y2="297.0" stroke="#fff" stroke-width="2.2"/>
<path d="M632.0,297.0 L639.5,293.4 L639.5,300.6 Z" fill="#fff"/>
<line x1="714.6" y1="297.0" x2="731.2" y2="297.0" stroke="#fff" stroke-width="2.2"/>
<path d="M738.7,297.0 L731.2,300.6 L731.2,293.4 Z" fill="#fff"/>
<line x1="665.0" y1="276.0" x2="653.5" y2="265.1" stroke="#fff" stroke-width="2.2"/>
<path d="M648.0,260.0 L655.9,262.5 L651.0,267.8 Z" fill="#fff"/>
<line x1="705.6" y1="276.0" x2="717.1" y2="265.1" stroke="#fff" stroke-width="2.2"/>
<path d="M722.6,260.0 L719.6,267.8 L714.7,262.5 Z" fill="#fff"/>
<line x1="665.0" y1="318.0" x2="653.9" y2="328.8" stroke="#fff" stroke-width="2.2"/>
<path d="M648.5,334.0 L651.4,326.2 L656.4,331.4 Z" fill="#fff"/>
<line x1="705.6" y1="318.0" x2="717.1" y2="328.9" stroke="#fff" stroke-width="2.2"/>
<path d="M722.6,334.0 L714.7,331.5 L719.6,326.2 Z" fill="#fff"/>
<text x="664.4" y="293.4" font-size="15.5" fill="#fff" textLength="40.6" lengthAdjust="spacingAndGlyphs" stroke="#fff" stroke-width="0.3">Vessel</text>
<text x="659.4" y="311.4" font-size="15.5" fill="#fff" textLength="50.2" lengthAdjust="spacingAndGlyphs" stroke="#fff" stroke-width="0.3">dilation</text>
<circle cx="717.1" cy="238.2" r="4.5" fill="url(#gDot)"/>
<circle cx="727.1" cy="237.8" r="2.9" fill="url(#gDot)"/>
<circle cx="735.7" cy="238.2" r="2.2" fill="url(#gDot)"/>
<circle cx="732.1" cy="242.8" r="2.9" fill="url(#gDot)"/>
<circle cx="722.7" cy="246.6" r="4.0" fill="url(#gDot)"/>
<circle cx="741.2" cy="242.2" r="2.5" fill="url(#gDot)"/>
<circle cx="738.2" cy="248.2" r="2.9" fill="url(#gDot)"/>
<circle cx="731.1" cy="249.2" r="2.2" fill="url(#gDot)"/>
<circle cx="744.6" cy="246.6" r="1.8" fill="url(#gDot)"/>
<circle cx="750.2" cy="246.2" r="1.8" fill="url(#gDot)"/>
<circle cx="756.2" cy="248.8" r="1.8" fill="url(#gDot)"/>
<circle cx="760.2" cy="251.2" r="2.2" fill="url(#gDot)"/>
<circle cx="734.1" cy="254.2" r="2.2" fill="url(#gDot)"/>
<circle cx="741.2" cy="253.8" r="2.2" fill="url(#gDot)"/>
<circle cx="746.6" cy="251.8" r="1.8" fill="url(#gDot)"/>
<circle cx="749.8" cy="254.6" r="1.8" fill="url(#gDot)"/>
<circle cx="754.6" cy="254.6" r="2.2" fill="url(#gDot)"/>
<circle cx="759.2" cy="257.2" r="2.0" fill="url(#gDot)"/>
<circle cx="727.7" cy="258.2" r="2.7" fill="url(#gDot)"/>
<circle cx="733.1" cy="262.2" r="2.7" fill="url(#gDot)"/>
<circle cx="738.6" cy="259.8" r="2.0" fill="url(#gDot)"/>
<circle cx="738.6" cy="265.3" r="2.0" fill="url(#gDot)"/>
<circle cx="745.2" cy="269.9" r="1.8" fill="url(#gDot)"/>
<circle cx="749.8" cy="269.9" r="1.8" fill="url(#gDot)"/>
<circle cx="754.6" cy="269.3" r="1.8" fill="url(#gDot)"/>
<circle cx="759.2" cy="269.9" r="1.8" fill="url(#gDot)"/>
<circle cx="733.1" cy="271.3" r="2.7" fill="url(#gDot)"/>
<circle cx="723.1" cy="274.3" r="2.5" fill="url(#gDot)"/>
<circle cx="740.2" cy="274.3" r="2.7" fill="url(#gDot)"/>
<circle cx="748.2" cy="274.3" r="1.8" fill="url(#gDot)"/>
<circle cx="753.2" cy="274.3" r="1.8" fill="url(#gDot)"/>
<circle cx="758.2" cy="273.9" r="1.8" fill="url(#gDot)"/>
<circle cx="732.1" cy="278.7" r="2.5" fill="url(#gDot)"/>
<circle cx="739.2" cy="280.7" r="2.5" fill="url(#gDot)"/>
<circle cx="744.6" cy="278.3" r="2.0" fill="url(#gDot)"/>
<circle cx="726.5" cy="280.3" r="3.4" fill="url(#gDot)"/>
<circle cx="721.1" cy="287.3" r="3.8" fill="url(#gDot)"/>
<circle cx="732.1" cy="286.9" r="3.6" fill="url(#gDot)"/>
<circle cx="766.3" cy="284.3" r="2.0" fill="url(#gDot)"/>
<circle cx="771.3" cy="286.7" r="1.8" fill="url(#gDot)"/>
<circle cx="762.2" cy="288.4" r="2.2" fill="url(#gDot)"/>
<circle cx="766.3" cy="290.4" r="2.2" fill="url(#gDot)"/>
<circle cx="753.2" cy="294.4" r="2.2" fill="url(#gDot)"/>
<circle cx="758.2" cy="293.4" r="1.8" fill="url(#gDot)"/>
<circle cx="763.3" cy="294.0" r="2.2" fill="url(#gDot)"/>
<circle cx="747.8" cy="299.4" r="2.7" fill="url(#gDot)"/>
<circle cx="753.2" cy="303.4" r="2.7" fill="url(#gDot)"/>
<circle cx="758.2" cy="298.8" r="2.5" fill="url(#gDot)"/>
<circle cx="739.8" cy="304.8" r="2.7" fill="url(#gDot)"/>
<circle cx="747.6" cy="309.4" r="3.8" fill="url(#gDot)"/>
<circle cx="737.8" cy="314.9" r="4.0" fill="url(#gDot)"/>
<circle cx="780.9" cy="286.9" r="1.8" fill="url(#gDot)"/>
<circle cx="784.7" cy="289.0" r="1.8" fill="url(#gDot)"/>
<circle cx="780.3" cy="291.8" r="1.8" fill="url(#gDot)"/>
<circle cx="785.3" cy="294.0" r="2.2" fill="url(#gDot)"/>
<circle cx="782.3" cy="298.8" r="2.0" fill="url(#gDot)"/>
<circle cx="787.8" cy="300.4" r="2.2" fill="url(#gDot)"/>
<circle cx="784.3" cy="304.4" r="2.2" fill="url(#gDot)"/>
<circle cx="791.4" cy="305.4" r="2.2" fill="url(#gDot)"/>
<circle cx="781.3" cy="309.4" r="1.8" fill="url(#gDot)"/>
<circle cx="787.3" cy="310.8" r="2.7" fill="url(#gDot)"/>
<circle cx="793.4" cy="310.8" r="2.2" fill="url(#gDot)"/>
<circle cx="780.3" cy="314.1" r="1.8" fill="url(#gDot)"/>
<circle cx="785.3" cy="316.9" r="2.2" fill="url(#gDot)"/>
<circle cx="791.0" cy="316.1" r="2.2" fill="url(#gDot)"/>
<circle cx="796.0" cy="315.5" r="1.8" fill="url(#gDot)"/>
<circle cx="789.4" cy="321.5" r="2.5" fill="url(#gDot)"/>
<circle cx="796.4" cy="320.5" r="2.7" fill="url(#gDot)"/>
<circle cx="782.3" cy="322.9" r="2.5" fill="url(#gDot)"/>
<circle cx="788.4" cy="328.5" r="3.6" fill="url(#gDot)"/>
<circle cx="797.8" cy="326.5" r="2.9" fill="url(#gDot)"/>
<circle cx="796.0" cy="332.5" r="2.7" fill="url(#gDot)"/>
<circle cx="764.7" cy="309.0" r="1.8" fill="url(#gDot)"/>
<circle cx="775.3" cy="310.4" r="1.8" fill="url(#gDot)"/>
<circle cx="769.9" cy="315.9" r="1.8" fill="url(#gDot)"/>
</g>
<circle cx="721" cy="281.2" r="156.75" fill="none" stroke="#000" stroke-width="3"/>
<line x1="234.0" y1="159.0" x2="322.0" y2="270.0" stroke="#111" stroke-width="1.3"/>
<line x1="171.0" y1="241.0" x2="375.0" y2="373.5" stroke="#111" stroke-width="1.3"/>
<line x1="523.5" y1="137.5" x2="418.5" y2="351.5" stroke="#111" stroke-width="1.3"/>
<line x1="750.2" y1="113.3" x2="718.2" y2="165.5" stroke="#111" stroke-width="1.3"/>
<line x1="509.5" y1="416.0" x2="534.5" y2="462.0" stroke="#111" stroke-width="1.3"/>
<line x1="691.0" y1="371.0" x2="676.0" y2="452.0" stroke="#111" stroke-width="1.3"/>
<line x1="747.5" y1="309.0" x2="814.5" y2="485.5" stroke="#111" stroke-width="1.3"/>
<line x1="794.5" y1="331.0" x2="814.5" y2="485.5" stroke="#111" stroke-width="1.3"/>
<text x="377.5" y="76.2" font-size="57.5" fill="#231f20" font-weight="normal" text-anchor="start" textLength="243.5" lengthAdjust="spacingAndGlyphs"  stroke="#231f20" stroke-width="0.00">MIGRAINE</text>
<text x="161.0" y="153.0" font-size="18.0" fill="#111" font-weight="normal" text-anchor="start" textLength="147.0" lengthAdjust="spacingAndGlyphs"  stroke="#111" stroke-width="0.45">Brain blood vessel</text>
<text x="109.5" y="236.7" font-size="18.0" fill="#111" font-weight="normal" text-anchor="start" textLength="121.5" lengthAdjust="spacingAndGlyphs"  stroke="#111" stroke-width="0.45">Throbbing pain</text>
<text x="449.0" y="128.7" font-size="18.0" fill="#111" font-weight="normal" text-anchor="start" textLength="143.0" lengthAdjust="spacingAndGlyphs"  stroke="#111" stroke-width="0.45">Peripheral neuron</text>
<text x="734.0" y="105.0" font-size="18.0" fill="#111" font-weight="normal" text-anchor="start" textLength="37.0" lengthAdjust="spacingAndGlyphs"  stroke="#111" stroke-width="0.45">Skull</text>
<text x="508.5" y="477.5" font-size="18.0" fill="#111" font-weight="normal" text-anchor="start" textLength="57.0" lengthAdjust="spacingAndGlyphs"  stroke="#111" stroke-width="0.45">Central</text>
<text x="512.0" y="499.5" font-size="18.0" fill="#111" font-weight="normal" text-anchor="start" textLength="55.0" lengthAdjust="spacingAndGlyphs"  stroke="#111" stroke-width="0.45">neuron</text>
<text x="629.0" y="473.5" font-size="18.0" fill="#111" font-weight="normal" text-anchor="start" textLength="102.5" lengthAdjust="spacingAndGlyphs"  stroke="#111" stroke-width="0.45">Inflammation</text>
<text x="755.4" y="501.5" font-size="18.0" fill="#111" font-weight="normal" text-anchor="start" textLength="122.0" lengthAdjust="spacingAndGlyphs"  stroke="#111" stroke-width="0.45">Peptide release</text>
<g>
<text x="835" y="618" font-size="46" font-weight="bold" fill="url(#gTop)" textLength="76" lengthAdjust="spacingAndGlyphs" stroke="#0c300d" stroke-width="0.5">Top</text>
<path d="M897.5,584.5 C905,588 918.5,597 916.5,609 C915,617.5 906,620.5 900.5,617 C894,611 896.5,596 897.5,584.5 Z" fill="url(#gLeaf)" stroke="#fff" stroke-width="2.2"/>
<path d="M897.5,584.5 C905,588 918.5,597 916.5,609 C915,617.5 906,620.5 900.5,617 C894,611 896.5,596 897.5,584.5 Z" fill="url(#gLeaf)" stroke="#6db52c" stroke-width="0.8"/>
<path d="M899,588 C903,598 908,607 908.5,622" fill="none" stroke="#2f7d14" stroke-width="1.3"/>
<path d="M899.5,590 C906,593 911,599 912,606 C908,601 903,596 899.5,590 Z" fill="#d8f0a8" opacity="0.7"/>
<text x="918" y="618" font-size="46" font-weight="bold" fill="url(#gTen)" textLength="44.5" lengthAdjust="spacingAndGlyphs" stroke="#55a31d" stroke-width="0.7">10</text>
<text x="845.5" y="630.5" font-size="9.8" font-weight="bold" fill="#2f6b1a" textLength="36.5" lengthAdjust="spacing" stroke="#2f6b1a" stroke-width="0.25">Home</text>
<text x="896.5" y="630.5" font-size="9.8" font-weight="bold" fill="#2f6b1a" textLength="65.5" lengthAdjust="spacing" stroke="#2f6b1a" stroke-width="0.25">Remedies</text>
</g>
<g opacity="0.33" filter="url(#b1)"><text x="57.0" y="553.6" font-size="25" font-weight="bold" fill="#8c8c8c" textLength="44" lengthAdjust="spacingAndGlyphs">Top</text><text x="103.0" y="553.6" font-size="25" font-weight="bold" fill="#b0b0b0" textLength="25" lengthAdjust="spacingAndGlyphs">10</text><text x="64.0" y="560.1" font-size="5.5" font-weight="bold" fill="#999" textLength="62" lengthAdjust="spacing">Home Remedies</text></g>
<g opacity="0.45" filter="url(#b1)"><text x="220.0" y="336.8" font-size="25" font-weight="bold" fill="#8c8c8c" textLength="44" lengthAdjust="spacingAndGlyphs">Top</text><text x="266.0" y="336.8" font-size="25" font-weight="bold" fill="#b0b0b0" textLength="25" lengthAdjust="spacingAndGlyphs">10</text><text x="227.0" y="343.3" font-size="5.5" font-weight="bold" fill="#999" textLength="62" lengthAdjust="spacing">Home Remedies</text></g>
<g opacity="0.30" filter="url(#b1)"><text x="559.0" y="545.0" font-size="25" font-weight="bold" fill="#8c8c8c" textLength="44" lengthAdjust="spacingAndGlyphs">Top</text><text x="605.0" y="545.0" font-size="25" font-weight="bold" fill="#b0b0b0" textLength="25" lengthAdjust="spacingAndGlyphs">10</text><text x="566.0" y="551.5" font-size="5.5" font-weight="bold" fill="#999" textLength="62" lengthAdjust="spacing">Home Remedies</text></g>
<g opacity="0.50" filter="url(#b1)"><text x="829.0" y="355.0" font-size="25" font-weight="bold" fill="#8c8c8c" textLength="44" lengthAdjust="spacingAndGlyphs">Top</text><text x="875.0" y="355.0" font-size="25" font-weight="bold" fill="#b0b0b0" textLength="25" lengthAdjust="spacingAndGlyphs">10</text><text x="836.0" y="361.5" font-size="5.5" font-weight="bold" fill="#999" textLength="62" lengthAdjust="spacing">Home Remedies</text></g></svg></body></html>
